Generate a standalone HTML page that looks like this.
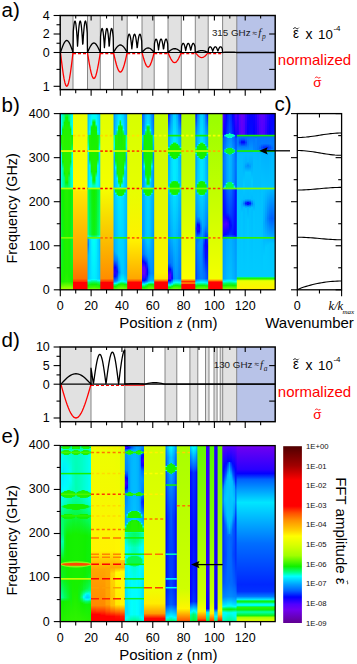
<!DOCTYPE html>
<html><head><meta charset="utf-8"><style>
html,body{margin:0;padding:0;background:#fff;width:357px;height:664px;overflow:hidden}
svg{display:block}
</style></head><body>
<svg width="357" height="664" viewBox="0 0 357 664">
<rect x="60.20" y="15.50" width="215.00" height="74.10" fill="#fff" />
<rect x="60.50" y="15.50" width="12.50" height="74.10" fill="#e1e1e1" />
<rect x="87.50" y="15.50" width="12.80" height="74.10" fill="#e1e1e1" />
<rect x="113.50" y="15.50" width="13.70" height="74.10" fill="#e1e1e1" />
<rect x="142.00" y="15.50" width="12.20" height="74.10" fill="#e1e1e1" />
<rect x="168.00" y="15.50" width="13.30" height="74.10" fill="#e1e1e1" />
<rect x="195.30" y="15.50" width="12.90" height="74.10" fill="#e1e1e1" />
<rect x="222.60" y="15.50" width="14.20" height="74.10" fill="#e1e1e1" />
<rect x="236.80" y="15.50" width="38.40" height="74.10" fill="#b8c3e8" />
<line x1="73.00" y1="15.50" x2="73.00" y2="89.60" stroke="#7a7a7a" stroke-width="0.9"/>
<line x1="87.50" y1="15.50" x2="87.50" y2="89.60" stroke="#7a7a7a" stroke-width="0.9"/>
<line x1="100.30" y1="15.50" x2="100.30" y2="89.60" stroke="#7a7a7a" stroke-width="0.9"/>
<line x1="113.50" y1="15.50" x2="113.50" y2="89.60" stroke="#7a7a7a" stroke-width="0.9"/>
<line x1="127.20" y1="15.50" x2="127.20" y2="89.60" stroke="#7a7a7a" stroke-width="0.9"/>
<line x1="142.00" y1="15.50" x2="142.00" y2="89.60" stroke="#7a7a7a" stroke-width="0.9"/>
<line x1="154.20" y1="15.50" x2="154.20" y2="89.60" stroke="#7a7a7a" stroke-width="0.9"/>
<line x1="168.00" y1="15.50" x2="168.00" y2="89.60" stroke="#7a7a7a" stroke-width="0.9"/>
<line x1="181.30" y1="15.50" x2="181.30" y2="89.60" stroke="#7a7a7a" stroke-width="0.9"/>
<line x1="195.30" y1="15.50" x2="195.30" y2="89.60" stroke="#7a7a7a" stroke-width="0.9"/>
<line x1="208.20" y1="15.50" x2="208.20" y2="89.60" stroke="#7a7a7a" stroke-width="0.9"/>
<line x1="222.60" y1="15.50" x2="222.60" y2="89.60" stroke="#7a7a7a" stroke-width="0.9"/>
<line x1="236.80" y1="15.50" x2="236.80" y2="89.60" stroke="#7a7a7a" stroke-width="0.9"/>
<polyline points="60.50,52.50 61.54,49.39 62.58,46.49 63.62,44.00 64.67,42.09 65.71,40.88 66.75,40.48 67.79,40.88 68.83,42.09 69.88,44.00 70.92,46.49 71.96,49.39 73.00,52.50 73.00,52.50 73.30,31.55 73.60,28.15 73.91,25.39 74.21,23.29 74.51,21.87 74.81,21.15 75.11,21.13 75.42,21.81 75.72,23.20 76.02,25.26 76.32,27.98 76.62,31.34 76.93,35.35 77.23,40.09 77.53,46.14 77.83,41.90 78.14,36.85 78.44,32.62 78.74,29.04 79.04,26.10 79.34,23.81 79.65,22.20 79.95,21.28 80.25,21.06 80.55,21.55 80.85,22.74 81.16,24.61 81.46,27.15 81.76,30.34 82.06,34.16 82.36,38.68 82.67,44.19 82.97,43.54 83.27,38.17 83.57,33.73 83.88,29.97 84.18,26.86 84.48,24.39 84.78,22.58 85.08,21.47 85.39,21.05 85.69,21.34 85.99,22.34 86.29,24.02 86.59,26.37 86.90,29.38 87.20,33.02 87.50,52.50 87.50,52.50 88.57,50.03 89.63,47.74 90.70,45.76 91.77,44.25 92.83,43.30 93.90,42.97 94.97,43.30 96.03,44.25 97.10,45.76 98.17,47.74 99.23,50.03 100.30,52.50 100.30,52.50 100.58,36.48 100.85,33.88 101.12,31.77 101.40,30.17 101.67,29.08 101.95,28.53 102.22,28.51 102.50,29.03 102.77,30.09 103.05,31.67 103.33,33.75 103.60,36.32 103.88,39.39 104.15,43.01 104.42,47.64 104.70,44.39 104.97,40.53 105.25,37.29 105.52,34.56 105.80,32.31 106.08,30.56 106.35,29.33 106.62,28.63 106.90,28.46 107.17,28.83 107.45,29.74 107.72,31.17 108.00,33.12 108.28,35.55 108.55,38.48 108.83,41.93 109.10,46.15 109.38,45.65 109.65,41.54 109.92,38.15 110.20,35.27 110.47,32.89 110.75,31.00 111.03,29.62 111.30,28.77 111.58,28.45 111.85,28.67 112.12,29.43 112.40,30.72 112.67,32.52 112.95,34.82 113.22,37.61 113.50,52.50 113.50,52.50 114.64,50.54 115.78,48.71 116.92,47.14 118.07,45.93 119.21,45.17 120.35,44.91 121.49,45.17 122.63,45.93 123.78,47.14 124.92,48.71 126.06,50.54 127.20,52.50 127.20,52.50 127.51,40.30 127.82,38.32 128.12,36.71 128.43,35.49 128.74,34.66 129.05,34.24 129.36,34.23 129.67,34.63 129.97,35.43 130.28,36.64 130.59,38.22 130.90,40.18 131.21,42.51 131.52,45.27 131.82,48.80 132.13,46.33 132.44,43.39 132.75,40.92 133.06,38.84 133.37,37.13 133.68,35.79 133.98,34.86 134.29,34.32 134.60,34.19 134.91,34.48 135.22,35.17 135.53,36.26 135.83,37.74 136.14,39.59 136.45,41.82 136.76,44.45 137.07,47.66 137.38,47.28 137.68,44.16 137.99,41.57 138.30,39.38 138.61,37.57 138.92,36.13 139.22,35.08 139.53,34.43 139.84,34.19 140.15,34.36 140.46,34.93 140.77,35.91 141.07,37.29 141.38,39.04 141.69,41.16 142.00,52.50 142.00,52.50 143.02,51.30 144.03,50.19 145.05,49.23 146.07,48.49 147.08,48.03 148.10,47.88 149.12,48.03 150.13,48.49 151.15,49.23 152.17,50.19 153.18,51.30 154.20,52.50 154.20,52.50 154.49,43.56 154.77,42.12 155.06,40.94 155.35,40.04 155.64,39.44 155.92,39.13 156.21,39.12 156.50,39.41 156.79,40.00 157.07,40.88 157.36,42.04 157.65,43.48 157.94,45.19 158.22,47.21 158.51,49.79 158.80,47.98 159.09,45.83 159.38,44.02 159.66,42.49 159.95,41.24 160.24,40.27 160.53,39.58 160.81,39.19 161.10,39.09 161.39,39.30 161.67,39.81 161.96,40.61 162.25,41.69 162.54,43.05 162.82,44.68 163.11,46.60 163.40,48.96 163.69,48.68 163.97,46.39 164.26,44.50 164.55,42.89 164.84,41.56 165.12,40.51 165.41,39.74 165.70,39.27 165.99,39.09 166.28,39.21 166.56,39.64 166.85,40.35 167.14,41.36 167.43,42.64 167.71,44.19 168.00,52.50 168.00,52.50 169.11,51.49 170.22,50.56 171.32,49.75 172.43,49.14 173.54,48.75 174.65,48.62 175.76,48.75 176.87,49.14 177.98,49.75 179.08,50.56 180.19,51.49 181.30,52.50 181.30,52.50 181.59,46.40 181.88,45.41 182.18,44.61 182.47,44.00 182.76,43.58 183.05,43.37 183.34,43.37 183.63,43.56 183.93,43.97 184.22,44.57 184.51,45.36 184.80,46.34 185.09,47.51 185.38,48.89 185.68,50.65 185.97,49.41 186.26,47.94 186.55,46.71 186.84,45.67 187.13,44.81 187.43,44.15 187.72,43.68 188.01,43.41 188.30,43.35 188.59,43.49 188.88,43.83 189.18,44.38 189.47,45.12 189.76,46.05 190.05,47.16 190.34,48.47 190.63,50.08 190.93,49.89 191.22,48.33 191.51,47.04 191.80,45.94 192.09,45.03 192.38,44.31 192.68,43.79 192.97,43.46 193.26,43.34 193.55,43.43 193.84,43.72 194.13,44.21 194.43,44.89 194.72,45.77 195.01,46.83 195.30,52.50 195.30,52.50 196.38,52.02 197.45,51.58 198.53,51.19 199.60,50.90 200.68,50.71 201.75,50.65 202.82,50.71 203.90,50.90 204.97,51.19 206.05,51.58 207.12,52.02 208.20,52.50 208.20,52.50 208.50,48.68 208.80,48.06 209.10,47.56 209.40,47.17 209.70,46.92 210.00,46.78 210.30,46.78 210.60,46.90 210.90,47.16 211.20,47.53 211.50,48.03 211.80,48.64 212.10,49.37 212.40,50.24 212.70,51.34 213.00,50.57 213.30,49.65 213.60,48.87 213.90,48.22 214.20,47.69 214.50,47.27 214.80,46.97 215.10,46.81 215.40,46.77 215.70,46.86 216.00,47.07 216.30,47.41 216.60,47.88 216.90,48.46 217.20,49.16 217.50,49.98 217.80,50.98 218.10,50.87 218.40,49.89 218.70,49.08 219.00,48.39 219.30,47.82 219.60,47.37 219.90,47.04 220.20,46.84 220.50,46.77 220.80,46.82 221.10,47.00 221.40,47.31 221.70,47.74 222.00,48.28 222.30,48.95 222.60,52.50 222.60,52.50 223.78,52.38 224.97,52.27 226.15,52.17 227.33,52.10 228.52,52.05 229.70,52.04 230.88,52.05 232.07,52.10 233.25,52.17 234.43,52.27 235.62,52.38 236.80,52.50 275.20,52.50" fill="none" stroke="#000" stroke-width="1.3" stroke-linejoin="round"/>
<polyline points="60.50,52.50 61.39,60.02 62.29,67.17 63.18,73.57 64.07,78.93 64.96,82.95 65.86,85.45 66.75,86.30 67.64,85.45 68.54,82.95 69.43,78.93 70.32,73.57 71.21,67.17 72.11,60.02 73.00,52.50" fill="none" stroke="#ff0000" stroke-width="1.3" stroke-linejoin="round"/>
<polyline points="87.50,52.50 88.41,58.29 89.33,63.79 90.24,68.73 91.16,72.85 92.07,75.95 92.99,77.87 93.90,78.53 94.81,77.87 95.73,75.95 96.64,72.85 97.56,68.73 98.47,63.79 99.39,58.29 100.30,52.50" fill="none" stroke="#ff0000" stroke-width="1.3" stroke-linejoin="round"/>
<polyline points="113.50,52.50 114.48,56.86 115.46,61.01 116.44,64.72 117.41,67.83 118.39,70.16 119.37,71.61 120.35,72.10 121.33,71.61 122.31,70.16 123.29,67.83 124.26,64.72 125.24,61.01 126.22,56.86 127.20,52.50" fill="none" stroke="#ff0000" stroke-width="1.3" stroke-linejoin="round"/>
<polyline points="142.00,52.50 142.87,55.73 143.74,58.81 144.61,61.56 145.49,63.86 146.36,65.59 147.23,66.67 148.10,67.03 148.97,66.67 149.84,65.59 150.71,63.86 151.59,61.56 152.46,58.81 153.33,55.73 154.20,52.50" fill="none" stroke="#ff0000" stroke-width="1.3" stroke-linejoin="round"/>
<polyline points="168.00,52.50 168.95,54.76 169.90,56.90 170.85,58.82 171.80,60.43 172.75,61.64 173.70,62.39 174.65,62.64 175.60,62.39 176.55,61.64 177.50,60.43 178.45,58.82 179.40,56.90 180.35,54.76 181.30,52.50" fill="none" stroke="#ff0000" stroke-width="1.3" stroke-linejoin="round"/>
<polyline points="195.30,52.50 196.22,53.63 197.14,54.70 198.06,55.66 198.99,56.46 199.91,57.07 200.83,57.44 201.75,57.57 202.67,57.44 203.59,57.07 204.51,56.46 205.44,55.66 206.36,54.70 207.28,53.63 208.20,52.50" fill="none" stroke="#ff0000" stroke-width="1.3" stroke-linejoin="round"/>
<polyline points="73.00,53.70 87.50,53.70" fill="none" stroke="#ff0000" stroke-width="1.2" stroke-linejoin="round" stroke-dasharray="3,2"/>
<polyline points="100.30,53.70 113.50,53.70" fill="none" stroke="#ff0000" stroke-width="1.2" stroke-linejoin="round" stroke-dasharray="3,2"/>
<polyline points="127.20,53.70 142.00,53.70" fill="none" stroke="#ff0000" stroke-width="1.2" stroke-linejoin="round" stroke-dasharray="3,2"/>
<polyline points="154.20,53.70 168.00,53.70" fill="none" stroke="#ff0000" stroke-width="1.2" stroke-linejoin="round" stroke-dasharray="3,2"/>
<polyline points="181.30,53.70 195.30,53.70" fill="none" stroke="#ff0000" stroke-width="1.2" stroke-linejoin="round" stroke-dasharray="3,2"/>
<polyline points="208.20,53.70 222.60,53.70" fill="none" stroke="#ff0000" stroke-width="1.2" stroke-linejoin="round" stroke-dasharray="3,2"/>
<line x1="60.20" y1="52.50" x2="275.20" y2="52.50" stroke="#000" stroke-width="1.2"/>
<rect x="60.2" y="15.5" width="215.00" height="74.10" fill="none" stroke="#000" stroke-width="1.45"/>
<line x1="53.60" y1="15.50" x2="60.20" y2="15.50" stroke="#000" stroke-width="1.1"/>
<text x="49.80" y="19.90" font-size="12.5" text-anchor="end" fill="#000" font-family='"Liberation Sans", sans-serif' >4</text>
<line x1="53.60" y1="34.00" x2="60.20" y2="34.00" stroke="#000" stroke-width="1.1"/>
<text x="49.80" y="38.40" font-size="12.5" text-anchor="end" fill="#000" font-family='"Liberation Sans", sans-serif' >2</text>
<line x1="53.60" y1="52.50" x2="60.20" y2="52.50" stroke="#000" stroke-width="1.1"/>
<text x="49.80" y="56.90" font-size="12.5" text-anchor="end" fill="#000" font-family='"Liberation Sans", sans-serif' >0</text>
<line x1="56.50" y1="24.75" x2="60.20" y2="24.75" stroke="#000" stroke-width="1.1"/>
<line x1="56.50" y1="43.25" x2="60.20" y2="43.25" stroke="#000" stroke-width="1.1"/>
<line x1="53.60" y1="86.30" x2="60.20" y2="86.30" stroke="#000" stroke-width="1.1"/>
<text x="49.80" y="90.70" font-size="12.5" text-anchor="end" fill="#000" font-family='"Liberation Sans", sans-serif' >1</text>
<line x1="56.50" y1="69.40" x2="60.20" y2="69.40" stroke="#000" stroke-width="1.1"/>
<line x1="269.20" y1="34.00" x2="275.20" y2="34.00" stroke="#000" stroke-width="1.1"/>
<line x1="269.20" y1="69.40" x2="275.20" y2="69.40" stroke="#000" stroke-width="1.1"/>
<line x1="75.71" y1="15.50" x2="75.71" y2="18.50" stroke="#000" stroke-width="1.1"/>
<line x1="91.12" y1="15.50" x2="91.12" y2="20.50" stroke="#000" stroke-width="1.1"/>
<line x1="106.53" y1="15.50" x2="106.53" y2="18.50" stroke="#000" stroke-width="1.1"/>
<line x1="121.94" y1="15.50" x2="121.94" y2="20.50" stroke="#000" stroke-width="1.1"/>
<line x1="137.35" y1="15.50" x2="137.35" y2="18.50" stroke="#000" stroke-width="1.1"/>
<line x1="152.76" y1="15.50" x2="152.76" y2="20.50" stroke="#000" stroke-width="1.1"/>
<line x1="168.17" y1="15.50" x2="168.17" y2="18.50" stroke="#000" stroke-width="1.1"/>
<line x1="183.58" y1="15.50" x2="183.58" y2="20.50" stroke="#000" stroke-width="1.1"/>
<line x1="198.99" y1="15.50" x2="198.99" y2="18.50" stroke="#000" stroke-width="1.1"/>
<line x1="214.40" y1="15.50" x2="214.40" y2="20.50" stroke="#000" stroke-width="1.1"/>
<line x1="229.81" y1="15.50" x2="229.81" y2="18.50" stroke="#000" stroke-width="1.1"/>
<line x1="245.22" y1="15.50" x2="245.22" y2="20.50" stroke="#000" stroke-width="1.1"/>
<line x1="260.63" y1="15.50" x2="260.63" y2="18.50" stroke="#000" stroke-width="1.1"/>
<line x1="60.30" y1="89.60" x2="60.30" y2="95.80" stroke="#000" stroke-width="1.1"/>
<line x1="75.71" y1="89.60" x2="75.71" y2="93.20" stroke="#000" stroke-width="1.1"/>
<line x1="91.12" y1="89.60" x2="91.12" y2="95.80" stroke="#000" stroke-width="1.1"/>
<line x1="106.53" y1="89.60" x2="106.53" y2="93.20" stroke="#000" stroke-width="1.1"/>
<line x1="121.94" y1="89.60" x2="121.94" y2="95.80" stroke="#000" stroke-width="1.1"/>
<line x1="137.35" y1="89.60" x2="137.35" y2="93.20" stroke="#000" stroke-width="1.1"/>
<line x1="152.76" y1="89.60" x2="152.76" y2="95.80" stroke="#000" stroke-width="1.1"/>
<line x1="168.17" y1="89.60" x2="168.17" y2="93.20" stroke="#000" stroke-width="1.1"/>
<line x1="183.58" y1="89.60" x2="183.58" y2="95.80" stroke="#000" stroke-width="1.1"/>
<line x1="198.99" y1="89.60" x2="198.99" y2="93.20" stroke="#000" stroke-width="1.1"/>
<line x1="214.40" y1="89.60" x2="214.40" y2="95.80" stroke="#000" stroke-width="1.1"/>
<line x1="229.81" y1="89.60" x2="229.81" y2="93.20" stroke="#000" stroke-width="1.1"/>
<line x1="245.22" y1="89.60" x2="245.22" y2="95.80" stroke="#000" stroke-width="1.1"/>
<line x1="260.63" y1="89.60" x2="260.63" y2="93.20" stroke="#000" stroke-width="1.1"/>
<text x="250.60" y="36.10" font-size="9.8" text-anchor="end" fill="#1a1a1a" font-family='"Liberation Sans", sans-serif' >315 GHz</text>
<text x="252.60" y="35.50" font-size="8.5" text-anchor="start" fill="#1a1a1a" font-family='"Liberation Sans", sans-serif' >&#8776;</text>
<text x="258.20" y="36.10" font-size="11" text-anchor="start" fill="#1a1a1a" font-family='"Liberation Serif", serif' font-style="italic">f</text>
<text x="262.00" y="38.90" font-size="7.5" text-anchor="start" fill="#1a1a1a" font-family='"Liberation Serif", serif' font-style="italic">p</text>
<text x="293.10" y="38.30" font-size="15.5" text-anchor="start" fill="#000" font-family='"Liberation Sans", sans-serif' textLength="5.9" lengthAdjust="spacingAndGlyphs">&#949;</text>
<path d="M293.30,28.90 C294.40,27.30 295.23,27.50 296.05,28.20 S297.70,29.30 298.80,27.70" fill="none" stroke="#000" stroke-width="0.9"/>
<text x="305.40" y="38.50" font-size="14" text-anchor="start" fill="#000" font-family='"Liberation Sans", sans-serif' >x</text>
<text x="332.90" y="38.50" font-size="13.3" text-anchor="end" fill="#000" font-family='"Liberation Sans", sans-serif' >10</text>
<text x="333.40" y="30.90" font-size="8" text-anchor="start" fill="#000" font-family='"Liberation Sans", sans-serif' >-4</text>
<text x="314.50" y="65.20" font-size="15" text-anchor="middle" fill="#ff0000" font-family='"Liberation Sans", sans-serif' >normalized</text>
<text x="317.50" y="86.80" font-size="13.5" text-anchor="middle" fill="#ff0000" font-family='"Liberation Sans", sans-serif' >&#963;</text>
<path d="M315.00,78.20 C316.08,76.60 316.89,76.80 317.70,77.50 S319.32,78.60 320.40,77.00" fill="none" stroke="#ff0000" stroke-width="0.9"/>
<rect x="60.20" y="347.00" width="215.00" height="74.70" fill="#fff" />
<rect x="60.90" y="347.00" width="30.10" height="74.70" fill="#e1e1e1" />
<rect x="124.80" y="347.00" width="19.70" height="74.70" fill="#e1e1e1" />
<rect x="165.00" y="347.00" width="11.80" height="74.70" fill="#e1e1e1" />
<rect x="189.90" y="347.00" width="7.90" height="74.70" fill="#e1e1e1" />
<rect x="205.50" y="347.00" width="3.50" height="74.70" fill="#e1e1e1" />
<rect x="214.00" y="347.00" width="3.10" height="74.70" fill="#e1e1e1" />
<rect x="220.20" y="347.00" width="2.50" height="74.70" fill="#e1e1e1" />
<rect x="222.70" y="347.00" width="14.00" height="74.70" fill="#e1e1e1" />
<rect x="236.70" y="347.00" width="38.50" height="74.70" fill="#b8c3e8" />
<line x1="91.00" y1="347.00" x2="91.00" y2="421.70" stroke="#7a7a7a" stroke-width="0.9"/>
<line x1="124.80" y1="347.00" x2="124.80" y2="421.70" stroke="#7a7a7a" stroke-width="0.9"/>
<line x1="144.50" y1="347.00" x2="144.50" y2="421.70" stroke="#7a7a7a" stroke-width="0.9"/>
<line x1="165.00" y1="347.00" x2="165.00" y2="421.70" stroke="#7a7a7a" stroke-width="0.9"/>
<line x1="176.80" y1="347.00" x2="176.80" y2="421.70" stroke="#7a7a7a" stroke-width="0.9"/>
<line x1="189.90" y1="347.00" x2="189.90" y2="421.70" stroke="#7a7a7a" stroke-width="0.9"/>
<line x1="197.80" y1="347.00" x2="197.80" y2="421.70" stroke="#7a7a7a" stroke-width="0.9"/>
<line x1="205.50" y1="347.00" x2="205.50" y2="421.70" stroke="#7a7a7a" stroke-width="0.9"/>
<line x1="209.00" y1="347.00" x2="209.00" y2="421.70" stroke="#7a7a7a" stroke-width="0.9"/>
<line x1="214.00" y1="347.00" x2="214.00" y2="421.70" stroke="#7a7a7a" stroke-width="0.9"/>
<line x1="217.10" y1="347.00" x2="217.10" y2="421.70" stroke="#7a7a7a" stroke-width="0.9"/>
<line x1="220.20" y1="347.00" x2="220.20" y2="421.70" stroke="#7a7a7a" stroke-width="0.9"/>
<line x1="222.70" y1="347.00" x2="222.70" y2="421.70" stroke="#7a7a7a" stroke-width="0.9"/>
<line x1="236.70" y1="347.00" x2="236.70" y2="421.70" stroke="#7a7a7a" stroke-width="0.9"/>
<polyline points="60.90,384.20 62.15,382.83 63.41,381.48 64.66,380.19 65.92,378.95 67.17,377.81 68.42,376.78 69.68,375.88 70.93,375.12 72.19,374.51 73.44,374.07 74.70,373.80 75.95,373.71 77.20,373.80 78.46,374.07 79.71,374.51 80.97,375.12 82.22,375.88 83.47,376.78 84.73,377.81 85.98,378.95 87.24,380.19 88.49,381.48 89.75,382.83 91.00,384.20 91.00,384.20 91.00,368.27 91.28,369.93 91.56,371.66 91.84,373.45 92.13,375.31 92.41,377.22 92.69,379.17 92.97,381.15 93.25,383.15 93.53,383.23 93.82,381.22 94.10,379.21 94.38,377.22 94.66,375.25 94.94,373.33 95.22,371.45 95.51,369.63 95.79,367.87 96.07,366.19 96.35,364.59 96.63,363.08 96.92,361.67 97.20,360.37 97.48,359.19 97.76,358.12 98.04,357.17 98.32,356.36 98.61,355.69 98.89,355.15 99.17,354.75 99.45,354.50 99.73,354.39 100.01,354.43 100.30,354.62 100.58,354.95 100.86,355.43 101.14,356.06 101.42,356.82 101.70,357.73 101.98,358.76 102.27,359.93 102.55,361.22 102.83,362.63 103.11,364.15 103.39,365.77 103.67,367.49 103.96,369.30 104.24,371.19 104.52,373.14 104.80,375.16 105.08,377.23 105.36,379.34 105.65,381.49 105.93,383.65 106.21,382.58 106.49,380.41 106.77,378.25 107.06,376.11 107.34,374.01 107.62,371.95 107.90,369.94 108.18,368.00 108.46,366.13 108.75,364.35 109.03,362.66 109.31,361.07 109.59,359.59 109.87,358.22 110.15,356.98 110.44,355.87 110.72,354.90 111.00,354.07 111.28,353.38 111.56,352.85 111.84,352.46 112.12,352.24 112.41,352.17 112.69,352.26 112.97,352.51 113.25,352.91 113.53,353.47 113.81,354.19 114.10,355.05 114.38,356.06 114.66,357.22 114.94,358.51 115.22,359.93 115.50,361.48 115.79,363.14 116.07,364.91 116.35,366.78 116.63,368.75 116.91,370.79 117.19,372.91 117.48,375.10 117.76,377.33 118.04,379.60 118.32,381.91 118.60,384.17 118.88,381.84 119.17,379.52 119.45,377.21 119.73,374.93 120.01,372.69 120.29,370.50 120.57,368.37 120.86,366.31 121.14,364.34 121.42,362.46 121.70,360.67 121.98,359.00 122.27,357.45 122.55,356.03 122.83,354.74 123.11,353.60 123.39,352.60 123.67,351.75 123.95,351.07 124.24,350.54 124.52,350.18 124.80,349.99 124.80,384.20 124.80,384.20 126.77,384.01 128.74,383.85 130.71,383.71 132.68,383.63 134.65,383.60 136.62,383.63 138.59,383.71 140.56,383.85 142.53,384.01 144.50,384.20 144.50,384.20 146.21,383.81 147.92,383.46 149.62,383.15 151.33,382.91 153.04,382.76 154.75,382.71 156.46,382.76 158.17,382.91 159.88,383.15 161.58,383.46 163.29,383.81 165.00,384.20 275.20,384.20" fill="none" stroke="#000" stroke-width="1.3" stroke-linejoin="round"/>
<polyline points="60.90,384.20 62.15,388.61 63.41,392.95 64.66,397.13 65.92,401.10 67.17,404.78 68.42,408.10 69.68,411.02 70.93,413.47 72.19,415.43 73.44,416.85 74.70,417.71 75.95,418.00 77.20,417.71 78.46,416.85 79.71,415.43 80.97,413.47 82.22,411.02 83.47,408.10 84.73,404.78 85.98,401.10 87.24,397.13 88.49,392.95 89.75,388.61 91.00,384.20" fill="none" stroke="#ff0000" stroke-width="1.3" stroke-linejoin="round"/>
<polyline points="91.00,385.50 124.80,385.50" fill="none" stroke="#ff0000" stroke-width="1.2" stroke-linejoin="round" stroke-dasharray="3,2"/>
<polyline points="124.80,385.20 144.50,385.20" fill="none" stroke="#ff0000" stroke-width="1.1" stroke-linejoin="round"/>
<line x1="60.20" y1="384.20" x2="275.20" y2="384.20" stroke="#000" stroke-width="1.2"/>
<rect x="60.2" y="347.0" width="215.00" height="74.70" fill="none" stroke="#000" stroke-width="1.45"/>
<line x1="53.60" y1="347.00" x2="60.20" y2="347.00" stroke="#000" stroke-width="1.1"/>
<text x="49.80" y="351.40" font-size="12.5" text-anchor="end" fill="#000" font-family='"Liberation Sans", sans-serif' >10</text>
<line x1="53.60" y1="365.60" x2="60.20" y2="365.60" stroke="#000" stroke-width="1.1"/>
<text x="49.80" y="370.00" font-size="12.5" text-anchor="end" fill="#000" font-family='"Liberation Sans", sans-serif' >5</text>
<line x1="53.60" y1="384.20" x2="60.20" y2="384.20" stroke="#000" stroke-width="1.1"/>
<text x="49.80" y="388.60" font-size="12.5" text-anchor="end" fill="#000" font-family='"Liberation Sans", sans-serif' >0</text>
<line x1="56.50" y1="356.30" x2="60.20" y2="356.30" stroke="#000" stroke-width="1.1"/>
<line x1="56.50" y1="374.90" x2="60.20" y2="374.90" stroke="#000" stroke-width="1.1"/>
<line x1="53.60" y1="418.00" x2="60.20" y2="418.00" stroke="#000" stroke-width="1.1"/>
<text x="49.80" y="422.40" font-size="12.5" text-anchor="end" fill="#000" font-family='"Liberation Sans", sans-serif' >1</text>
<line x1="56.50" y1="401.10" x2="60.20" y2="401.10" stroke="#000" stroke-width="1.1"/>
<line x1="269.20" y1="365.60" x2="275.20" y2="365.60" stroke="#000" stroke-width="1.1"/>
<line x1="269.20" y1="401.10" x2="275.20" y2="401.10" stroke="#000" stroke-width="1.1"/>
<line x1="75.71" y1="347.00" x2="75.71" y2="350.00" stroke="#000" stroke-width="1.1"/>
<line x1="91.12" y1="347.00" x2="91.12" y2="352.00" stroke="#000" stroke-width="1.1"/>
<line x1="106.53" y1="347.00" x2="106.53" y2="350.00" stroke="#000" stroke-width="1.1"/>
<line x1="121.94" y1="347.00" x2="121.94" y2="352.00" stroke="#000" stroke-width="1.1"/>
<line x1="137.35" y1="347.00" x2="137.35" y2="350.00" stroke="#000" stroke-width="1.1"/>
<line x1="152.76" y1="347.00" x2="152.76" y2="352.00" stroke="#000" stroke-width="1.1"/>
<line x1="168.17" y1="347.00" x2="168.17" y2="350.00" stroke="#000" stroke-width="1.1"/>
<line x1="183.58" y1="347.00" x2="183.58" y2="352.00" stroke="#000" stroke-width="1.1"/>
<line x1="198.99" y1="347.00" x2="198.99" y2="350.00" stroke="#000" stroke-width="1.1"/>
<line x1="214.40" y1="347.00" x2="214.40" y2="352.00" stroke="#000" stroke-width="1.1"/>
<line x1="229.81" y1="347.00" x2="229.81" y2="350.00" stroke="#000" stroke-width="1.1"/>
<line x1="245.22" y1="347.00" x2="245.22" y2="352.00" stroke="#000" stroke-width="1.1"/>
<line x1="260.63" y1="347.00" x2="260.63" y2="350.00" stroke="#000" stroke-width="1.1"/>
<line x1="60.30" y1="421.70" x2="60.30" y2="427.90" stroke="#000" stroke-width="1.1"/>
<line x1="75.71" y1="421.70" x2="75.71" y2="425.30" stroke="#000" stroke-width="1.1"/>
<line x1="91.12" y1="421.70" x2="91.12" y2="427.90" stroke="#000" stroke-width="1.1"/>
<line x1="106.53" y1="421.70" x2="106.53" y2="425.30" stroke="#000" stroke-width="1.1"/>
<line x1="121.94" y1="421.70" x2="121.94" y2="427.90" stroke="#000" stroke-width="1.1"/>
<line x1="137.35" y1="421.70" x2="137.35" y2="425.30" stroke="#000" stroke-width="1.1"/>
<line x1="152.76" y1="421.70" x2="152.76" y2="427.90" stroke="#000" stroke-width="1.1"/>
<line x1="168.17" y1="421.70" x2="168.17" y2="425.30" stroke="#000" stroke-width="1.1"/>
<line x1="183.58" y1="421.70" x2="183.58" y2="427.90" stroke="#000" stroke-width="1.1"/>
<line x1="198.99" y1="421.70" x2="198.99" y2="425.30" stroke="#000" stroke-width="1.1"/>
<line x1="214.40" y1="421.70" x2="214.40" y2="427.90" stroke="#000" stroke-width="1.1"/>
<line x1="229.81" y1="421.70" x2="229.81" y2="425.30" stroke="#000" stroke-width="1.1"/>
<line x1="245.22" y1="421.70" x2="245.22" y2="427.90" stroke="#000" stroke-width="1.1"/>
<line x1="260.63" y1="421.70" x2="260.63" y2="425.30" stroke="#000" stroke-width="1.1"/>
<text x="252.40" y="368.00" font-size="9.8" text-anchor="end" fill="#1a1a1a" font-family='"Liberation Sans", sans-serif' >130 GHz</text>
<text x="254.40" y="367.40" font-size="8.5" text-anchor="start" fill="#1a1a1a" font-family='"Liberation Sans", sans-serif' >&#8776;</text>
<text x="260.00" y="368.00" font-size="11" text-anchor="start" fill="#1a1a1a" font-family='"Liberation Serif", serif' font-style="italic">f</text>
<text x="263.80" y="370.80" font-size="7.5" text-anchor="start" fill="#1a1a1a" font-family='"Liberation Serif", serif' font-style="italic">a</text>
<text x="293.10" y="369.40" font-size="15.5" text-anchor="start" fill="#000" font-family='"Liberation Sans", sans-serif' textLength="5.9" lengthAdjust="spacingAndGlyphs">&#949;</text>
<path d="M293.30,360.00 C294.40,358.40 295.23,358.60 296.05,359.30 S297.70,360.40 298.80,358.80" fill="none" stroke="#000" stroke-width="0.9"/>
<text x="305.40" y="369.60" font-size="14" text-anchor="start" fill="#000" font-family='"Liberation Sans", sans-serif' >x</text>
<text x="332.90" y="369.60" font-size="13.3" text-anchor="end" fill="#000" font-family='"Liberation Sans", sans-serif' >10</text>
<text x="333.40" y="362.00" font-size="8" text-anchor="start" fill="#000" font-family='"Liberation Sans", sans-serif' >-4</text>
<text x="314.50" y="397.20" font-size="15" text-anchor="middle" fill="#ff0000" font-family='"Liberation Sans", sans-serif' >normalized</text>
<text x="317.50" y="418.80" font-size="13.5" text-anchor="middle" fill="#ff0000" font-family='"Liberation Sans", sans-serif' >&#963;</text>
<path d="M315.00,410.20 C316.08,408.60 316.89,408.80 317.70,409.50 S319.32,410.60 320.40,409.00" fill="none" stroke="#ff0000" stroke-width="0.9"/>
<defs><linearGradient id="gb0" x2="0" y2="1"><stop offset=".003" stop-color="#00f9ff"/><stop offset=".116" stop-color="#00fffe"/><stop offset=".122" stop-color="#18f100"/><stop offset=".162" stop-color="#0ef212"/><stop offset=".207" stop-color="#00ff8a"/><stop offset=".236" stop-color="#00ffed"/><stop offset=".418" stop-color="#00ffe7"/><stop offset=".423" stop-color="#02fd73"/><stop offset=".429" stop-color="#0df317"/><stop offset=".702" stop-color="#0af634"/><stop offset=".764" stop-color="#0af634"/><stop offset=".952" stop-color="#15f100"/><stop offset=".986" stop-color="#81fc00"/><stop offset=".997" stop-color="#a7ff00"/></linearGradient><linearGradient id="gb1" x2="0" y2="1"><stop offset=".003" stop-color="#00ffb2"/><stop offset=".06" stop-color="#00ffb2"/><stop offset=".071" stop-color="#02fd6f"/><stop offset=".088" stop-color="#10f001"/><stop offset=".139" stop-color="#2ff300"/><stop offset=".259" stop-color="#25f200"/><stop offset=".27" stop-color="#10f000"/><stop offset=".31" stop-color="#00ffa8"/><stop offset=".418" stop-color="#00ffa6"/><stop offset=".429" stop-color="#10f000"/><stop offset=".702" stop-color="#0df316"/><stop offset=".781" stop-color="#0df316"/><stop offset=".952" stop-color="#1ef100"/><stop offset=".986" stop-color="#89fd00"/><stop offset=".997" stop-color="#af0"/></linearGradient><linearGradient id="gb2" x2="0" y2="1"><stop offset=".003" stop-color="#03fd6c"/><stop offset=".031" stop-color="#02fd6d"/><stop offset=".043" stop-color="#0af52d"/><stop offset=".048" stop-color="#10f003"/><stop offset=".077" stop-color="#22f200"/><stop offset=".321" stop-color="#2df300"/><stop offset=".338" stop-color="#0ff107"/><stop offset=".361" stop-color="#03fc6a"/><stop offset=".418" stop-color="#02fe74"/><stop offset=".429" stop-color="#1af100"/><stop offset=".923" stop-color="#1bf100"/><stop offset=".952" stop-color="#24f200"/><stop offset=".986" stop-color="#90fd00"/><stop offset=".997" stop-color="#adff00"/></linearGradient><linearGradient id="gb3" x2="0" y2="1"><stop offset=".003" stop-color="#08f842"/><stop offset=".02" stop-color="#14f000"/><stop offset=".077" stop-color="#22f200"/><stop offset=".372" stop-color="#2ff300"/><stop offset=".389" stop-color="#11f000"/><stop offset=".412" stop-color="#05fa58"/><stop offset=".418" stop-color="#05fa58"/><stop offset=".423" stop-color="#0cf31c"/><stop offset=".429" stop-color="#21f200"/><stop offset=".895" stop-color="#1ef100"/><stop offset=".952" stop-color="#29f300"/><stop offset=".997" stop-color="#afff00"/></linearGradient><linearGradient id="gb4" x2="0" y2="1"><stop offset=".003" stop-color="#08f842"/><stop offset=".02" stop-color="#14f000"/><stop offset=".077" stop-color="#22f200"/><stop offset=".372" stop-color="#2ff300"/><stop offset=".389" stop-color="#11f000"/><stop offset=".412" stop-color="#05fa58"/><stop offset=".418" stop-color="#05fa58"/><stop offset=".423" stop-color="#0cf31c"/><stop offset=".429" stop-color="#21f200"/><stop offset=".895" stop-color="#1ef100"/><stop offset=".952" stop-color="#29f300"/><stop offset=".997" stop-color="#afff00"/></linearGradient><linearGradient id="gb5" x2="0" y2="1"><stop offset=".003" stop-color="#03fd6c"/><stop offset=".031" stop-color="#02fd6d"/><stop offset=".043" stop-color="#0af52d"/><stop offset=".048" stop-color="#10f003"/><stop offset=".077" stop-color="#22f200"/><stop offset=".321" stop-color="#2df300"/><stop offset=".338" stop-color="#0ff107"/><stop offset=".361" stop-color="#03fc6a"/><stop offset=".418" stop-color="#02fe74"/><stop offset=".429" stop-color="#1af100"/><stop offset=".923" stop-color="#1bf100"/><stop offset=".952" stop-color="#24f200"/><stop offset=".986" stop-color="#90fd00"/><stop offset=".997" stop-color="#adff00"/></linearGradient><linearGradient id="gb6" x2="0" y2="1"><stop offset=".003" stop-color="#00ffb2"/><stop offset=".06" stop-color="#00ffb2"/><stop offset=".071" stop-color="#02fd6f"/><stop offset=".088" stop-color="#10f001"/><stop offset=".139" stop-color="#2ff300"/><stop offset=".259" stop-color="#25f200"/><stop offset=".27" stop-color="#10f000"/><stop offset=".31" stop-color="#00ffa8"/><stop offset=".418" stop-color="#00ffa6"/><stop offset=".429" stop-color="#10f000"/><stop offset=".702" stop-color="#0df316"/><stop offset=".781" stop-color="#0df316"/><stop offset=".952" stop-color="#1ef100"/><stop offset=".986" stop-color="#89fd00"/><stop offset=".997" stop-color="#af0"/></linearGradient><linearGradient id="gb7" x2="0" y2="1"><stop offset=".003" stop-color="#00f8ff"/><stop offset=".116" stop-color="#00feff"/><stop offset=".122" stop-color="#12f000"/><stop offset=".168" stop-color="#0bf529"/><stop offset=".207" stop-color="#00ff9c"/><stop offset=".236" stop-color="#00fff4"/><stop offset=".418" stop-color="#00ffe9"/><stop offset=".423" stop-color="#02fe74"/><stop offset=".429" stop-color="#0df317"/><stop offset=".702" stop-color="#09f635"/><stop offset=".764" stop-color="#09f635"/><stop offset=".952" stop-color="#15f000"/><stop offset=".986" stop-color="#81fc00"/><stop offset=".997" stop-color="#a7ff00"/></linearGradient><linearGradient id="gb8" x2="0" y2="1"><stop offset=".003" stop-color="#ebff00"/><stop offset=".423" stop-color="#fffc00"/><stop offset=".44" stop-color="#ffe700"/><stop offset=".821" stop-color="#ff9d00"/><stop offset=".935" stop-color="#ff7300"/><stop offset=".952" stop-color="#ff3200"/><stop offset=".957" stop-color="#f00"/><stop offset=".997" stop-color="#f00"/></linearGradient><linearGradient id="gb9" x2="0" y2="1"><stop offset=".003" stop-color="#00c4ff"/><stop offset=".116" stop-color="#00cfff"/><stop offset=".122" stop-color="#04fb5c"/><stop offset=".162" stop-color="#00ff8e"/><stop offset=".196" stop-color="#00fbff"/><stop offset=".236" stop-color="#00d3ff"/><stop offset=".418" stop-color="#00daff"/><stop offset=".423" stop-color="#00ffdc"/><stop offset=".429" stop-color="#03fc66"/><stop offset=".679" stop-color="#00ff9e"/><stop offset=".685" stop-color="#00ffa7"/><stop offset=".69" stop-color="#00ffe0"/><stop offset=".696" stop-color="#0ef"/><stop offset=".713" stop-color="#0092ff"/><stop offset=".741" stop-color="#007eff"/><stop offset=".804" stop-color="#00bcff"/><stop offset=".935" stop-color="#00c8ff"/><stop offset=".946" stop-color="#00fbff"/><stop offset=".957" stop-color="#02fe73"/><stop offset=".969" stop-color="#0cf421"/><stop offset=".974" stop-color="#10f002"/><stop offset=".986" stop-color="#33f400"/><stop offset=".997" stop-color="#8bfd00"/></linearGradient><linearGradient id="gb10" x2="0" y2="1"><stop offset=".003" stop-color="#00dfff"/><stop offset=".094" stop-color="#00f2ff"/><stop offset=".099" stop-color="#00fffd"/><stop offset=".116" stop-color="#00ffbc"/><stop offset=".122" stop-color="#22f200"/><stop offset=".247" stop-color="#1af100"/><stop offset=".259" stop-color="#0df214"/><stop offset=".281" stop-color="#00ff97"/><stop offset=".293" stop-color="#00ffe8"/><stop offset=".304" stop-color="#00f3ff"/><stop offset=".418" stop-color="#00f5ff"/><stop offset=".429" stop-color="#09f738"/><stop offset=".685" stop-color="#04fb5d"/><stop offset=".696" stop-color="#00ffbd"/><stop offset=".702" stop-color="#00fffa"/><stop offset=".713" stop-color="#00d1ff"/><stop offset=".935" stop-color="#00d7ff"/><stop offset=".946" stop-color="#00ffe9"/><stop offset=".957" stop-color="#04fb61"/><stop offset=".969" stop-color="#0ef211"/><stop offset=".986" stop-color="#3cf500"/><stop offset=".997" stop-color="#8cfd00"/></linearGradient><linearGradient id="gb11" x2="0" y2="1"><stop offset=".003" stop-color="#00f4ff"/><stop offset=".054" stop-color="#00f9ff"/><stop offset=".06" stop-color="#00ffdb"/><stop offset=".071" stop-color="#08f842"/><stop offset=".077" stop-color="#0ef210"/><stop offset=".099" stop-color="#15f100"/><stop offset=".315" stop-color="#21f200"/><stop offset=".327" stop-color="#0ff108"/><stop offset=".361" stop-color="#00ffdf"/><stop offset=".418" stop-color="#00ffe4"/><stop offset=".423" stop-color="#02fd70"/><stop offset=".429" stop-color="#0ef213"/><stop offset=".685" stop-color="#0af62f"/><stop offset=".702" stop-color="#00ffb2"/><stop offset=".707" stop-color="#00ffe9"/><stop offset=".719" stop-color="#00f0ff"/><stop offset=".935" stop-color="#00e3ff"/><stop offset=".94" stop-color="#00f7ff"/><stop offset=".963" stop-color="#0bf425"/><stop offset=".969" stop-color="#0ff105"/><stop offset=".986" stop-color="#42f500"/><stop offset=".997" stop-color="#8dfd00"/></linearGradient><linearGradient id="gb12" x2="0" y2="1"><stop offset=".003" stop-color="#00fff9"/><stop offset=".026" stop-color="#00ffe4"/><stop offset=".043" stop-color="#0bf52a"/><stop offset=".048" stop-color="#11f000"/><stop offset=".293" stop-color="#22f200"/><stop offset=".378" stop-color="#17f100"/><stop offset=".389" stop-color="#09f636"/><stop offset=".406" stop-color="#00ffad"/><stop offset=".418" stop-color="#00ffc1"/><stop offset=".429" stop-color="#12f000"/><stop offset=".685" stop-color="#0ef213"/><stop offset=".707" stop-color="#00ffc1"/><stop offset=".713" stop-color="#00fff7"/><stop offset=".935" stop-color="#00ebff"/><stop offset=".94" stop-color="#00feff"/><stop offset=".957" stop-color="#07f94a"/><stop offset=".969" stop-color="#11f000"/><stop offset=".986" stop-color="#47f600"/><stop offset=".997" stop-color="#8dfd00"/></linearGradient><linearGradient id="gb13" x2="0" y2="1"><stop offset=".003" stop-color="#00fff9"/><stop offset=".026" stop-color="#00ffe4"/><stop offset=".043" stop-color="#0bf52a"/><stop offset=".048" stop-color="#11f000"/><stop offset=".293" stop-color="#22f200"/><stop offset=".378" stop-color="#17f100"/><stop offset=".389" stop-color="#09f636"/><stop offset=".406" stop-color="#00ffad"/><stop offset=".418" stop-color="#00ffc1"/><stop offset=".429" stop-color="#12f000"/><stop offset=".685" stop-color="#0ef213"/><stop offset=".707" stop-color="#00ffc1"/><stop offset=".713" stop-color="#00fff7"/><stop offset=".935" stop-color="#00ebff"/><stop offset=".94" stop-color="#00feff"/><stop offset=".957" stop-color="#07f94a"/><stop offset=".969" stop-color="#11f000"/><stop offset=".986" stop-color="#47f600"/><stop offset=".997" stop-color="#8dfd00"/></linearGradient><linearGradient id="gb14" x2="0" y2="1"><stop offset=".003" stop-color="#00f4ff"/><stop offset=".054" stop-color="#00f9ff"/><stop offset=".06" stop-color="#00ffdb"/><stop offset=".071" stop-color="#08f842"/><stop offset=".077" stop-color="#0ef210"/><stop offset=".099" stop-color="#15f100"/><stop offset=".315" stop-color="#21f200"/><stop offset=".327" stop-color="#0ff108"/><stop offset=".361" stop-color="#00ffdf"/><stop offset=".418" stop-color="#00ffe4"/><stop offset=".423" stop-color="#02fd70"/><stop offset=".429" stop-color="#0ef213"/><stop offset=".685" stop-color="#0af52f"/><stop offset=".702" stop-color="#00ffb1"/><stop offset=".707" stop-color="#00ffe8"/><stop offset=".719" stop-color="#00f0ff"/><stop offset=".935" stop-color="#00e3ff"/><stop offset=".94" stop-color="#00f7ff"/><stop offset=".963" stop-color="#0bf425"/><stop offset=".969" stop-color="#0ff105"/><stop offset=".986" stop-color="#42f500"/><stop offset=".997" stop-color="#8dfd00"/></linearGradient><linearGradient id="gb15" x2="0" y2="1"><stop offset=".003" stop-color="#00dfff"/><stop offset=".094" stop-color="#00f2ff"/><stop offset=".099" stop-color="#00fffd"/><stop offset=".116" stop-color="#00ffbc"/><stop offset=".122" stop-color="#22f200"/><stop offset=".247" stop-color="#1af100"/><stop offset=".259" stop-color="#0df214"/><stop offset=".281" stop-color="#00ff97"/><stop offset=".293" stop-color="#00ffe8"/><stop offset=".304" stop-color="#00f3ff"/><stop offset=".418" stop-color="#00f5ff"/><stop offset=".429" stop-color="#09f738"/><stop offset=".685" stop-color="#05fa59"/><stop offset=".696" stop-color="#00ffb2"/><stop offset=".702" stop-color="#00ffeb"/><stop offset=".713" stop-color="#00dbff"/><stop offset=".935" stop-color="#00d7ff"/><stop offset=".946" stop-color="#00ffe9"/><stop offset=".957" stop-color="#04fb61"/><stop offset=".969" stop-color="#0ef211"/><stop offset=".986" stop-color="#3cf500"/><stop offset=".997" stop-color="#8cfd00"/></linearGradient><linearGradient id="gb16" x2="0" y2="1"><stop offset=".003" stop-color="#00c4ff"/><stop offset=".116" stop-color="#00cfff"/><stop offset=".122" stop-color="#04fb5c"/><stop offset=".162" stop-color="#00ff8e"/><stop offset=".196" stop-color="#00fbff"/><stop offset=".236" stop-color="#00d3ff"/><stop offset=".418" stop-color="#00daff"/><stop offset=".423" stop-color="#00ffdc"/><stop offset=".429" stop-color="#03fc66"/><stop offset=".685" stop-color="#00ff93"/><stop offset=".696" stop-color="#00fffa"/><stop offset=".713" stop-color="#00bcff"/><stop offset=".935" stop-color="#00c8ff"/><stop offset=".946" stop-color="#00fbff"/><stop offset=".957" stop-color="#02fe73"/><stop offset=".969" stop-color="#0cf421"/><stop offset=".974" stop-color="#10f002"/><stop offset=".986" stop-color="#33f400"/><stop offset=".997" stop-color="#8bfd00"/></linearGradient><linearGradient id="gb17" x2="0" y2="1"><stop offset=".003" stop-color="#e2ff00"/><stop offset=".423" stop-color="#f5ff00"/><stop offset=".935" stop-color="#ff8d00"/><stop offset=".952" stop-color="#ff3200"/><stop offset=".957" stop-color="#f00"/><stop offset=".997" stop-color="#f00"/></linearGradient><linearGradient id="gb18" x2="0" y2="1"><stop offset=".003" stop-color="#009aff"/><stop offset=".116" stop-color="#00a4ff"/><stop offset=".122" stop-color="#00ffa8"/><stop offset=".162" stop-color="#00ffd8"/><stop offset=".185" stop-color="#00f5ff"/><stop offset=".247" stop-color="#00acff"/><stop offset=".52" stop-color="#00bdff"/><stop offset=".77" stop-color="#00a9ff"/><stop offset=".827" stop-color="#0079ff"/><stop offset=".872" stop-color="#0700ff"/><stop offset=".901" stop-color="#2400ff"/><stop offset=".923" stop-color="#000bff"/><stop offset=".952" stop-color="#0089ff"/><stop offset=".963" stop-color="#00f8ff"/><stop offset=".969" stop-color="#00ff85"/><stop offset=".98" stop-color="#0ff10a"/><stop offset=".997" stop-color="#68f900"/></linearGradient><linearGradient id="gb19" x2="0" y2="1"><stop offset=".003" stop-color="#00b8ff"/><stop offset=".116" stop-color="#00c3ff"/><stop offset=".122" stop-color="#22f200"/><stop offset=".253" stop-color="#1bf100"/><stop offset=".264" stop-color="#0ef20d"/><stop offset=".287" stop-color="#00ff80"/><stop offset=".304" stop-color="#00fbff"/><stop offset=".327" stop-color="#0cf"/><stop offset=".418" stop-color="#00cfff"/><stop offset=".423" stop-color="#15f100"/><stop offset=".435" stop-color="#14f000"/><stop offset=".44" stop-color="#0df318"/><stop offset=".446" stop-color="#02fd6e"/><stop offset=".452" stop-color="#00f4ff"/><stop offset=".457" stop-color="#00cfff"/><stop offset=".781" stop-color="#00b7ff"/><stop offset=".832" stop-color="#0079ff"/><stop offset=".872" stop-color="#0400ff"/><stop offset=".901" stop-color="#2400ff"/><stop offset=".923" stop-color="#000eff"/><stop offset=".952" stop-color="#0092ff"/><stop offset=".963" stop-color="#00fffd"/><stop offset=".969" stop-color="#01fe75"/><stop offset=".98" stop-color="#13f000"/><stop offset=".997" stop-color="#6efa00"/></linearGradient><linearGradient id="gb20" x2="0" y2="1"><stop offset=".003" stop-color="#00d2ff"/><stop offset=".082" stop-color="#00e4ff"/><stop offset=".088" stop-color="#0ff"/><stop offset=".099" stop-color="#02fd73"/><stop offset=".111" stop-color="#09f637"/><stop offset=".116" stop-color="#0af52e"/><stop offset=".122" stop-color="#22f200"/><stop offset=".332" stop-color="#19f100"/><stop offset=".338" stop-color="#0ff109"/><stop offset=".355" stop-color="#00ff8a"/><stop offset=".366" stop-color="#00fdff"/><stop offset=".384" stop-color="#00e2ff"/><stop offset=".418" stop-color="#00e3ff"/><stop offset=".423" stop-color="#15f100"/><stop offset=".452" stop-color="#15f100"/><stop offset=".457" stop-color="#0ef211"/><stop offset=".463" stop-color="#00ecff"/><stop offset=".48" stop-color="#00dcff"/><stop offset=".793" stop-color="#00c2ff"/><stop offset=".855" stop-color="#0067ff"/><stop offset=".895" stop-color="#0014ff"/><stop offset=".918" stop-color="#003cff"/><stop offset=".946" stop-color="#0091ff"/><stop offset=".957" stop-color="#00e7ff"/><stop offset=".963" stop-color="#00ffba"/><stop offset=".969" stop-color="#07f848"/><stop offset=".974" stop-color="#0ef210"/><stop offset=".997" stop-color="#79fb00"/></linearGradient><linearGradient id="gb21" x2="0" y2="1"><stop offset=".003" stop-color="#00e4ff"/><stop offset=".054" stop-color="#00edff"/><stop offset=".06" stop-color="#00ffe6"/><stop offset=".065" stop-color="#00ff7e"/><stop offset=".071" stop-color="#0af52e"/><stop offset=".077" stop-color="#11f000"/><stop offset=".23" stop-color="#22f200"/><stop offset=".378" stop-color="#21f200"/><stop offset=".384" stop-color="#13f000"/><stop offset=".395" stop-color="#02fd70"/><stop offset=".401" stop-color="#00ffcd"/><stop offset=".406" stop-color="#00f4ff"/><stop offset=".418" stop-color="#00f1ff"/><stop offset=".423" stop-color="#15f100"/><stop offset=".463" stop-color="#15f100"/><stop offset=".469" stop-color="#00e6ff"/><stop offset=".804" stop-color="#0cf"/><stop offset=".901" stop-color="#0074ff"/><stop offset=".946" stop-color="#00c1ff"/><stop offset=".952" stop-color="#00dfff"/><stop offset=".957" stop-color="#00ffda"/><stop offset=".969" stop-color="#0ef20f"/><stop offset=".997" stop-color="#85fc00"/></linearGradient><linearGradient id="gb22" x2="0" y2="1"><stop offset=".003" stop-color="#00edff"/><stop offset=".031" stop-color="#00f0ff"/><stop offset=".037" stop-color="#02fd73"/><stop offset=".048" stop-color="#0ff10a"/><stop offset=".236" stop-color="#22f200"/><stop offset=".406" stop-color="#22f200"/><stop offset=".412" stop-color="#0cf420"/><stop offset=".418" stop-color="#00f8ff"/><stop offset=".423" stop-color="#15f100"/><stop offset=".463" stop-color="#15f100"/><stop offset=".469" stop-color="#00ebff"/><stop offset=".827" stop-color="#00ceff"/><stop offset=".901" stop-color="#00acff"/><stop offset=".946" stop-color="#00e8ff"/><stop offset=".952" stop-color="#00fffa"/><stop offset=".963" stop-color="#09f738"/><stop offset=".969" stop-color="#20f200"/><stop offset=".997" stop-color="#8efd00"/></linearGradient><linearGradient id="gb23" x2="0" y2="1"><stop offset=".003" stop-color="#00e4ff"/><stop offset=".054" stop-color="#00edff"/><stop offset=".06" stop-color="#00ffe6"/><stop offset=".065" stop-color="#00ff7e"/><stop offset=".071" stop-color="#0af52e"/><stop offset=".077" stop-color="#11f000"/><stop offset=".23" stop-color="#22f200"/><stop offset=".378" stop-color="#21f200"/><stop offset=".384" stop-color="#13f000"/><stop offset=".395" stop-color="#02fd70"/><stop offset=".401" stop-color="#00ffcd"/><stop offset=".406" stop-color="#00f4ff"/><stop offset=".418" stop-color="#00f1ff"/><stop offset=".423" stop-color="#15f100"/><stop offset=".463" stop-color="#15f100"/><stop offset=".469" stop-color="#00e6ff"/><stop offset=".906" stop-color="#00c9ff"/><stop offset=".946" stop-color="#00f3ff"/><stop offset=".952" stop-color="#00ffe2"/><stop offset=".963" stop-color="#0bf52c"/><stop offset=".969" stop-color="#25f200"/><stop offset=".997" stop-color="#8efd00"/></linearGradient><linearGradient id="gb24" x2="0" y2="1"><stop offset=".003" stop-color="#00d2ff"/><stop offset=".082" stop-color="#00e4ff"/><stop offset=".088" stop-color="#0ff"/><stop offset=".099" stop-color="#02fd73"/><stop offset=".111" stop-color="#09f637"/><stop offset=".116" stop-color="#0af52e"/><stop offset=".122" stop-color="#22f200"/><stop offset=".332" stop-color="#19f100"/><stop offset=".338" stop-color="#0ff109"/><stop offset=".355" stop-color="#00ff8a"/><stop offset=".366" stop-color="#00fdff"/><stop offset=".384" stop-color="#00e2ff"/><stop offset=".418" stop-color="#00e3ff"/><stop offset=".423" stop-color="#15f100"/><stop offset=".452" stop-color="#15f100"/><stop offset=".457" stop-color="#0ef211"/><stop offset=".463" stop-color="#00ecff"/><stop offset=".48" stop-color="#00dcff"/><stop offset=".906" stop-color="#00c7ff"/><stop offset=".952" stop-color="#00fff3"/><stop offset=".963" stop-color="#09f637"/><stop offset=".969" stop-color="#1ff200"/><stop offset=".997" stop-color="#8afd00"/></linearGradient><linearGradient id="gb25" x2="0" y2="1"><stop offset=".003" stop-color="#00b8ff"/><stop offset=".116" stop-color="#00c3ff"/><stop offset=".122" stop-color="#22f200"/><stop offset=".253" stop-color="#1bf100"/><stop offset=".264" stop-color="#0ef20d"/><stop offset=".287" stop-color="#00ff80"/><stop offset=".304" stop-color="#00fbff"/><stop offset=".327" stop-color="#0cf"/><stop offset=".418" stop-color="#00cfff"/><stop offset=".423" stop-color="#15f100"/><stop offset=".435" stop-color="#14f000"/><stop offset=".44" stop-color="#0df318"/><stop offset=".446" stop-color="#02fd6e"/><stop offset=".452" stop-color="#00f4ff"/><stop offset=".457" stop-color="#00cfff"/><stop offset=".906" stop-color="#00b9ff"/><stop offset=".946" stop-color="#0df"/><stop offset=".952" stop-color="#00f5ff"/><stop offset=".969" stop-color="#13f000"/><stop offset=".997" stop-color="#84fc00"/></linearGradient><linearGradient id="gb26" x2="0" y2="1"><stop offset=".003" stop-color="#009aff"/><stop offset=".116" stop-color="#00a4ff"/><stop offset=".122" stop-color="#00ffa8"/><stop offset=".162" stop-color="#00ffd8"/><stop offset=".185" stop-color="#00f5ff"/><stop offset=".247" stop-color="#00acff"/><stop offset=".52" stop-color="#00bdff"/><stop offset=".866" stop-color="#00a2ff"/><stop offset=".918" stop-color="#00afff"/><stop offset=".946" stop-color="#00c9ff"/><stop offset=".952" stop-color="#00e2ff"/><stop offset=".957" stop-color="#00ffda"/><stop offset=".969" stop-color="#0df316"/><stop offset=".98" stop-color="#34f400"/><stop offset=".997" stop-color="#7bfb00"/></linearGradient><linearGradient id="gb27" x2="0" y2="1"><stop offset=".003" stop-color="#d7ff00"/><stop offset=".423" stop-color="#e6ff00"/><stop offset=".719" stop-color="#fff100"/><stop offset=".935" stop-color="#ffa700"/><stop offset=".946" stop-color="#f60"/><stop offset=".957" stop-color="#f00"/><stop offset=".997" stop-color="#f00"/></linearGradient><linearGradient id="gb28" x2="0" y2="1"><stop offset=".003" stop-color="#0060ff"/><stop offset=".116" stop-color="#0081ff"/><stop offset=".122" stop-color="#00d3ff"/><stop offset=".241" stop-color="#08f"/><stop offset=".418" stop-color="#0091ff"/><stop offset=".423" stop-color="#00acff"/><stop offset=".702" stop-color="#0095ff"/><stop offset=".798" stop-color="#0069ff"/><stop offset=".838" stop-color="#0300ff"/><stop offset=".872" stop-color="#5800fb"/><stop offset=".906" stop-color="#6300f6"/><stop offset=".929" stop-color="#3600ff"/><stop offset=".946" stop-color="#000dff"/><stop offset=".963" stop-color="#0cf"/><stop offset=".969" stop-color="#00ffd8"/><stop offset=".98" stop-color="#08f73e"/><stop offset=".986" stop-color="#11f000"/><stop offset=".997" stop-color="#55f700"/></linearGradient><linearGradient id="gb29" x2="0" y2="1"><stop offset=".003" stop-color="#008fff"/><stop offset=".116" stop-color="#00a7ff"/><stop offset=".122" stop-color="#15f100"/><stop offset=".253" stop-color="#0ff106"/><stop offset=".276" stop-color="#05fb5a"/><stop offset=".298" stop-color="#00fdff"/><stop offset=".327" stop-color="#00b1ff"/><stop offset=".418" stop-color="#00b2ff"/><stop offset=".423" stop-color="#15f100"/><stop offset=".44" stop-color="#15f100"/><stop offset=".446" stop-color="#0bf52a"/><stop offset=".452" stop-color="#00ffd6"/><stop offset=".457" stop-color="#00b9ff"/><stop offset=".707" stop-color="#00a9ff"/><stop offset=".793" stop-color="#0083ff"/><stop offset=".821" stop-color="#004aff"/><stop offset=".844" stop-color="#0d00ff"/><stop offset=".872" stop-color="#5b00fa"/><stop offset=".906" stop-color="#6a00f3"/><stop offset=".929" stop-color="#4100ff"/><stop offset=".946" stop-color="#0002ff"/><stop offset=".963" stop-color="#00cbff"/><stop offset=".969" stop-color="#00ffd6"/><stop offset=".98" stop-color="#09f73a"/><stop offset=".986" stop-color="#14f000"/><stop offset=".997" stop-color="#58f700"/></linearGradient><linearGradient id="gb30" x2="0" y2="1"><stop offset=".003" stop-color="#00b6ff"/><stop offset=".082" stop-color="#00c9ff"/><stop offset=".088" stop-color="#00e8ff"/><stop offset=".094" stop-color="#00ffd4"/><stop offset=".099" stop-color="#00ff7e"/><stop offset=".111" stop-color="#09f636"/><stop offset=".116" stop-color="#0af52c"/><stop offset=".122" stop-color="#15f100"/><stop offset=".344" stop-color="#0ff109"/><stop offset=".361" stop-color="#00ff7e"/><stop offset=".372" stop-color="#00fcff"/><stop offset=".389" stop-color="#0cf"/><stop offset=".418" stop-color="#0cf"/><stop offset=".423" stop-color="#15f100"/><stop offset=".457" stop-color="#15f100"/><stop offset=".463" stop-color="#00ffb5"/><stop offset=".469" stop-color="#00c8ff"/><stop offset=".707" stop-color="#00bdff"/><stop offset=".798" stop-color="#0091ff"/><stop offset=".832" stop-color="#0049ff"/><stop offset=".849" stop-color="#0005ff"/><stop offset=".889" stop-color="#5400fd"/><stop offset=".918" stop-color="#3e00ff"/><stop offset=".94" stop-color="#000cff"/><stop offset=".946" stop-color="#0028ff"/><stop offset=".963" stop-color="#00e2ff"/><stop offset=".969" stop-color="#00ff9e"/><stop offset=".98" stop-color="#0df318"/><stop offset=".986" stop-color="#24f200"/><stop offset=".997" stop-color="#63f900"/></linearGradient><linearGradient id="gb31" x2="0" y2="1"><stop offset=".003" stop-color="#00d1ff"/><stop offset=".054" stop-color="#0df"/><stop offset=".06" stop-color="#00f8ff"/><stop offset=".071" stop-color="#08f840"/><stop offset=".077" stop-color="#0ef210"/><stop offset=".27" stop-color="#15f100"/><stop offset=".395" stop-color="#0ff108"/><stop offset=".401" stop-color="#08f841"/><stop offset=".406" stop-color="#00ffa5"/><stop offset=".412" stop-color="#00e8ff"/><stop offset=".418" stop-color="#00deff"/><stop offset=".423" stop-color="#15f100"/><stop offset=".463" stop-color="#15f100"/><stop offset=".469" stop-color="#00d4ff"/><stop offset=".73" stop-color="#00c6ff"/><stop offset=".81" stop-color="#009aff"/><stop offset=".855" stop-color="#0042ff"/><stop offset=".884" stop-color="#0100ff"/><stop offset=".912" stop-color="#0006ff"/><stop offset=".946" stop-color="#006bff"/><stop offset=".952" stop-color="#008eff"/><stop offset=".957" stop-color="#00cbff"/><stop offset=".963" stop-color="#00ffe3"/><stop offset=".969" stop-color="#06fa51"/><stop offset=".974" stop-color="#0df319"/><stop offset=".98" stop-color="#20f200"/><stop offset=".997" stop-color="#74fa00"/></linearGradient><linearGradient id="gb32" x2="0" y2="1"><stop offset=".003" stop-color="#00d1ff"/><stop offset=".054" stop-color="#0df"/><stop offset=".06" stop-color="#00f8ff"/><stop offset=".071" stop-color="#08f840"/><stop offset=".077" stop-color="#0ef210"/><stop offset=".27" stop-color="#15f100"/><stop offset=".395" stop-color="#0ff108"/><stop offset=".401" stop-color="#08f841"/><stop offset=".406" stop-color="#00ffa5"/><stop offset=".412" stop-color="#00e8ff"/><stop offset=".418" stop-color="#00deff"/><stop offset=".423" stop-color="#15f100"/><stop offset=".463" stop-color="#15f100"/><stop offset=".469" stop-color="#00d4ff"/><stop offset=".73" stop-color="#00c6ff"/><stop offset=".827" stop-color="#09f"/><stop offset=".901" stop-color="#005bff"/><stop offset=".946" stop-color="#0097ff"/><stop offset=".952" stop-color="#00b9ff"/><stop offset=".957" stop-color="#00f2ff"/><stop offset=".963" stop-color="#00ff8c"/><stop offset=".969" stop-color="#0df316"/><stop offset=".98" stop-color="#38f400"/><stop offset=".997" stop-color="#81fc00"/></linearGradient><linearGradient id="gb33" x2="0" y2="1"><stop offset=".003" stop-color="#00b6ff"/><stop offset=".082" stop-color="#00c9ff"/><stop offset=".088" stop-color="#00e8ff"/><stop offset=".094" stop-color="#00ffd4"/><stop offset=".099" stop-color="#00ff7e"/><stop offset=".111" stop-color="#09f636"/><stop offset=".116" stop-color="#0af52c"/><stop offset=".122" stop-color="#15f100"/><stop offset=".344" stop-color="#0ff109"/><stop offset=".361" stop-color="#00ff7e"/><stop offset=".372" stop-color="#00fcff"/><stop offset=".389" stop-color="#0cf"/><stop offset=".418" stop-color="#0cf"/><stop offset=".423" stop-color="#15f100"/><stop offset=".457" stop-color="#15f100"/><stop offset=".463" stop-color="#00ffb5"/><stop offset=".469" stop-color="#00c8ff"/><stop offset=".713" stop-color="#0bf"/><stop offset=".906" stop-color="#0085ff"/><stop offset=".946" stop-color="#00b1ff"/><stop offset=".957" stop-color="#00ffed"/><stop offset=".963" stop-color="#03fc69"/><stop offset=".969" stop-color="#12f000"/><stop offset=".997" stop-color="#86fc00"/></linearGradient><linearGradient id="gb34" x2="0" y2="1"><stop offset=".003" stop-color="#008fff"/><stop offset=".116" stop-color="#00a7ff"/><stop offset=".122" stop-color="#15f100"/><stop offset=".253" stop-color="#0ff106"/><stop offset=".276" stop-color="#05fb5a"/><stop offset=".298" stop-color="#00fdff"/><stop offset=".327" stop-color="#00b1ff"/><stop offset=".418" stop-color="#00b2ff"/><stop offset=".423" stop-color="#15f100"/><stop offset=".44" stop-color="#15f100"/><stop offset=".446" stop-color="#0bf52a"/><stop offset=".452" stop-color="#00ffd6"/><stop offset=".457" stop-color="#00b9ff"/><stop offset=".707" stop-color="#00a9ff"/><stop offset=".906" stop-color="#008cff"/><stop offset=".946" stop-color="#00b6ff"/><stop offset=".957" stop-color="#00ffe9"/><stop offset=".969" stop-color="#10f000"/><stop offset=".997" stop-color="#83fc00"/></linearGradient><linearGradient id="gb35" x2="0" y2="1"><stop offset=".003" stop-color="#0060ff"/><stop offset=".116" stop-color="#0081ff"/><stop offset=".122" stop-color="#00d3ff"/><stop offset=".241" stop-color="#08f"/><stop offset=".418" stop-color="#0091ff"/><stop offset=".423" stop-color="#00acff"/><stop offset=".707" stop-color="#0092ff"/><stop offset=".906" stop-color="#007fff"/><stop offset=".946" stop-color="#00acff"/><stop offset=".957" stop-color="#00feff"/><stop offset=".969" stop-color="#0df317"/><stop offset=".98" stop-color="#33f400"/><stop offset=".997" stop-color="#7bfb00"/></linearGradient><linearGradient id="gb36" x2="0" y2="1"><stop offset=".003" stop-color="#c2ff00"/><stop offset=".901" stop-color="#fff300"/><stop offset=".935" stop-color="#ffe700"/><stop offset=".946" stop-color="#ff8300"/><stop offset=".952" stop-color="#ff3200"/><stop offset=".957" stop-color="#f00"/><stop offset=".997" stop-color="#f00"/></linearGradient><linearGradient id="gb37" x2="0" y2="1"><stop offset=".003" stop-color="#001dff"/><stop offset=".088" stop-color="#0087ff"/><stop offset=".139" stop-color="#00a5ff"/><stop offset=".185" stop-color="#00afff"/><stop offset=".19" stop-color="#00ffe4"/><stop offset=".196" stop-color="#0af634"/><stop offset=".202" stop-color="#12f000"/><stop offset=".219" stop-color="#0ff106"/><stop offset=".224" stop-color="#04fb5e"/><stop offset=".23" stop-color="#00e7ff"/><stop offset=".236" stop-color="#00abff"/><stop offset=".406" stop-color="#00bfff"/><stop offset=".418" stop-color="#00f1ff"/><stop offset=".423" stop-color="#00c7ff"/><stop offset=".463" stop-color="#00b1ff"/><stop offset=".702" stop-color="#0092ff"/><stop offset=".849" stop-color="#0064ff"/><stop offset=".878" stop-color="#0015ff"/><stop offset=".889" stop-color="#1400ff"/><stop offset=".918" stop-color="#5400fd"/><stop offset=".935" stop-color="#5100ff"/><stop offset=".946" stop-color="#00f"/><stop offset=".969" stop-color="#00e4ff"/><stop offset=".974" stop-color="#00ffbc"/><stop offset=".98" stop-color="#06f94c"/><stop offset=".986" stop-color="#11f000"/><stop offset=".997" stop-color="#61f800"/></linearGradient><linearGradient id="gb38" x2="0" y2="1"><stop offset=".003" stop-color="#0075ff"/><stop offset=".139" stop-color="#00c3ff"/><stop offset=".173" stop-color="#00c9ff"/><stop offset=".179" stop-color="#06f94c"/><stop offset=".185" stop-color="#15f100"/><stop offset=".236" stop-color="#15f100"/><stop offset=".241" stop-color="#00ffb9"/><stop offset=".247" stop-color="#00c7ff"/><stop offset=".384" stop-color="#0cf"/><stop offset=".389" stop-color="#00e1ff"/><stop offset=".395" stop-color="#05fa57"/><stop offset=".401" stop-color="#14f000"/><stop offset=".44" stop-color="#10f000"/><stop offset=".446" stop-color="#04fb62"/><stop offset=".452" stop-color="#00deff"/><stop offset=".457" stop-color="#00c4ff"/><stop offset=".702" stop-color="#00a3ff"/><stop offset=".844" stop-color="#0079ff"/><stop offset=".866" stop-color="#004dff"/><stop offset=".884" stop-color="#0003ff"/><stop offset=".912" stop-color="#5400fd"/><stop offset=".935" stop-color="#5500fd"/><stop offset=".946" stop-color="#0800ff"/><stop offset=".969" stop-color="#00dfff"/><stop offset=".974" stop-color="#00ffc2"/><stop offset=".98" stop-color="#06f94d"/><stop offset=".986" stop-color="#12f000"/><stop offset=".997" stop-color="#67f900"/></linearGradient><linearGradient id="gb39" x2="0" y2="1"><stop offset=".003" stop-color="#00a9ff"/><stop offset=".156" stop-color="#00dbff"/><stop offset=".162" stop-color="#00dbff"/><stop offset=".168" stop-color="#00ffc3"/><stop offset=".173" stop-color="#15f100"/><stop offset=".247" stop-color="#11f000"/><stop offset=".253" stop-color="#00e3ff"/><stop offset=".378" stop-color="#00deff"/><stop offset=".384" stop-color="#05fb5c"/><stop offset=".389" stop-color="#15f100"/><stop offset=".452" stop-color="#15f100"/><stop offset=".457" stop-color="#07f848"/><stop offset=".463" stop-color="#00d3ff"/><stop offset=".702" stop-color="#00b2ff"/><stop offset=".861" stop-color="#007dff"/><stop offset=".901" stop-color="#0027ff"/><stop offset=".929" stop-color="#0008ff"/><stop offset=".935" stop-color="#000eff"/><stop offset=".963" stop-color="#00deff"/><stop offset=".969" stop-color="#00ffd8"/><stop offset=".974" stop-color="#03fc66"/><stop offset=".98" stop-color="#0ef20d"/><stop offset=".997" stop-color="#7afb00"/></linearGradient><linearGradient id="gb40" x2="0" y2="1"><stop offset=".003" stop-color="#00cfff"/><stop offset=".156" stop-color="#00eaff"/><stop offset=".162" stop-color="#00ff8d"/><stop offset=".168" stop-color="#15f100"/><stop offset=".253" stop-color="#15f100"/><stop offset=".259" stop-color="#00eaff"/><stop offset=".378" stop-color="#00eaff"/><stop offset=".384" stop-color="#15f100"/><stop offset=".457" stop-color="#15f100"/><stop offset=".463" stop-color="#00feff"/><stop offset=".469" stop-color="#00dcff"/><stop offset=".702" stop-color="#00bcff"/><stop offset=".935" stop-color="#007eff"/><stop offset=".957" stop-color="#00efff"/><stop offset=".963" stop-color="#00ffd0"/><stop offset=".974" stop-color="#0cf41e"/><stop offset=".98" stop-color="#2af300"/><stop offset=".997" stop-color="#8afd00"/></linearGradient><linearGradient id="gb41" x2="0" y2="1"><stop offset=".003" stop-color="#00cfff"/><stop offset=".156" stop-color="#00eaff"/><stop offset=".162" stop-color="#00ff8d"/><stop offset=".168" stop-color="#15f100"/><stop offset=".253" stop-color="#15f100"/><stop offset=".259" stop-color="#00eaff"/><stop offset=".378" stop-color="#00eaff"/><stop offset=".384" stop-color="#15f100"/><stop offset=".457" stop-color="#15f100"/><stop offset=".463" stop-color="#00feff"/><stop offset=".469" stop-color="#00dcff"/><stop offset=".702" stop-color="#00bcff"/><stop offset=".935" stop-color="#0098ff"/><stop offset=".957" stop-color="#00fff7"/><stop offset=".974" stop-color="#0ff108"/><stop offset=".997" stop-color="#8efd00"/></linearGradient><linearGradient id="gb42" x2="0" y2="1"><stop offset=".003" stop-color="#00a9ff"/><stop offset=".156" stop-color="#00dbff"/><stop offset=".162" stop-color="#00dbff"/><stop offset=".168" stop-color="#00ffc3"/><stop offset=".173" stop-color="#15f100"/><stop offset=".247" stop-color="#11f000"/><stop offset=".253" stop-color="#00e3ff"/><stop offset=".378" stop-color="#00deff"/><stop offset=".384" stop-color="#05fb5c"/><stop offset=".389" stop-color="#15f100"/><stop offset=".452" stop-color="#15f100"/><stop offset=".457" stop-color="#07f848"/><stop offset=".463" stop-color="#00d3ff"/><stop offset=".702" stop-color="#00b2ff"/><stop offset=".935" stop-color="#0093ff"/><stop offset=".957" stop-color="#00fffb"/><stop offset=".974" stop-color="#0ef10c"/><stop offset=".997" stop-color="#8afd00"/></linearGradient><linearGradient id="gb43" x2="0" y2="1"><stop offset=".003" stop-color="#0075ff"/><stop offset=".139" stop-color="#00c3ff"/><stop offset=".173" stop-color="#00c9ff"/><stop offset=".179" stop-color="#06f94c"/><stop offset=".185" stop-color="#15f100"/><stop offset=".236" stop-color="#15f100"/><stop offset=".241" stop-color="#00ffb9"/><stop offset=".247" stop-color="#00c7ff"/><stop offset=".384" stop-color="#0cf"/><stop offset=".389" stop-color="#00e1ff"/><stop offset=".395" stop-color="#05fa57"/><stop offset=".401" stop-color="#14f000"/><stop offset=".44" stop-color="#10f000"/><stop offset=".446" stop-color="#04fb62"/><stop offset=".452" stop-color="#00deff"/><stop offset=".457" stop-color="#00c4ff"/><stop offset=".702" stop-color="#00a3ff"/><stop offset=".935" stop-color="#0086ff"/><stop offset=".957" stop-color="#00f9ff"/><stop offset=".974" stop-color="#0df318"/><stop offset=".98" stop-color="#2af300"/><stop offset=".997" stop-color="#83fc00"/></linearGradient><linearGradient id="gb44" x2="0" y2="1"><stop offset=".003" stop-color="#001dff"/><stop offset=".088" stop-color="#0087ff"/><stop offset=".139" stop-color="#00a5ff"/><stop offset=".185" stop-color="#00afff"/><stop offset=".19" stop-color="#00ffe4"/><stop offset=".196" stop-color="#0af634"/><stop offset=".202" stop-color="#12f000"/><stop offset=".219" stop-color="#0ff106"/><stop offset=".224" stop-color="#04fb5e"/><stop offset=".23" stop-color="#00e7ff"/><stop offset=".236" stop-color="#00abff"/><stop offset=".406" stop-color="#00bfff"/><stop offset=".418" stop-color="#00f1ff"/><stop offset=".423" stop-color="#00c7ff"/><stop offset=".463" stop-color="#00b1ff"/><stop offset=".702" stop-color="#0092ff"/><stop offset=".935" stop-color="#0076ff"/><stop offset=".957" stop-color="#00f0ff"/><stop offset=".963" stop-color="#0fc"/><stop offset=".974" stop-color="#0bf528"/><stop offset=".98" stop-color="#21f200"/><stop offset=".997" stop-color="#7afb00"/></linearGradient><linearGradient id="gb45" x2="0" y2="1"><stop offset=".003" stop-color="#adff00"/><stop offset=".423" stop-color="#caff00"/><stop offset=".929" stop-color="#fcff00"/><stop offset=".935" stop-color="#fdff00"/><stop offset=".946" stop-color="#ff8300"/><stop offset=".952" stop-color="#ff2800"/><stop offset=".957" stop-color="#ff6c00"/><stop offset=".963" stop-color="#ff7500"/><stop offset=".969" stop-color="#f00"/><stop offset=".997" stop-color="#f00"/></linearGradient><linearGradient id="gb46" x2="0" y2="1"><stop offset=".003" stop-color="#001dff"/><stop offset=".077" stop-color="#0078ff"/><stop offset=".139" stop-color="#009cff"/><stop offset=".185" stop-color="#009eff"/><stop offset=".19" stop-color="#00cdff"/><stop offset=".196" stop-color="#00ffb1"/><stop offset=".202" stop-color="#08f844"/><stop offset=".207" stop-color="#0cf421"/><stop offset=".213" stop-color="#0bf527"/><stop offset=".219" stop-color="#04fb5d"/><stop offset=".224" stop-color="#00fff1"/><stop offset=".23" stop-color="#00b4ff"/><stop offset=".241" stop-color="#00a1ff"/><stop offset=".412" stop-color="#00afff"/><stop offset=".429" stop-color="#00adff"/><stop offset=".543" stop-color="#0097ff"/><stop offset=".605" stop-color="#0075ff"/><stop offset=".651" stop-color="#002aff"/><stop offset=".702" stop-color="#006fff"/><stop offset=".912" stop-color="#0047ff"/><stop offset=".935" stop-color="#0047ff"/><stop offset=".957" stop-color="#00e9ff"/><stop offset=".963" stop-color="#0fc"/><stop offset=".974" stop-color="#0bf528"/><stop offset=".98" stop-color="#21f200"/><stop offset=".997" stop-color="#7afb00"/></linearGradient><linearGradient id="gb47" x2="0" y2="1"><stop offset=".003" stop-color="#0075ff"/><stop offset=".139" stop-color="#0bf"/><stop offset=".173" stop-color="#00bcff"/><stop offset=".179" stop-color="#00ffa0"/><stop offset=".185" stop-color="#15f100"/><stop offset=".23" stop-color="#15f100"/><stop offset=".236" stop-color="#0ef20f"/><stop offset=".241" stop-color="#00f4ff"/><stop offset=".247" stop-color="#00bfff"/><stop offset=".389" stop-color="#00c8ff"/><stop offset=".395" stop-color="#00ffbc"/><stop offset=".401" stop-color="#0cf424"/><stop offset=".406" stop-color="#15f100"/><stop offset=".44" stop-color="#10f000"/><stop offset=".446" stop-color="#03fd6c"/><stop offset=".452" stop-color="#00d0ff"/><stop offset=".457" stop-color="#00b4ff"/><stop offset=".582" stop-color="#09f"/><stop offset=".611" stop-color="#0058ff"/><stop offset=".628" stop-color="#0003ff"/><stop offset=".651" stop-color="#2500ff"/><stop offset=".668" stop-color="#0600ff"/><stop offset=".696" stop-color="#0069ff"/><stop offset=".747" stop-color="#0081ff"/><stop offset=".918" stop-color="#0064ff"/><stop offset=".935" stop-color="#0064ff"/><stop offset=".957" stop-color="#00f3ff"/><stop offset=".974" stop-color="#0df318"/><stop offset=".98" stop-color="#2af300"/><stop offset=".997" stop-color="#83fc00"/></linearGradient><linearGradient id="gb48" x2="0" y2="1"><stop offset=".003" stop-color="#00a9ff"/><stop offset=".162" stop-color="#00d5ff"/><stop offset=".168" stop-color="#00fff7"/><stop offset=".173" stop-color="#15f100"/><stop offset=".241" stop-color="#15f100"/><stop offset=".247" stop-color="#0df316"/><stop offset=".253" stop-color="#00d8ff"/><stop offset=".378" stop-color="#00d8ff"/><stop offset=".384" stop-color="#00ff91"/><stop offset=".389" stop-color="#15f100"/><stop offset=".452" stop-color="#15f100"/><stop offset=".457" stop-color="#06f94f"/><stop offset=".463" stop-color="#00c5ff"/><stop offset=".582" stop-color="#0af"/><stop offset=".611" stop-color="#006aff"/><stop offset=".634" stop-color="#0002ff"/><stop offset=".656" stop-color="#0f00ff"/><stop offset=".668" stop-color="#000fff"/><stop offset=".69" stop-color="#006eff"/><stop offset=".73" stop-color="#0092ff"/><stop offset=".923" stop-color="#0073ff"/><stop offset=".935" stop-color="#0074ff"/><stop offset=".957" stop-color="#00fbff"/><stop offset=".974" stop-color="#0ef10c"/><stop offset=".997" stop-color="#8afd00"/></linearGradient><linearGradient id="gb49" x2="0" y2="1"><stop offset=".003" stop-color="#00cfff"/><stop offset=".156" stop-color="#00e5ff"/><stop offset=".162" stop-color="#00ffa1"/><stop offset=".168" stop-color="#15f100"/><stop offset=".253" stop-color="#15f100"/><stop offset=".259" stop-color="#00e5ff"/><stop offset=".378" stop-color="#00e6ff"/><stop offset=".384" stop-color="#15f100"/><stop offset=".457" stop-color="#15f100"/><stop offset=".463" stop-color="#00f4ff"/><stop offset=".469" stop-color="#00d0ff"/><stop offset=".594" stop-color="#00b3ff"/><stop offset=".651" stop-color="#0068ff"/><stop offset=".707" stop-color="#09f"/><stop offset=".935" stop-color="#007eff"/><stop offset=".957" stop-color="#00fffc"/><stop offset=".974" stop-color="#0ff104"/><stop offset=".997" stop-color="#8efd00"/></linearGradient><linearGradient id="gb50" x2="0" y2="1"><stop offset=".003" stop-color="#00cfff"/><stop offset=".156" stop-color="#00e5ff"/><stop offset=".162" stop-color="#00ffa1"/><stop offset=".168" stop-color="#15f100"/><stop offset=".253" stop-color="#15f100"/><stop offset=".259" stop-color="#00e5ff"/><stop offset=".378" stop-color="#00e6ff"/><stop offset=".384" stop-color="#15f100"/><stop offset=".457" stop-color="#15f100"/><stop offset=".463" stop-color="#00f4ff"/><stop offset=".469" stop-color="#00d0ff"/><stop offset=".616" stop-color="#00b2ff"/><stop offset=".798" stop-color="#0074ff"/><stop offset=".935" stop-color="#007dff"/><stop offset=".957" stop-color="#00fffc"/><stop offset=".974" stop-color="#0ff104"/><stop offset=".997" stop-color="#8efd00"/></linearGradient><linearGradient id="gb51" x2="0" y2="1"><stop offset=".003" stop-color="#00a9ff"/><stop offset=".162" stop-color="#00d5ff"/><stop offset=".168" stop-color="#00fff7"/><stop offset=".173" stop-color="#15f100"/><stop offset=".241" stop-color="#15f100"/><stop offset=".247" stop-color="#0df316"/><stop offset=".253" stop-color="#00d8ff"/><stop offset=".378" stop-color="#00d8ff"/><stop offset=".384" stop-color="#00ff91"/><stop offset=".389" stop-color="#15f100"/><stop offset=".452" stop-color="#15f100"/><stop offset=".457" stop-color="#06f94f"/><stop offset=".463" stop-color="#00c5ff"/><stop offset=".634" stop-color="#00a1ff"/><stop offset=".702" stop-color="#005fff"/><stop offset=".747" stop-color="#02f"/><stop offset=".81" stop-color="#003aff"/><stop offset=".906" stop-color="#0070ff"/><stop offset=".935" stop-color="#0072ff"/><stop offset=".957" stop-color="#00fbff"/><stop offset=".974" stop-color="#0ef10c"/><stop offset=".997" stop-color="#8afd00"/></linearGradient><linearGradient id="gb52" x2="0" y2="1"><stop offset=".003" stop-color="#0075ff"/><stop offset=".139" stop-color="#0bf"/><stop offset=".173" stop-color="#00bcff"/><stop offset=".179" stop-color="#00ffa0"/><stop offset=".185" stop-color="#15f100"/><stop offset=".23" stop-color="#15f100"/><stop offset=".236" stop-color="#0ef20f"/><stop offset=".241" stop-color="#00f4ff"/><stop offset=".247" stop-color="#00bfff"/><stop offset=".389" stop-color="#00c8ff"/><stop offset=".395" stop-color="#00ffbc"/><stop offset=".401" stop-color="#0cf424"/><stop offset=".406" stop-color="#15f100"/><stop offset=".44" stop-color="#10f000"/><stop offset=".446" stop-color="#03fd6c"/><stop offset=".452" stop-color="#00d0ff"/><stop offset=".457" stop-color="#00b4ff"/><stop offset=".628" stop-color="#0092ff"/><stop offset=".69" stop-color="#0046ff"/><stop offset=".719" stop-color="#0100ff"/><stop offset=".77" stop-color="#1800ff"/><stop offset=".815" stop-color="#000fff"/><stop offset=".906" stop-color="#005eff"/><stop offset=".935" stop-color="#0062ff"/><stop offset=".957" stop-color="#00f3ff"/><stop offset=".969" stop-color="#04fc63"/><stop offset=".974" stop-color="#0df319"/><stop offset=".98" stop-color="#2af300"/><stop offset=".997" stop-color="#83fc00"/></linearGradient><linearGradient id="gb53" x2="0" y2="1"><stop offset=".003" stop-color="#001dff"/><stop offset=".077" stop-color="#0078ff"/><stop offset=".139" stop-color="#009cff"/><stop offset=".185" stop-color="#009eff"/><stop offset=".19" stop-color="#00cdff"/><stop offset=".196" stop-color="#00ffb1"/><stop offset=".202" stop-color="#08f844"/><stop offset=".207" stop-color="#0cf421"/><stop offset=".213" stop-color="#0bf527"/><stop offset=".219" stop-color="#04fb5d"/><stop offset=".224" stop-color="#00fff1"/><stop offset=".23" stop-color="#00b4ff"/><stop offset=".241" stop-color="#00a1ff"/><stop offset=".412" stop-color="#00afff"/><stop offset=".429" stop-color="#00adff"/><stop offset=".543" stop-color="#0096ff"/><stop offset=".668" stop-color="#006bff"/><stop offset=".707" stop-color="#002bff"/><stop offset=".753" stop-color="#0300ff"/><stop offset=".827" stop-color="#001bff"/><stop offset=".935" stop-color="#0046ff"/><stop offset=".957" stop-color="#00e9ff"/><stop offset=".963" stop-color="#0fc"/><stop offset=".974" stop-color="#0bf528"/><stop offset=".98" stop-color="#21f200"/><stop offset=".997" stop-color="#7afb00"/></linearGradient><linearGradient id="gb54" x2="0" y2="1"><stop offset=".003" stop-color="#99fe00"/><stop offset=".423" stop-color="#bfff00"/><stop offset=".935" stop-color="#f4ff00"/><stop offset=".94" stop-color="#ffd700"/><stop offset=".946" stop-color="#ff9300"/><stop offset=".952" stop-color="#ff3200"/><stop offset=".957" stop-color="#f00"/><stop offset=".997" stop-color="#f00"/></linearGradient><linearGradient id="gb55" x2="0" y2="1"><stop offset=".003" stop-color="#5200fe"/><stop offset=".116" stop-color="#1e00ff"/><stop offset=".122" stop-color="#0900ff"/><stop offset=".139" stop-color="#004cff"/><stop offset=".281" stop-color="#006eff"/><stop offset=".418" stop-color="#005fff"/><stop offset=".429" stop-color="#000fff"/><stop offset=".571" stop-color="#0f00ff"/><stop offset=".628" stop-color="#3c00ff"/><stop offset=".685" stop-color="#1500ff"/><stop offset=".69" stop-color="#0005ff"/><stop offset=".707" stop-color="#007aff"/><stop offset=".713" stop-color="#0096ff"/><stop offset=".935" stop-color="#00a3ff"/><stop offset=".952" stop-color="#00fdff"/><stop offset=".963" stop-color="#03fc6a"/><stop offset=".974" stop-color="#0ef212"/><stop offset=".991" stop-color="#6cfa00"/><stop offset=".997" stop-color="#91fd00"/></linearGradient><linearGradient id="gb56" x2="0" y2="1"><stop offset=".003" stop-color="#2600ff"/><stop offset=".111" stop-color="#0002ff"/><stop offset=".116" stop-color="#0019ff"/><stop offset=".122" stop-color="#00ffe5"/><stop offset=".128" stop-color="#0096ff"/><stop offset=".134" stop-color="#0063ff"/><stop offset=".196" stop-color="#007cff"/><stop offset=".202" stop-color="#00b4ff"/><stop offset=".207" stop-color="#05fb5c"/><stop offset=".213" stop-color="#06fa53"/><stop offset=".219" stop-color="#00caff"/><stop offset=".224" stop-color="#0085ff"/><stop offset=".401" stop-color="#0081ff"/><stop offset=".412" stop-color="#00e2ff"/><stop offset=".418" stop-color="#00fffb"/><stop offset=".423" stop-color="#005fff"/><stop offset=".429" stop-color="#03f"/><stop offset=".56" stop-color="#0010ff"/><stop offset=".588" stop-color="#1a00ff"/><stop offset=".628" stop-color="#4900ff"/><stop offset=".685" stop-color="#0600ff"/><stop offset=".713" stop-color="#009fff"/><stop offset=".935" stop-color="#00aeff"/><stop offset=".952" stop-color="#00ffef"/><stop offset=".963" stop-color="#04fb5d"/><stop offset=".974" stop-color="#10f004"/><stop offset=".997" stop-color="#99fe00"/></linearGradient><linearGradient id="gb57" x2="0" y2="1"><stop offset=".003" stop-color="#0100ff"/><stop offset=".111" stop-color="#0028ff"/><stop offset=".116" stop-color="#00ffba"/><stop offset=".128" stop-color="#00ffba"/><stop offset=".134" stop-color="#07f"/><stop offset=".19" stop-color="#008fff"/><stop offset=".196" stop-color="#0cf"/><stop offset=".202" stop-color="#0bf425"/><stop offset=".219" stop-color="#0bf425"/><stop offset=".224" stop-color="#00efff"/><stop offset=".23" stop-color="#009dff"/><stop offset=".389" stop-color="#09f"/><stop offset=".395" stop-color="#00fffd"/><stop offset=".401" stop-color="#06fa53"/><stop offset=".418" stop-color="#06fa52"/><stop offset=".423" stop-color="#0076ff"/><stop offset=".429" stop-color="#0051ff"/><stop offset=".56" stop-color="#0027ff"/><stop offset=".588" stop-color="#1200ff"/><stop offset=".622" stop-color="#4d00ff"/><stop offset=".656" stop-color="#20f"/><stop offset=".685" stop-color="#000bff"/><stop offset=".707" stop-color="#008dff"/><stop offset=".719" stop-color="#00abff"/><stop offset=".935" stop-color="#00b6ff"/><stop offset=".946" stop-color="#00ecff"/><stop offset=".952" stop-color="#00ffde"/><stop offset=".963" stop-color="#06fa51"/><stop offset=".974" stop-color="#14f000"/><stop offset=".997" stop-color="#a0ff00"/></linearGradient><linearGradient id="gb58" x2="0" y2="1"><stop offset=".003" stop-color="#0025ff"/><stop offset=".111" stop-color="#04f"/><stop offset=".116" stop-color="#00ffba"/><stop offset=".128" stop-color="#00ffba"/><stop offset=".134" stop-color="#00f9ff"/><stop offset=".139" stop-color="#008eff"/><stop offset=".19" stop-color="#009eff"/><stop offset=".196" stop-color="#0bf425"/><stop offset=".224" stop-color="#0bf425"/><stop offset=".23" stop-color="#00afff"/><stop offset=".384" stop-color="#00adff"/><stop offset=".389" stop-color="#02fd70"/><stop offset=".395" stop-color="#06fa52"/><stop offset=".418" stop-color="#06fa52"/><stop offset=".423" stop-color="#0086ff"/><stop offset=".429" stop-color="#0065ff"/><stop offset=".56" stop-color="#003cff"/><stop offset=".594" stop-color="#0c00ff"/><stop offset=".628" stop-color="#3700ff"/><stop offset=".673" stop-color="#000eff"/><stop offset=".685" stop-color="#001dff"/><stop offset=".713" stop-color="#00aeff"/><stop offset=".935" stop-color="#00bdff"/><stop offset=".946" stop-color="#00f2ff"/><stop offset=".952" stop-color="#00ffd2"/><stop offset=".963" stop-color="#07f949"/><stop offset=".974" stop-color="#19f100"/><stop offset=".997" stop-color="#a2ff00"/></linearGradient><linearGradient id="gb59" x2="0" y2="1"><stop offset=".003" stop-color="#0037ff"/><stop offset=".105" stop-color="#0051ff"/><stop offset=".111" stop-color="#00ffc5"/><stop offset=".134" stop-color="#00ffba"/><stop offset=".139" stop-color="#0095ff"/><stop offset=".19" stop-color="#00a6ff"/><stop offset=".196" stop-color="#0bf425"/><stop offset=".224" stop-color="#0bf425"/><stop offset=".23" stop-color="#06fa53"/><stop offset=".236" stop-color="#00baff"/><stop offset=".384" stop-color="#00b7ff"/><stop offset=".389" stop-color="#06fa52"/><stop offset=".418" stop-color="#06fa52"/><stop offset=".423" stop-color="#008eff"/><stop offset=".429" stop-color="#006cff"/><stop offset=".565" stop-color="#04f"/><stop offset=".611" stop-color="#0800ff"/><stop offset=".656" stop-color="#000bff"/><stop offset=".685" stop-color="#002bff"/><stop offset=".713" stop-color="#00b1ff"/><stop offset=".935" stop-color="#00c0ff"/><stop offset=".946" stop-color="#00f4ff"/><stop offset=".952" stop-color="#00ffcb"/><stop offset=".963" stop-color="#07f845"/><stop offset=".974" stop-color="#1cf100"/><stop offset=".997" stop-color="#a3ff00"/></linearGradient><linearGradient id="gb60" x2="0" y2="1"><stop offset=".003" stop-color="#0025ff"/><stop offset=".111" stop-color="#04f"/><stop offset=".116" stop-color="#00ffba"/><stop offset=".128" stop-color="#00ffba"/><stop offset=".134" stop-color="#00f9ff"/><stop offset=".139" stop-color="#008eff"/><stop offset=".19" stop-color="#009eff"/><stop offset=".196" stop-color="#0bf425"/><stop offset=".224" stop-color="#0bf425"/><stop offset=".23" stop-color="#00afff"/><stop offset=".384" stop-color="#00adff"/><stop offset=".389" stop-color="#02fd70"/><stop offset=".395" stop-color="#06fa52"/><stop offset=".418" stop-color="#06fa52"/><stop offset=".423" stop-color="#0086ff"/><stop offset=".429" stop-color="#0065ff"/><stop offset=".577" stop-color="#0039ff"/><stop offset=".634" stop-color="#000fff"/><stop offset=".685" stop-color="#0029ff"/><stop offset=".713" stop-color="#00afff"/><stop offset=".935" stop-color="#00bdff"/><stop offset=".946" stop-color="#00f2ff"/><stop offset=".952" stop-color="#00ffd2"/><stop offset=".963" stop-color="#07f949"/><stop offset=".974" stop-color="#19f100"/><stop offset=".997" stop-color="#a2ff00"/></linearGradient><linearGradient id="gb61" x2="0" y2="1"><stop offset=".003" stop-color="#0100ff"/><stop offset=".111" stop-color="#0028ff"/><stop offset=".116" stop-color="#00ffba"/><stop offset=".128" stop-color="#00ffba"/><stop offset=".134" stop-color="#07f"/><stop offset=".19" stop-color="#008fff"/><stop offset=".196" stop-color="#0cf"/><stop offset=".202" stop-color="#0bf425"/><stop offset=".219" stop-color="#0bf425"/><stop offset=".224" stop-color="#00efff"/><stop offset=".23" stop-color="#009dff"/><stop offset=".389" stop-color="#09f"/><stop offset=".395" stop-color="#00fffd"/><stop offset=".401" stop-color="#06fa53"/><stop offset=".418" stop-color="#06fa52"/><stop offset=".423" stop-color="#0076ff"/><stop offset=".429" stop-color="#0051ff"/><stop offset=".668" stop-color="#001cff"/><stop offset=".685" stop-color="#001cff"/><stop offset=".713" stop-color="#00a9ff"/><stop offset=".935" stop-color="#00b6ff"/><stop offset=".946" stop-color="#00ecff"/><stop offset=".952" stop-color="#00ffde"/><stop offset=".963" stop-color="#06fa51"/><stop offset=".974" stop-color="#14f000"/><stop offset=".997" stop-color="#a0ff00"/></linearGradient><linearGradient id="gb62" x2="0" y2="1"><stop offset=".003" stop-color="#2600ff"/><stop offset=".111" stop-color="#0002ff"/><stop offset=".116" stop-color="#0019ff"/><stop offset=".122" stop-color="#00ffe5"/><stop offset=".128" stop-color="#0096ff"/><stop offset=".134" stop-color="#0063ff"/><stop offset=".196" stop-color="#007cff"/><stop offset=".202" stop-color="#00b4ff"/><stop offset=".207" stop-color="#05fb5c"/><stop offset=".213" stop-color="#06fa53"/><stop offset=".219" stop-color="#00caff"/><stop offset=".224" stop-color="#0085ff"/><stop offset=".401" stop-color="#0081ff"/><stop offset=".412" stop-color="#00e2ff"/><stop offset=".418" stop-color="#00fffb"/><stop offset=".423" stop-color="#005fff"/><stop offset=".429" stop-color="#03f"/><stop offset=".685" stop-color="#0007ff"/><stop offset=".713" stop-color="#00a0ff"/><stop offset=".935" stop-color="#00aeff"/><stop offset=".952" stop-color="#00ffef"/><stop offset=".963" stop-color="#04fb5d"/><stop offset=".974" stop-color="#10f004"/><stop offset=".997" stop-color="#99fe00"/></linearGradient><linearGradient id="gb63" x2="0" y2="1"><stop offset=".003" stop-color="#5200fe"/><stop offset=".116" stop-color="#1e00ff"/><stop offset=".122" stop-color="#0900ff"/><stop offset=".139" stop-color="#004cff"/><stop offset=".281" stop-color="#006eff"/><stop offset=".418" stop-color="#005fff"/><stop offset=".429" stop-color="#000fff"/><stop offset=".685" stop-color="#0f00ff"/><stop offset=".69" stop-color="#000bff"/><stop offset=".707" stop-color="#007bff"/><stop offset=".713" stop-color="#0097ff"/><stop offset=".935" stop-color="#00a3ff"/><stop offset=".952" stop-color="#00fdff"/><stop offset=".963" stop-color="#03fc6a"/><stop offset=".974" stop-color="#0ef212"/><stop offset=".991" stop-color="#6cfa00"/><stop offset=".997" stop-color="#91fd00"/></linearGradient><linearGradient id="gb64" x2="0" y2="1"><stop offset=".003" stop-color="#3000ff"/><stop offset=".116" stop-color="#2000ff"/><stop offset=".122" stop-color="#0031ff"/><stop offset=".134" stop-color="#0075ff"/><stop offset=".173" stop-color="#0078ff"/><stop offset=".207" stop-color="#0098ff"/><stop offset=".224" stop-color="#00bcff"/><stop offset=".923" stop-color="#00cbff"/><stop offset=".929" stop-color="#04fb60"/><stop offset=".935" stop-color="#21f200"/><stop offset=".94" stop-color="#60f800"/><stop offset=".946" stop-color="#ceff00"/><stop offset=".952" stop-color="#edff00"/><stop offset=".991" stop-color="#fff300"/><stop offset=".997" stop-color="#ffdb00"/></linearGradient><linearGradient id="gb65" x2="0" y2="1"><stop offset=".003" stop-color="#5800fb"/><stop offset=".116" stop-color="#4f00ff"/><stop offset=".122" stop-color="#0030ff"/><stop offset=".134" stop-color="#0071ff"/><stop offset=".151" stop-color="#0054ff"/><stop offset=".162" stop-color="#0041ff"/><stop offset=".19" stop-color="#0085ff"/><stop offset=".207" stop-color="#0098ff"/><stop offset=".224" stop-color="#00bcff"/><stop offset=".491" stop-color="#00c1ff"/><stop offset=".923" stop-color="#00cbff"/><stop offset=".929" stop-color="#04fb60"/><stop offset=".935" stop-color="#21f200"/><stop offset=".94" stop-color="#60f800"/><stop offset=".946" stop-color="#ceff00"/><stop offset=".952" stop-color="#edff00"/><stop offset=".991" stop-color="#fff300"/><stop offset=".997" stop-color="#ffdb00"/></linearGradient><linearGradient id="gb66" x2="0" y2="1"><stop offset=".003" stop-color="#6700f4"/><stop offset=".116" stop-color="#5e00f8"/><stop offset=".122" stop-color="#0030ff"/><stop offset=".134" stop-color="#006eff"/><stop offset=".145" stop-color="#0052ff"/><stop offset=".156" stop-color="#01f"/><stop offset=".162" stop-color="#000bff"/><stop offset=".185" stop-color="#0079ff"/><stop offset=".207" stop-color="#0097ff"/><stop offset=".224" stop-color="#00bcff"/><stop offset=".48" stop-color="#00c1ff"/><stop offset=".514" stop-color="#00aeff"/><stop offset=".56" stop-color="#00c5ff"/><stop offset=".923" stop-color="#00cbff"/><stop offset=".929" stop-color="#04fb60"/><stop offset=".935" stop-color="#21f200"/><stop offset=".94" stop-color="#60f800"/><stop offset=".946" stop-color="#ceff00"/><stop offset=".952" stop-color="#edff00"/><stop offset=".991" stop-color="#fff300"/><stop offset=".997" stop-color="#ffdb00"/></linearGradient><linearGradient id="gb67" x2="0" y2="1"><stop offset=".003" stop-color="#5c00f9"/><stop offset=".116" stop-color="#5300fe"/><stop offset=".122" stop-color="#0030ff"/><stop offset=".134" stop-color="#006eff"/><stop offset=".145" stop-color="#0050ff"/><stop offset=".156" stop-color="#000dff"/><stop offset=".162" stop-color="#0007ff"/><stop offset=".185" stop-color="#0079ff"/><stop offset=".207" stop-color="#0097ff"/><stop offset=".224" stop-color="#00bcff"/><stop offset=".304" stop-color="#00b4ff"/><stop offset=".401" stop-color="#00caff"/><stop offset=".486" stop-color="#00bcff"/><stop offset=".509" stop-color="#0079ff"/><stop offset=".531" stop-color="#00beff"/><stop offset=".923" stop-color="#00cbff"/><stop offset=".929" stop-color="#04fb60"/><stop offset=".935" stop-color="#21f200"/><stop offset=".94" stop-color="#60f800"/><stop offset=".946" stop-color="#ceff00"/><stop offset=".952" stop-color="#edff00"/><stop offset=".991" stop-color="#fff300"/><stop offset=".997" stop-color="#ffdb00"/></linearGradient><linearGradient id="gb68" x2="0" y2="1"><stop offset=".003" stop-color="#3700ff"/><stop offset=".116" stop-color="#2700ff"/><stop offset=".122" stop-color="#0030ff"/><stop offset=".134" stop-color="#0071ff"/><stop offset=".145" stop-color="#0064ff"/><stop offset=".162" stop-color="#0038ff"/><stop offset=".19" stop-color="#0085ff"/><stop offset=".207" stop-color="#0097ff"/><stop offset=".224" stop-color="#00bcff"/><stop offset=".276" stop-color="#00b0ff"/><stop offset=".298" stop-color="#009aff"/><stop offset=".332" stop-color="#00c5ff"/><stop offset=".48" stop-color="#00bfff"/><stop offset=".491" stop-color="#009cff"/><stop offset=".503" stop-color="#0038ff"/><stop offset=".509" stop-color="#001bff"/><stop offset=".514" stop-color="#003dff"/><stop offset=".526" stop-color="#00a0ff"/><stop offset=".537" stop-color="#00c2ff"/><stop offset=".923" stop-color="#00cbff"/><stop offset=".929" stop-color="#04fb60"/><stop offset=".935" stop-color="#21f200"/><stop offset=".94" stop-color="#60f800"/><stop offset=".946" stop-color="#ceff00"/><stop offset=".952" stop-color="#edff00"/><stop offset=".991" stop-color="#fff300"/><stop offset=".997" stop-color="#ffdb00"/></linearGradient><linearGradient id="gb69" x2="0" y2="1"><stop offset=".003" stop-color="#1500ff"/><stop offset=".116" stop-color="#0500ff"/><stop offset=".134" stop-color="#0074ff"/><stop offset=".173" stop-color="#0076ff"/><stop offset=".207" stop-color="#0097ff"/><stop offset=".224" stop-color="#00bcff"/><stop offset=".27" stop-color="#00b6ff"/><stop offset=".293" stop-color="#008cff"/><stop offset=".332" stop-color="#00c5ff"/><stop offset=".48" stop-color="#00beff"/><stop offset=".491" stop-color="#0093ff"/><stop offset=".497" stop-color="#005dff"/><stop offset=".503" stop-color="#0006ff"/><stop offset=".509" stop-color="#1700ff"/><stop offset=".514" stop-color="#000cff"/><stop offset=".52" stop-color="#0063ff"/><stop offset=".531" stop-color="#00b5ff"/><stop offset=".605" stop-color="#00c7ff"/><stop offset=".923" stop-color="#00cbff"/><stop offset=".929" stop-color="#04fb60"/><stop offset=".935" stop-color="#21f200"/><stop offset=".94" stop-color="#60f800"/><stop offset=".946" stop-color="#ceff00"/><stop offset=".952" stop-color="#edff00"/><stop offset=".991" stop-color="#fff300"/><stop offset=".997" stop-color="#ffdb00"/></linearGradient><linearGradient id="gb70" x2="0" y2="1"><stop offset=".003" stop-color="#0800ff"/><stop offset=".116" stop-color="#000bff"/><stop offset=".134" stop-color="#0076ff"/><stop offset=".207" stop-color="#0097ff"/><stop offset=".224" stop-color="#00bcff"/><stop offset=".276" stop-color="#00afff"/><stop offset=".298" stop-color="#09f"/><stop offset=".332" stop-color="#00c5ff"/><stop offset=".48" stop-color="#00bfff"/><stop offset=".491" stop-color="#009bff"/><stop offset=".503" stop-color="#0031ff"/><stop offset=".509" stop-color="#0013ff"/><stop offset=".514" stop-color="#0036ff"/><stop offset=".526" stop-color="#009fff"/><stop offset=".537" stop-color="#00c1ff"/><stop offset=".923" stop-color="#00cbff"/><stop offset=".929" stop-color="#04fb60"/><stop offset=".935" stop-color="#21f200"/><stop offset=".94" stop-color="#60f800"/><stop offset=".946" stop-color="#ceff00"/><stop offset=".952" stop-color="#edff00"/><stop offset=".991" stop-color="#fff300"/><stop offset=".997" stop-color="#ffdb00"/></linearGradient><linearGradient id="gb71" x2="0" y2="1"><stop offset=".003" stop-color="#0800ff"/><stop offset=".116" stop-color="#000bff"/><stop offset=".134" stop-color="#07f"/><stop offset=".207" stop-color="#0097ff"/><stop offset=".224" stop-color="#00bcff"/><stop offset=".287" stop-color="#00acff"/><stop offset=".384" stop-color="#00caff"/><stop offset=".486" stop-color="#0bf"/><stop offset=".509" stop-color="#0074ff"/><stop offset=".531" stop-color="#00beff"/><stop offset=".923" stop-color="#00cbff"/><stop offset=".929" stop-color="#04fb60"/><stop offset=".935" stop-color="#21f200"/><stop offset=".94" stop-color="#60f800"/><stop offset=".946" stop-color="#ceff00"/><stop offset=".952" stop-color="#edff00"/><stop offset=".991" stop-color="#fff300"/><stop offset=".997" stop-color="#ffdb00"/></linearGradient><linearGradient id="gb72" x2="0" y2="1"><stop offset=".003" stop-color="#10f"/><stop offset=".116" stop-color="#00f"/><stop offset=".134" stop-color="#07f"/><stop offset=".202" stop-color="#0086ff"/><stop offset=".219" stop-color="#0bf"/><stop offset=".48" stop-color="#00c1ff"/><stop offset=".514" stop-color="#00acff"/><stop offset=".554" stop-color="#00c5ff"/><stop offset=".923" stop-color="#00cbff"/><stop offset=".929" stop-color="#04fb60"/><stop offset=".935" stop-color="#21f200"/><stop offset=".94" stop-color="#60f800"/><stop offset=".946" stop-color="#ceff00"/><stop offset=".952" stop-color="#edff00"/><stop offset=".991" stop-color="#fff300"/><stop offset=".997" stop-color="#ffdb00"/></linearGradient><linearGradient id="gb73" x2="0" y2="1"><stop offset=".003" stop-color="#2300ff"/><stop offset=".116" stop-color="#1300ff"/><stop offset=".128" stop-color="#005aff"/><stop offset=".139" stop-color="#0081ff"/><stop offset=".202" stop-color="#0081ff"/><stop offset=".219" stop-color="#00baff"/><stop offset=".486" stop-color="#00c1ff"/><stop offset=".923" stop-color="#00cbff"/><stop offset=".929" stop-color="#04fb60"/><stop offset=".935" stop-color="#21f200"/><stop offset=".94" stop-color="#60f800"/><stop offset=".946" stop-color="#ceff00"/><stop offset=".952" stop-color="#edff00"/><stop offset=".991" stop-color="#fff300"/><stop offset=".997" stop-color="#ffdb00"/></linearGradient><linearGradient id="gb74" x2="0" y2="1"><stop offset=".003" stop-color="#3f00ff"/><stop offset=".116" stop-color="#2f00ff"/><stop offset=".122" stop-color="#0031ff"/><stop offset=".134" stop-color="#07f"/><stop offset=".179" stop-color="#007aff"/><stop offset=".202" stop-color="#0078ff"/><stop offset=".219" stop-color="#00b8ff"/><stop offset=".418" stop-color="#00c0ff"/><stop offset=".923" stop-color="#00cbff"/><stop offset=".929" stop-color="#04fb60"/><stop offset=".935" stop-color="#21f200"/><stop offset=".94" stop-color="#60f800"/><stop offset=".946" stop-color="#ceff00"/><stop offset=".952" stop-color="#edff00"/><stop offset=".991" stop-color="#fff300"/><stop offset=".997" stop-color="#ffdb00"/></linearGradient><linearGradient id="gb75" x2="0" y2="1"><stop offset=".003" stop-color="#5500fc"/><stop offset=".116" stop-color="#4a00ff"/><stop offset=".122" stop-color="#0031ff"/><stop offset=".134" stop-color="#07f"/><stop offset=".173" stop-color="#007aff"/><stop offset=".196" stop-color="#0063ff"/><stop offset=".213" stop-color="#009eff"/><stop offset=".224" stop-color="#00baff"/><stop offset=".423" stop-color="#00bfff"/><stop offset=".923" stop-color="#00cbff"/><stop offset=".929" stop-color="#04fb60"/><stop offset=".935" stop-color="#21f200"/><stop offset=".94" stop-color="#60f800"/><stop offset=".946" stop-color="#ceff00"/><stop offset=".952" stop-color="#edff00"/><stop offset=".991" stop-color="#fff300"/><stop offset=".997" stop-color="#ffdb00"/></linearGradient><linearGradient id="gb76" x2="0" y2="1"><stop offset=".003" stop-color="#5b00fa"/><stop offset=".116" stop-color="#5200fe"/><stop offset=".122" stop-color="#0031ff"/><stop offset=".134" stop-color="#07f"/><stop offset=".168" stop-color="#007dff"/><stop offset=".19" stop-color="#0046ff"/><stop offset=".202" stop-color="#005aff"/><stop offset=".219" stop-color="#00b3ff"/><stop offset=".412" stop-color="#00c3ff"/><stop offset=".662" stop-color="#00c2ff"/><stop offset=".923" stop-color="#00cbff"/><stop offset=".929" stop-color="#04fb60"/><stop offset=".935" stop-color="#21f200"/><stop offset=".94" stop-color="#60f800"/><stop offset=".946" stop-color="#ceff00"/><stop offset=".952" stop-color="#edff00"/><stop offset=".991" stop-color="#fff300"/><stop offset=".997" stop-color="#ffdb00"/></linearGradient><linearGradient id="gb77" x2="0" y2="1"><stop offset=".003" stop-color="#5500fd"/><stop offset=".116" stop-color="#4800ff"/><stop offset=".122" stop-color="#0031ff"/><stop offset=".134" stop-color="#07f"/><stop offset=".168" stop-color="#007bff"/><stop offset=".19" stop-color="#002fff"/><stop offset=".202" stop-color="#0047ff"/><stop offset=".219" stop-color="#00b1ff"/><stop offset=".412" stop-color="#00c3ff"/><stop offset=".622" stop-color="#00acff"/><stop offset=".81" stop-color="#00cbff"/><stop offset=".923" stop-color="#00cbff"/><stop offset=".929" stop-color="#04fb60"/><stop offset=".935" stop-color="#21f200"/><stop offset=".94" stop-color="#60f800"/><stop offset=".946" stop-color="#ceff00"/><stop offset=".952" stop-color="#edff00"/><stop offset=".991" stop-color="#fff300"/><stop offset=".997" stop-color="#ffdb00"/></linearGradient><linearGradient id="gb78" x2="0" y2="1"><stop offset=".003" stop-color="#3d00ff"/><stop offset=".116" stop-color="#2d00ff"/><stop offset=".122" stop-color="#0031ff"/><stop offset=".134" stop-color="#07f"/><stop offset=".168" stop-color="#007aff"/><stop offset=".19" stop-color="#0027ff"/><stop offset=".202" stop-color="#0041ff"/><stop offset=".219" stop-color="#00b0ff"/><stop offset=".412" stop-color="#00c2ff"/><stop offset=".605" stop-color="#0093ff"/><stop offset=".759" stop-color="#00caff"/><stop offset=".923" stop-color="#00cbff"/><stop offset=".929" stop-color="#04fb60"/><stop offset=".935" stop-color="#21f200"/><stop offset=".94" stop-color="#60f800"/><stop offset=".946" stop-color="#ceff00"/><stop offset=".952" stop-color="#edff00"/><stop offset=".991" stop-color="#fff300"/><stop offset=".997" stop-color="#ffdb00"/></linearGradient><linearGradient id="gb79" x2="0" y2="1"><stop offset=".003" stop-color="#20f"/><stop offset=".116" stop-color="#10f"/><stop offset=".134" stop-color="#07f"/><stop offset=".168" stop-color="#007bff"/><stop offset=".19" stop-color="#0031ff"/><stop offset=".202" stop-color="#0049ff"/><stop offset=".219" stop-color="#00b1ff"/><stop offset=".412" stop-color="#00c1ff"/><stop offset=".594" stop-color="#0079ff"/><stop offset=".747" stop-color="#00c8ff"/><stop offset=".923" stop-color="#00cbff"/><stop offset=".929" stop-color="#04fb60"/><stop offset=".935" stop-color="#21f200"/><stop offset=".94" stop-color="#60f800"/><stop offset=".946" stop-color="#ceff00"/><stop offset=".952" stop-color="#edff00"/><stop offset=".991" stop-color="#fff300"/><stop offset=".997" stop-color="#ffdb00"/></linearGradient><linearGradient id="gb80" x2="0" y2="1"><stop offset=".003" stop-color="#1000ff"/><stop offset=".116" stop-color="#0001ff"/><stop offset=".134" stop-color="#07f"/><stop offset=".168" stop-color="#007dff"/><stop offset=".19" stop-color="#0049ff"/><stop offset=".202" stop-color="#005cff"/><stop offset=".219" stop-color="#00b4ff"/><stop offset=".412" stop-color="#00c1ff"/><stop offset=".52" stop-color="#008aff"/><stop offset=".594" stop-color="#0065ff"/><stop offset=".736" stop-color="#00c5ff"/><stop offset=".923" stop-color="#00cbff"/><stop offset=".929" stop-color="#04fb60"/><stop offset=".935" stop-color="#21f200"/><stop offset=".94" stop-color="#60f800"/><stop offset=".946" stop-color="#ceff00"/><stop offset=".952" stop-color="#edff00"/><stop offset=".991" stop-color="#fff300"/><stop offset=".997" stop-color="#ffdb00"/></linearGradient><linearGradient id="gb81" x2="0" y2="1"><stop offset=".003" stop-color="#0700ff"/><stop offset=".116" stop-color="#000cff"/><stop offset=".134" stop-color="#07f"/><stop offset=".173" stop-color="#007bff"/><stop offset=".196" stop-color="#0065ff"/><stop offset=".213" stop-color="#009fff"/><stop offset=".224" stop-color="#00baff"/><stop offset=".412" stop-color="#00c1ff"/><stop offset=".52" stop-color="#0086ff"/><stop offset=".594" stop-color="#005eff"/><stop offset=".736" stop-color="#00c5ff"/><stop offset=".923" stop-color="#00cbff"/><stop offset=".929" stop-color="#04fb60"/><stop offset=".935" stop-color="#21f200"/><stop offset=".94" stop-color="#60f800"/><stop offset=".946" stop-color="#ceff00"/><stop offset=".952" stop-color="#edff00"/><stop offset=".991" stop-color="#fff300"/><stop offset=".997" stop-color="#ffdb00"/></linearGradient><linearGradient id="gb82" x2="0" y2="1"><stop offset=".003" stop-color="#0500ff"/><stop offset=".116" stop-color="#0010ff"/><stop offset=".134" stop-color="#07f"/><stop offset=".179" stop-color="#007bff"/><stop offset=".202" stop-color="#0079ff"/><stop offset=".219" stop-color="#00b8ff"/><stop offset=".412" stop-color="#00c1ff"/><stop offset=".526" stop-color="#0086ff"/><stop offset=".594" stop-color="#0067ff"/><stop offset=".741" stop-color="#00c6ff"/><stop offset=".923" stop-color="#00cbff"/><stop offset=".929" stop-color="#04fb60"/><stop offset=".935" stop-color="#21f200"/><stop offset=".94" stop-color="#60f800"/><stop offset=".946" stop-color="#ceff00"/><stop offset=".952" stop-color="#edff00"/><stop offset=".991" stop-color="#fff300"/><stop offset=".997" stop-color="#ffdb00"/></linearGradient></defs><rect x="60.6" y="114" width="2.46" height="176" fill="url(#gb0)"/><rect x="62.06" y="114" width="2.56" height="176" fill="url(#gb1)"/><rect x="63.62" y="114" width="2.56" height="176" fill="url(#gb2)"/><rect x="65.19" y="114" width="2.56" height="176" fill="url(#gb3)"/><rect x="66.75" y="114" width="2.56" height="176" fill="url(#gb4)"/><rect x="68.31" y="114" width="2.56" height="176" fill="url(#gb5)"/><rect x="69.88" y="114" width="2.56" height="176" fill="url(#gb6)"/><rect x="71.44" y="114" width="2.56" height="176" fill="url(#gb7)"/><rect x="73" y="114" width="15.5" height="176" fill="url(#gb8)"/><rect x="87.5" y="114" width="2.6" height="176" fill="url(#gb9)"/><rect x="89.1" y="114" width="2.6" height="176" fill="url(#gb10)"/><rect x="90.7" y="114" width="2.6" height="176" fill="url(#gb11)"/><rect x="92.3" y="114" width="2.6" height="176" fill="url(#gb12)"/><rect x="93.9" y="114" width="2.6" height="176" fill="url(#gb13)"/><rect x="95.5" y="114" width="2.6" height="176" fill="url(#gb14)"/><rect x="97.1" y="114" width="2.6" height="176" fill="url(#gb15)"/><rect x="98.7" y="114" width="2.6" height="176" fill="url(#gb16)"/><rect x="100.3" y="114" width="14.2" height="176" fill="url(#gb17)"/><rect x="113.5" y="114" width="2.52" height="176" fill="url(#gb18)"/><rect x="115.02" y="114" width="2.52" height="176" fill="url(#gb19)"/><rect x="116.54" y="114" width="2.52" height="176" fill="url(#gb20)"/><rect x="118.07" y="114" width="2.52" height="176" fill="url(#gb21)"/><rect x="119.59" y="114" width="2.52" height="176" fill="url(#gb22)"/><rect x="121.11" y="114" width="2.52" height="176" fill="url(#gb23)"/><rect x="122.63" y="114" width="2.52" height="176" fill="url(#gb24)"/><rect x="124.16" y="114" width="2.52" height="176" fill="url(#gb25)"/><rect x="125.68" y="114" width="2.52" height="176" fill="url(#gb26)"/><rect x="127.2" y="114" width="15.8" height="176" fill="url(#gb27)"/><rect x="142" y="114" width="2.53" height="176" fill="url(#gb28)"/><rect x="143.53" y="114" width="2.53" height="176" fill="url(#gb29)"/><rect x="145.05" y="114" width="2.52" height="176" fill="url(#gb30)"/><rect x="146.57" y="114" width="2.53" height="176" fill="url(#gb31)"/><rect x="148.1" y="114" width="2.53" height="176" fill="url(#gb32)"/><rect x="149.62" y="114" width="2.52" height="176" fill="url(#gb33)"/><rect x="151.15" y="114" width="2.53" height="176" fill="url(#gb34)"/><rect x="152.67" y="114" width="2.53" height="176" fill="url(#gb35)"/><rect x="154.2" y="114" width="14.8" height="176" fill="url(#gb36)"/><rect x="168" y="114" width="2.66" height="176" fill="url(#gb37)"/><rect x="169.66" y="114" width="2.66" height="176" fill="url(#gb38)"/><rect x="171.32" y="114" width="2.66" height="176" fill="url(#gb39)"/><rect x="172.99" y="114" width="2.66" height="176" fill="url(#gb40)"/><rect x="174.65" y="114" width="2.66" height="176" fill="url(#gb41)"/><rect x="176.31" y="114" width="2.66" height="176" fill="url(#gb42)"/><rect x="177.98" y="114" width="2.66" height="176" fill="url(#gb43)"/><rect x="179.64" y="114" width="2.66" height="176" fill="url(#gb44)"/><rect x="181.3" y="114" width="15" height="176" fill="url(#gb45)"/><rect x="195.3" y="114" width="2.61" height="176" fill="url(#gb46)"/><rect x="196.91" y="114" width="2.61" height="176" fill="url(#gb47)"/><rect x="198.53" y="114" width="2.61" height="176" fill="url(#gb48)"/><rect x="200.14" y="114" width="2.61" height="176" fill="url(#gb49)"/><rect x="201.75" y="114" width="2.61" height="176" fill="url(#gb50)"/><rect x="203.36" y="114" width="2.61" height="176" fill="url(#gb51)"/><rect x="204.97" y="114" width="2.61" height="176" fill="url(#gb52)"/><rect x="206.59" y="114" width="2.61" height="176" fill="url(#gb53)"/><rect x="208.2" y="114" width="15.4" height="176" fill="url(#gb54)"/><rect x="222.6" y="114" width="2.58" height="176" fill="url(#gb55)"/><rect x="224.18" y="114" width="2.58" height="176" fill="url(#gb56)"/><rect x="225.76" y="114" width="2.58" height="176" fill="url(#gb57)"/><rect x="227.33" y="114" width="2.58" height="176" fill="url(#gb58)"/><rect x="228.91" y="114" width="2.58" height="176" fill="url(#gb59)"/><rect x="230.49" y="114" width="2.58" height="176" fill="url(#gb60)"/><rect x="232.07" y="114" width="2.58" height="176" fill="url(#gb61)"/><rect x="233.64" y="114" width="2.58" height="176" fill="url(#gb62)"/><rect x="235.22" y="114" width="2.58" height="176" fill="url(#gb63)"/><rect x="236.8" y="114" width="3.02" height="176" fill="url(#gb64)"/><rect x="238.82" y="114" width="3.02" height="176" fill="url(#gb65)"/><rect x="240.84" y="114" width="3.02" height="176" fill="url(#gb66)"/><rect x="242.86" y="114" width="3.02" height="176" fill="url(#gb67)"/><rect x="244.88" y="114" width="3.02" height="176" fill="url(#gb68)"/><rect x="246.91" y="114" width="3.02" height="176" fill="url(#gb69)"/><rect x="248.93" y="114" width="3.02" height="176" fill="url(#gb70)"/><rect x="250.95" y="114" width="3.02" height="176" fill="url(#gb71)"/><rect x="252.97" y="114" width="3.02" height="176" fill="url(#gb72)"/><rect x="254.99" y="114" width="3.02" height="176" fill="url(#gb73)"/><rect x="257.01" y="114" width="3.02" height="176" fill="url(#gb74)"/><rect x="259.03" y="114" width="3.02" height="176" fill="url(#gb75)"/><rect x="261.05" y="114" width="3.02" height="176" fill="url(#gb76)"/><rect x="263.07" y="114" width="3.02" height="176" fill="url(#gb77)"/><rect x="265.09" y="114" width="3.02" height="176" fill="url(#gb78)"/><rect x="267.12" y="114" width="3.02" height="176" fill="url(#gb79)"/><rect x="269.14" y="114" width="3.02" height="176" fill="url(#gb80)"/><rect x="271.16" y="114" width="3.02" height="176" fill="url(#gb81)"/><rect x="273.18" y="114" width="1.82" height="176" fill="url(#gb82)"/>
<rect x="168.0" y="134.78" width="13.3" height="1.7" fill="#15f100"/><rect x="195.3" y="134.78" width="12.9" height="1.7" fill="#15f100"/><line x1="73.0" y1="135.62" x2="87.5" y2="135.62" stroke="#ffdb00" stroke-width="1.7" stroke-dasharray="2.6 2.1"/><line x1="100.3" y1="135.62" x2="113.5" y2="135.62" stroke="#ffdb00" stroke-width="1.7" stroke-dasharray="2.6 2.1"/><line x1="127.2" y1="135.62" x2="142.0" y2="135.62" stroke="#ffe300" stroke-width="1.7" stroke-dasharray="2.6 2.1"/><line x1="154.2" y1="135.62" x2="168.0" y2="135.62" stroke="#f5ff00" stroke-width="1.7" stroke-dasharray="2.6 2.1"/><line x1="181.3" y1="135.62" x2="195.3" y2="135.62" stroke="#fdff00" stroke-width="1.7" stroke-dasharray="2.6 2.1"/><line x1="208.2" y1="135.62" x2="222.6" y2="135.62" stroke="#f5ff00" stroke-width="1.7" stroke-dasharray="2.6 2.1"/><rect x="236.8" y="134.78" width="38.4" height="1.7" fill="#15f100"/><rect x="60.5" y="150.19" width="12.5" height="1.7" fill="#ecff00"/><rect x="87.5" y="150.19" width="12.8" height="1.7" fill="#ecff00"/><rect x="113.5" y="150.19" width="13.7" height="1.7" fill="#dbff00"/><rect x="142.0" y="150.19" width="12.2" height="1.7" fill="#d2ff00"/><rect x="168.0" y="150.19" width="13.3" height="1.7" fill="#bdff00"/><rect x="195.3" y="150.19" width="12.9" height="1.7" fill="#bdff00"/><line x1="73.0" y1="151.04" x2="87.5" y2="151.04" stroke="#ff3900" stroke-width="1.7" stroke-dasharray="2.6 2.1"/><line x1="100.3" y1="151.04" x2="113.5" y2="151.04" stroke="#ff3900" stroke-width="1.7" stroke-dasharray="2.6 2.1"/><line x1="127.2" y1="151.04" x2="142.0" y2="151.04" stroke="#ff5000" stroke-width="1.7" stroke-dasharray="2.6 2.1"/><line x1="154.2" y1="151.04" x2="168.0" y2="151.04" stroke="#ff6100" stroke-width="1.7" stroke-dasharray="2.6 2.1"/><line x1="181.3" y1="151.04" x2="195.3" y2="151.04" stroke="#ffa000" stroke-width="1.7" stroke-dasharray="2.6 2.1"/><line x1="208.2" y1="151.04" x2="222.6" y2="151.04" stroke="#ffad00" stroke-width="1.7" stroke-dasharray="2.6 2.1"/><rect x="236.8" y="150.19" width="38.4" height="1.7" fill="#15f100"/><rect x="60.5" y="187.64" width="12.5" height="1.7" fill="#b2ff00"/><rect x="87.5" y="187.64" width="12.8" height="1.7" fill="#b2ff00"/><rect x="113.5" y="187.64" width="13.7" height="1.7" fill="#a7ff00"/><rect x="142.0" y="187.64" width="12.2" height="1.7" fill="#98fe00"/><rect x="168.0" y="187.64" width="13.3" height="1.7" fill="#7efb00"/><rect x="195.3" y="187.64" width="12.9" height="1.7" fill="#7efb00"/><rect x="222.6" y="187.64" width="14.2" height="1.7" fill="#64f900"/><line x1="73.0" y1="188.49" x2="87.5" y2="188.49" stroke="#f00" stroke-width="1.7" stroke-dasharray="2.6 2.1"/><line x1="100.3" y1="188.49" x2="113.5" y2="188.49" stroke="#f00" stroke-width="1.7" stroke-dasharray="2.6 2.1"/><line x1="127.2" y1="188.49" x2="142.0" y2="188.49" stroke="#ff0b00" stroke-width="1.7" stroke-dasharray="2.6 2.1"/><line x1="154.2" y1="188.49" x2="168.0" y2="188.49" stroke="#ff0b00" stroke-width="1.7" stroke-dasharray="2.6 2.1"/><line x1="181.3" y1="188.49" x2="195.3" y2="188.49" stroke="#f20" stroke-width="1.7" stroke-dasharray="2.6 2.1"/><line x1="208.2" y1="188.49" x2="222.6" y2="188.49" stroke="#ff3900" stroke-width="1.7" stroke-dasharray="2.6 2.1"/><rect x="236.8" y="187.64" width="38.4" height="1.7" fill="#7efb00"/><rect x="60.5" y="236.97" width="12.5" height="1.7" fill="#7efb00"/><rect x="87.5" y="236.97" width="12.8" height="1.7" fill="#64f900"/><rect x="113.5" y="236.97" width="13.7" height="1.7" fill="#2ff300"/><rect x="142.0" y="236.97" width="12.2" height="1.7" fill="#2ff300"/><rect x="168.0" y="236.97" width="13.3" height="1.7" fill="#15f100"/><rect x="195.3" y="236.97" width="12.9" height="1.7" fill="#15f100"/><rect x="222.6" y="236.97" width="14.2" height="1.7" fill="#15f100"/><line x1="100.3" y1="237.82" x2="113.5" y2="237.82" stroke="#ff7300" stroke-width="1.7" stroke-dasharray="2.6 2.1"/><line x1="127.2" y1="237.82" x2="142.0" y2="237.82" stroke="#ff6100" stroke-width="1.7" stroke-dasharray="2.6 2.1"/><line x1="154.2" y1="237.82" x2="168.0" y2="237.82" stroke="#ff6100" stroke-width="1.7" stroke-dasharray="2.6 2.1"/><line x1="181.3" y1="237.82" x2="195.3" y2="237.82" stroke="#ff6100" stroke-width="1.7" stroke-dasharray="2.6 2.1"/><line x1="208.2" y1="237.82" x2="222.6" y2="237.82" stroke="#ff7300" stroke-width="1.7" stroke-dasharray="2.6 2.1"/><rect x="236.8" y="236.97" width="38.4" height="1.7" fill="#2ff300"/>
<rect x="60.2" y="113.6" width="215.00" height="176.20" fill="none" stroke="#000" stroke-width="1.3"/>
<line x1="53.80" y1="289.80" x2="60.20" y2="289.80" stroke="#000" stroke-width="1.1"/>
<text x="49.60" y="293.70" font-size="12.5" text-anchor="end" fill="#000" font-family='"Liberation Sans", sans-serif' >0</text>
<line x1="56.80" y1="267.78" x2="60.20" y2="267.78" stroke="#000" stroke-width="1.1"/>
<line x1="53.80" y1="245.75" x2="60.20" y2="245.75" stroke="#000" stroke-width="1.1"/>
<text x="49.60" y="249.65" font-size="12.5" text-anchor="end" fill="#000" font-family='"Liberation Sans", sans-serif' >100</text>
<line x1="56.80" y1="223.73" x2="60.20" y2="223.73" stroke="#000" stroke-width="1.1"/>
<line x1="53.80" y1="201.70" x2="60.20" y2="201.70" stroke="#000" stroke-width="1.1"/>
<text x="49.60" y="205.60" font-size="12.5" text-anchor="end" fill="#000" font-family='"Liberation Sans", sans-serif' >200</text>
<line x1="56.80" y1="179.68" x2="60.20" y2="179.68" stroke="#000" stroke-width="1.1"/>
<line x1="53.80" y1="157.65" x2="60.20" y2="157.65" stroke="#000" stroke-width="1.1"/>
<text x="49.60" y="161.55" font-size="12.5" text-anchor="end" fill="#000" font-family='"Liberation Sans", sans-serif' >300</text>
<line x1="56.80" y1="135.62" x2="60.20" y2="135.62" stroke="#000" stroke-width="1.1"/>
<line x1="53.80" y1="113.60" x2="60.20" y2="113.60" stroke="#000" stroke-width="1.1"/>
<text x="49.60" y="117.50" font-size="12.5" text-anchor="end" fill="#000" font-family='"Liberation Sans", sans-serif' >400</text>
<line x1="60.30" y1="289.80" x2="60.30" y2="296.30" stroke="#000" stroke-width="1.1"/>
<text x="60.30" y="310.10" font-size="12.5" text-anchor="middle" fill="#000" font-family='"Liberation Sans", sans-serif' >0</text>
<line x1="75.71" y1="289.80" x2="75.71" y2="293.60" stroke="#000" stroke-width="1.1"/>
<line x1="91.12" y1="289.80" x2="91.12" y2="296.30" stroke="#000" stroke-width="1.1"/>
<text x="91.12" y="310.10" font-size="12.5" text-anchor="middle" fill="#000" font-family='"Liberation Sans", sans-serif' >20</text>
<line x1="106.53" y1="289.80" x2="106.53" y2="293.60" stroke="#000" stroke-width="1.1"/>
<line x1="121.94" y1="289.80" x2="121.94" y2="296.30" stroke="#000" stroke-width="1.1"/>
<text x="121.94" y="310.10" font-size="12.5" text-anchor="middle" fill="#000" font-family='"Liberation Sans", sans-serif' >40</text>
<line x1="137.35" y1="289.80" x2="137.35" y2="293.60" stroke="#000" stroke-width="1.1"/>
<line x1="152.76" y1="289.80" x2="152.76" y2="296.30" stroke="#000" stroke-width="1.1"/>
<text x="152.76" y="310.10" font-size="12.5" text-anchor="middle" fill="#000" font-family='"Liberation Sans", sans-serif' >60</text>
<line x1="168.17" y1="289.80" x2="168.17" y2="293.60" stroke="#000" stroke-width="1.1"/>
<line x1="183.58" y1="289.80" x2="183.58" y2="296.30" stroke="#000" stroke-width="1.1"/>
<text x="183.58" y="310.10" font-size="12.5" text-anchor="middle" fill="#000" font-family='"Liberation Sans", sans-serif' >80</text>
<line x1="198.99" y1="289.80" x2="198.99" y2="293.60" stroke="#000" stroke-width="1.1"/>
<line x1="214.40" y1="289.80" x2="214.40" y2="296.30" stroke="#000" stroke-width="1.1"/>
<text x="214.40" y="310.10" font-size="12.5" text-anchor="middle" fill="#000" font-family='"Liberation Sans", sans-serif' >100</text>
<line x1="229.81" y1="289.80" x2="229.81" y2="293.60" stroke="#000" stroke-width="1.1"/>
<line x1="245.22" y1="289.80" x2="245.22" y2="296.30" stroke="#000" stroke-width="1.1"/>
<text x="245.22" y="310.10" font-size="12.5" text-anchor="middle" fill="#000" font-family='"Liberation Sans", sans-serif' >120</text>
<line x1="260.63" y1="289.80" x2="260.63" y2="293.60" stroke="#000" stroke-width="1.1"/>
<text transform="translate(16.7,208.40) rotate(-90)" font-size="14.4" text-anchor="middle" font-family='"Liberation Sans", sans-serif'>Frequency (GHz)</text>
<text x="119.2" y="328.10" font-size="15" font-family='"Liberation Sans", sans-serif'>Position <tspan font-family='"Liberation Serif", serif' font-style="italic">z</tspan> (nm)</text>
<defs><linearGradient id="ge0" x2="0" y2="1"><stop offset=".003" stop-color="#00ffbd"/><stop offset=".009" stop-color="#0ff109"/><stop offset=".014" stop-color="#00ffe0"/><stop offset=".026" stop-color="#00ffe9"/><stop offset=".031" stop-color="#0f8"/><stop offset=".037" stop-color="#0ff10b"/><stop offset=".043" stop-color="#00ffae"/><stop offset=".049" stop-color="#00fff2"/><stop offset=".22" stop-color="#00f2ff"/><stop offset=".26" stop-color="#00fdff"/><stop offset=".266" stop-color="#00ffbc"/><stop offset=".271" stop-color="#11f000"/><stop offset=".277" stop-color="#1df100"/><stop offset=".283" stop-color="#0bf52a"/><stop offset=".289" stop-color="#00fff6"/><stop offset=".334" stop-color="#00ffd9"/><stop offset=".34" stop-color="#00ffd0"/><stop offset=".346" stop-color="#00ff92"/><stop offset=".351" stop-color="#00ffb8"/><stop offset=".397" stop-color="#01fe78"/><stop offset=".403" stop-color="#09f637"/><stop offset=".409" stop-color="#03fd6b"/><stop offset=".506" stop-color="#01fe79"/><stop offset=".546" stop-color="#00ffb2"/><stop offset=".58" stop-color="#00ff8c"/><stop offset=".649" stop-color="#0ef20e"/><stop offset=".746" stop-color="#0cf31d"/><stop offset=".866" stop-color="#00ffa0"/><stop offset=".889" stop-color="#10f000"/><stop offset=".997" stop-color="#23f200"/></linearGradient><linearGradient id="ge1" x2="0" y2="1"><stop offset=".003" stop-color="#22f200"/><stop offset=".014" stop-color="#22f200"/><stop offset=".02" stop-color="#00ffdb"/><stop offset=".026" stop-color="#04fb5f"/><stop offset=".031" stop-color="#22f200"/><stop offset=".043" stop-color="#21f200"/><stop offset=".049" stop-color="#00ffae"/><stop offset=".054" stop-color="#00ffeb"/><stop offset=".151" stop-color="#00ebff"/><stop offset=".254" stop-color="#00feff"/><stop offset=".26" stop-color="#00ffd7"/><stop offset=".266" stop-color="#1cf100"/><stop offset=".289" stop-color="#17f100"/><stop offset=".294" stop-color="#00ffe6"/><stop offset=".334" stop-color="#00ffca"/><stop offset=".346" stop-color="#0df316"/><stop offset=".351" stop-color="#07f949"/><stop offset=".357" stop-color="#00ffa4"/><stop offset=".391" stop-color="#01fe7a"/><stop offset=".397" stop-color="#14f000"/><stop offset=".409" stop-color="#14f000"/><stop offset=".414" stop-color="#03fc6a"/><stop offset=".5" stop-color="#03fc66"/><stop offset=".546" stop-color="#00ffa2"/><stop offset=".586" stop-color="#01fe74"/><stop offset=".654" stop-color="#0ff105"/><stop offset=".763" stop-color="#0cf421"/><stop offset=".866" stop-color="#00ff7c"/><stop offset=".889" stop-color="#12f000"/><stop offset=".997" stop-color="#25f200"/></linearGradient><linearGradient id="ge2" x2="0" y2="1"><stop offset=".003" stop-color="#22f200"/><stop offset=".014" stop-color="#22f200"/><stop offset=".02" stop-color="#00ffd3"/><stop offset=".026" stop-color="#22f200"/><stop offset=".049" stop-color="#20f200"/><stop offset=".054" stop-color="#00ffe3"/><stop offset=".14" stop-color="#00f0ff"/><stop offset=".243" stop-color="#00fdff"/><stop offset=".254" stop-color="#00fff9"/><stop offset=".26" stop-color="#1af100"/><stop offset=".289" stop-color="#20f200"/><stop offset=".294" stop-color="#07f949"/><stop offset=".3" stop-color="#00ffd7"/><stop offset=".334" stop-color="#0fb"/><stop offset=".34" stop-color="#0ff109"/><stop offset=".351" stop-color="#15f000"/><stop offset=".357" stop-color="#00ff8d"/><stop offset=".386" stop-color="#02fe74"/><stop offset=".391" stop-color="#10f003"/><stop offset=".414" stop-color="#14f000"/><stop offset=".42" stop-color="#05fb5a"/><stop offset=".511" stop-color="#0bf527"/><stop offset=".586" stop-color="#0cf31e"/><stop offset=".654" stop-color="#16f100"/><stop offset=".763" stop-color="#0df317"/><stop offset=".866" stop-color="#04fb61"/><stop offset=".889" stop-color="#15f100"/><stop offset=".997" stop-color="#27f200"/></linearGradient><linearGradient id="ge3" x2="0" y2="1"><stop offset=".003" stop-color="#22f200"/><stop offset=".014" stop-color="#22f200"/><stop offset=".02" stop-color="#00ffcb"/><stop offset=".026" stop-color="#22f200"/><stop offset=".049" stop-color="#21f200"/><stop offset=".054" stop-color="#00ffdb"/><stop offset=".14" stop-color="#00f3ff"/><stop offset=".249" stop-color="#00fff6"/><stop offset=".254" stop-color="#00ffca"/><stop offset=".26" stop-color="#1af100"/><stop offset=".294" stop-color="#20f200"/><stop offset=".3" stop-color="#00ffca"/><stop offset=".329" stop-color="#00ffb7"/><stop offset=".334" stop-color="#00ff8d"/><stop offset=".34" stop-color="#15f100"/><stop offset=".351" stop-color="#15f100"/><stop offset=".357" stop-color="#0af630"/><stop offset=".363" stop-color="#00ff81"/><stop offset=".386" stop-color="#03fc6a"/><stop offset=".391" stop-color="#15f100"/><stop offset=".414" stop-color="#15f100"/><stop offset=".42" stop-color="#06f950"/><stop offset=".517" stop-color="#10f003"/><stop offset=".746" stop-color="#0ff105"/><stop offset=".866" stop-color="#07f949"/><stop offset=".889" stop-color="#17f100"/><stop offset=".997" stop-color="#28f300"/></linearGradient><linearGradient id="ge4" x2="0" y2="1"><stop offset=".003" stop-color="#22f200"/><stop offset=".014" stop-color="#22f200"/><stop offset=".02" stop-color="#00ffc4"/><stop offset=".026" stop-color="#1ff200"/><stop offset=".043" stop-color="#21f200"/><stop offset=".049" stop-color="#0ef10d"/><stop offset=".054" stop-color="#00ffd3"/><stop offset=".151" stop-color="#00f7ff"/><stop offset=".237" stop-color="#00fff3"/><stop offset=".249" stop-color="#00ffea"/><stop offset=".254" stop-color="#19f100"/><stop offset=".294" stop-color="#21f200"/><stop offset=".3" stop-color="#00ffbe"/><stop offset=".329" stop-color="#0fa"/><stop offset=".334" stop-color="#0cf41e"/><stop offset=".34" stop-color="#15f100"/><stop offset=".357" stop-color="#15f100"/><stop offset=".363" stop-color="#01fe78"/><stop offset=".386" stop-color="#04fb62"/><stop offset=".391" stop-color="#15f100"/><stop offset=".414" stop-color="#15f100"/><stop offset=".42" stop-color="#07f847"/><stop offset=".511" stop-color="#11f000"/><stop offset=".74" stop-color="#12f000"/><stop offset=".866" stop-color="#0af633"/><stop offset=".889" stop-color="#19f100"/><stop offset=".997" stop-color="#2af300"/></linearGradient><linearGradient id="ge5" x2="0" y2="1"><stop offset=".003" stop-color="#0cf41f"/><stop offset=".009" stop-color="#22f200"/><stop offset=".014" stop-color="#0f8"/><stop offset=".02" stop-color="#00ffbe"/><stop offset=".026" stop-color="#00ffc2"/><stop offset=".031" stop-color="#17f100"/><stop offset=".037" stop-color="#22f200"/><stop offset=".043" stop-color="#0ff107"/><stop offset=".049" stop-color="#00ffcb"/><stop offset=".186" stop-color="#00feff"/><stop offset=".249" stop-color="#0fd"/><stop offset=".254" stop-color="#0bf425"/><stop offset=".26" stop-color="#1df100"/><stop offset=".294" stop-color="#21f200"/><stop offset=".3" stop-color="#00ffb4"/><stop offset=".329" stop-color="#00ff9f"/><stop offset=".334" stop-color="#15f100"/><stop offset=".357" stop-color="#15f100"/><stop offset=".363" stop-color="#02fd71"/><stop offset=".386" stop-color="#05fb5a"/><stop offset=".391" stop-color="#15f100"/><stop offset=".414" stop-color="#15f100"/><stop offset=".42" stop-color="#08f740"/><stop offset=".511" stop-color="#13f000"/><stop offset=".751" stop-color="#14f000"/><stop offset=".866" stop-color="#0cf41f"/><stop offset=".889" stop-color="#1bf100"/><stop offset=".997" stop-color="#2bf300"/></linearGradient><linearGradient id="ge6" x2="0" y2="1"><stop offset=".003" stop-color="#00ffab"/><stop offset=".009" stop-color="#00ff7d"/><stop offset=".014" stop-color="#00ffb4"/><stop offset=".031" stop-color="#00ffc1"/><stop offset=".037" stop-color="#00ff89"/><stop offset=".043" stop-color="#00ffc4"/><stop offset=".197" stop-color="#00ffe6"/><stop offset=".254" stop-color="#0fc"/><stop offset=".26" stop-color="#1ef200"/><stop offset=".294" stop-color="#21f200"/><stop offset=".3" stop-color="#0fa"/><stop offset=".329" stop-color="#00ff95"/><stop offset=".334" stop-color="#15f100"/><stop offset=".357" stop-color="#15f100"/><stop offset=".363" stop-color="#04fb61"/><stop offset=".386" stop-color="#05fa54"/><stop offset=".391" stop-color="#15f100"/><stop offset=".414" stop-color="#15f100"/><stop offset=".42" stop-color="#09f739"/><stop offset=".511" stop-color="#14f000"/><stop offset=".763" stop-color="#15f000"/><stop offset=".866" stop-color="#0ef20e"/><stop offset=".946" stop-color="#26f200"/><stop offset=".997" stop-color="#2df300"/></linearGradient><linearGradient id="ge7" x2="0" y2="1"><stop offset=".003" stop-color="#22f200"/><stop offset=".014" stop-color="#0ff106"/><stop offset=".02" stop-color="#00ffb4"/><stop offset=".026" stop-color="#00ffb7"/><stop offset=".031" stop-color="#22f200"/><stop offset=".043" stop-color="#22f200"/><stop offset=".049" stop-color="#00ffc0"/><stop offset=".214" stop-color="#00ffd0"/><stop offset=".254" stop-color="#00ffc2"/><stop offset=".26" stop-color="#0df31c"/><stop offset=".266" stop-color="#20f200"/><stop offset=".289" stop-color="#22f200"/><stop offset=".294" stop-color="#00ffa0"/><stop offset=".329" stop-color="#00ff8e"/><stop offset=".334" stop-color="#15f100"/><stop offset=".357" stop-color="#15f100"/><stop offset=".363" stop-color="#0df31c"/><stop offset=".369" stop-color="#04fb5e"/><stop offset=".386" stop-color="#06f94f"/><stop offset=".397" stop-color="#15f100"/><stop offset=".409" stop-color="#15f100"/><stop offset=".42" stop-color="#09f634"/><stop offset=".506" stop-color="#15f000"/><stop offset=".78" stop-color="#16f100"/><stop offset=".889" stop-color="#1df100"/><stop offset=".997" stop-color="#2ef300"/></linearGradient><linearGradient id="ge8" x2="0" y2="1"><stop offset=".003" stop-color="#22f200"/><stop offset=".014" stop-color="#22f200"/><stop offset=".02" stop-color="#00ffb0"/><stop offset=".026" stop-color="#22f200"/><stop offset=".049" stop-color="#22f200"/><stop offset=".054" stop-color="#00ffbc"/><stop offset=".249" stop-color="#00ffbf"/><stop offset=".26" stop-color="#00ffb7"/><stop offset=".266" stop-color="#10f004"/><stop offset=".283" stop-color="#22f200"/><stop offset=".289" stop-color="#05fa59"/><stop offset=".294" stop-color="#00ffa1"/><stop offset=".329" stop-color="#0f8"/><stop offset=".334" stop-color="#15f100"/><stop offset=".363" stop-color="#15f100"/><stop offset=".369" stop-color="#05fb5a"/><stop offset=".391" stop-color="#07f847"/><stop offset=".397" stop-color="#0ef212"/><stop offset=".403" stop-color="#15f100"/><stop offset=".409" stop-color="#0ff10a"/><stop offset=".414" stop-color="#09f635"/><stop offset=".506" stop-color="#15f100"/><stop offset=".809" stop-color="#16f100"/><stop offset=".997" stop-color="#2ef300"/></linearGradient><linearGradient id="ge9" x2="0" y2="1"><stop offset=".003" stop-color="#22f200"/><stop offset=".014" stop-color="#22f200"/><stop offset=".02" stop-color="#00ffaf"/><stop offset=".026" stop-color="#22f200"/><stop offset=".049" stop-color="#22f200"/><stop offset=".054" stop-color="#00ffba"/><stop offset=".266" stop-color="#00ffb0"/><stop offset=".271" stop-color="#03fc65"/><stop offset=".277" stop-color="#08f843"/><stop offset=".283" stop-color="#00ff89"/><stop offset=".289" stop-color="#00ffa1"/><stop offset=".329" stop-color="#00ff85"/><stop offset=".334" stop-color="#15f100"/><stop offset=".363" stop-color="#15f100"/><stop offset=".369" stop-color="#05fa58"/><stop offset=".5" stop-color="#15f100"/><stop offset=".82" stop-color="#17f100"/><stop offset=".997" stop-color="#2ff300"/></linearGradient><linearGradient id="ge10" x2="0" y2="1"><stop offset=".003" stop-color="#22f200"/><stop offset=".014" stop-color="#22f200"/><stop offset=".02" stop-color="#00ffb0"/><stop offset=".026" stop-color="#22f200"/><stop offset=".049" stop-color="#22f200"/><stop offset=".054" stop-color="#0fb"/><stop offset=".26" stop-color="#00ffb5"/><stop offset=".266" stop-color="#10f002"/><stop offset=".277" stop-color="#22f200"/><stop offset=".283" stop-color="#22f200"/><stop offset=".289" stop-color="#05fa59"/><stop offset=".294" stop-color="#00ffa0"/><stop offset=".329" stop-color="#0f8"/><stop offset=".334" stop-color="#15f100"/><stop offset=".363" stop-color="#15f100"/><stop offset=".369" stop-color="#05fb5a"/><stop offset=".391" stop-color="#07f847"/><stop offset=".397" stop-color="#0ef212"/><stop offset=".403" stop-color="#15f100"/><stop offset=".409" stop-color="#0ff10a"/><stop offset=".414" stop-color="#09f635"/><stop offset=".506" stop-color="#15f100"/><stop offset=".803" stop-color="#17f100"/><stop offset=".894" stop-color="#1ef100"/><stop offset=".997" stop-color="#2ef300"/></linearGradient><linearGradient id="ge11" x2="0" y2="1"><stop offset=".003" stop-color="#22f200"/><stop offset=".014" stop-color="#0ff106"/><stop offset=".02" stop-color="#00ffb4"/><stop offset=".026" stop-color="#00ffb7"/><stop offset=".031" stop-color="#22f200"/><stop offset=".043" stop-color="#22f200"/><stop offset=".049" stop-color="#00ffbf"/><stop offset=".254" stop-color="#00ffbc"/><stop offset=".26" stop-color="#0df318"/><stop offset=".271" stop-color="#22f200"/><stop offset=".289" stop-color="#22f200"/><stop offset=".294" stop-color="#00ff9f"/><stop offset=".329" stop-color="#00ff8d"/><stop offset=".334" stop-color="#15f100"/><stop offset=".357" stop-color="#15f100"/><stop offset=".363" stop-color="#0df31c"/><stop offset=".369" stop-color="#04fb5e"/><stop offset=".386" stop-color="#06f94f"/><stop offset=".397" stop-color="#15f100"/><stop offset=".409" stop-color="#15f100"/><stop offset=".42" stop-color="#09f634"/><stop offset=".506" stop-color="#15f000"/><stop offset=".78" stop-color="#16f100"/><stop offset=".843" stop-color="#0ef212"/><stop offset=".871" stop-color="#0df215"/><stop offset=".9" stop-color="#1df100"/><stop offset=".997" stop-color="#2ef300"/></linearGradient><linearGradient id="ge12" x2="0" y2="1"><stop offset=".003" stop-color="#00ffab"/><stop offset=".009" stop-color="#00ff7c"/><stop offset=".014" stop-color="#00ffb4"/><stop offset=".031" stop-color="#00ffc1"/><stop offset=".037" stop-color="#0f8"/><stop offset=".043" stop-color="#00ffc3"/><stop offset=".254" stop-color="#00ffc2"/><stop offset=".26" stop-color="#22f200"/><stop offset=".294" stop-color="#22f200"/><stop offset=".3" stop-color="#00ffa9"/><stop offset=".329" stop-color="#00ff95"/><stop offset=".334" stop-color="#15f100"/><stop offset=".357" stop-color="#15f100"/><stop offset=".363" stop-color="#04fb61"/><stop offset=".386" stop-color="#05fa54"/><stop offset=".391" stop-color="#15f100"/><stop offset=".414" stop-color="#15f100"/><stop offset=".42" stop-color="#09f739"/><stop offset=".511" stop-color="#14f000"/><stop offset=".763" stop-color="#15f000"/><stop offset=".826" stop-color="#0ef213"/><stop offset=".866" stop-color="#06f94d"/><stop offset=".894" stop-color="#12f000"/><stop offset=".997" stop-color="#2df300"/></linearGradient><linearGradient id="ge13" x2="0" y2="1"><stop offset=".003" stop-color="#0cf41f"/><stop offset=".009" stop-color="#22f200"/><stop offset=".014" stop-color="#0f8"/><stop offset=".02" stop-color="#00ffbd"/><stop offset=".026" stop-color="#00ffc2"/><stop offset=".031" stop-color="#18f100"/><stop offset=".037" stop-color="#22f200"/><stop offset=".043" stop-color="#0ff105"/><stop offset=".049" stop-color="#00ffc8"/><stop offset=".249" stop-color="#00ffcb"/><stop offset=".254" stop-color="#0df319"/><stop offset=".26" stop-color="#22f200"/><stop offset=".294" stop-color="#22f200"/><stop offset=".3" stop-color="#00ffb1"/><stop offset=".329" stop-color="#00ff9f"/><stop offset=".334" stop-color="#15f100"/><stop offset=".357" stop-color="#15f100"/><stop offset=".363" stop-color="#02fd71"/><stop offset=".386" stop-color="#05fb5a"/><stop offset=".391" stop-color="#15f100"/><stop offset=".414" stop-color="#15f100"/><stop offset=".42" stop-color="#08f740"/><stop offset=".511" stop-color="#13f000"/><stop offset=".751" stop-color="#14f000"/><stop offset=".82" stop-color="#0cf31e"/><stop offset=".86" stop-color="#00ff96"/><stop offset=".866" stop-color="#00ff98"/><stop offset=".9" stop-color="#10f000"/><stop offset=".997" stop-color="#2bf300"/></linearGradient><linearGradient id="ge14" x2="0" y2="1"><stop offset=".003" stop-color="#22f200"/><stop offset=".014" stop-color="#22f200"/><stop offset=".02" stop-color="#00ffc3"/><stop offset=".026" stop-color="#20f200"/><stop offset=".043" stop-color="#22f200"/><stop offset=".049" stop-color="#0ff10a"/><stop offset=".054" stop-color="#00ffcf"/><stop offset=".249" stop-color="#00ffd2"/><stop offset=".254" stop-color="#22f200"/><stop offset=".294" stop-color="#22f200"/><stop offset=".3" stop-color="#0fb"/><stop offset=".329" stop-color="#0fa"/><stop offset=".334" stop-color="#0cf41e"/><stop offset=".34" stop-color="#15f100"/><stop offset=".357" stop-color="#15f100"/><stop offset=".363" stop-color="#01fe78"/><stop offset=".386" stop-color="#04fb62"/><stop offset=".391" stop-color="#15f100"/><stop offset=".414" stop-color="#15f100"/><stop offset=".42" stop-color="#07f847"/><stop offset=".511" stop-color="#12f000"/><stop offset=".74" stop-color="#12f000"/><stop offset=".82" stop-color="#0af631"/><stop offset=".837" stop-color="#02fd6f"/><stop offset=".86" stop-color="#00fff7"/><stop offset=".866" stop-color="#00fffc"/><stop offset=".877" stop-color="#00ffae"/><stop offset=".894" stop-color="#0bf527"/><stop offset=".906" stop-color="#12f000"/><stop offset=".997" stop-color="#2af300"/></linearGradient><linearGradient id="ge15" x2="0" y2="1"><stop offset=".003" stop-color="#22f200"/><stop offset=".014" stop-color="#22f200"/><stop offset=".02" stop-color="#00ffca"/><stop offset=".026" stop-color="#22f200"/><stop offset=".049" stop-color="#22f200"/><stop offset=".054" stop-color="#00ffd6"/><stop offset=".249" stop-color="#00ffdb"/><stop offset=".254" stop-color="#00ffb3"/><stop offset=".26" stop-color="#22f200"/><stop offset=".294" stop-color="#22f200"/><stop offset=".3" stop-color="#00ffc7"/><stop offset=".329" stop-color="#00ffb6"/><stop offset=".334" stop-color="#00ff8d"/><stop offset=".34" stop-color="#15f100"/><stop offset=".351" stop-color="#15f100"/><stop offset=".357" stop-color="#0af630"/><stop offset=".363" stop-color="#00ff81"/><stop offset=".386" stop-color="#03fc6a"/><stop offset=".391" stop-color="#15f100"/><stop offset=".414" stop-color="#15f100"/><stop offset=".42" stop-color="#06f94f"/><stop offset=".511" stop-color="#10f000"/><stop offset=".734" stop-color="#10f002"/><stop offset=".814" stop-color="#09f738"/><stop offset=".831" stop-color="#02fd71"/><stop offset=".849" stop-color="#00fffc"/><stop offset=".866" stop-color="#00e0ff"/><stop offset=".877" stop-color="#00ffec"/><stop offset=".889" stop-color="#04fc62"/><stop offset=".906" stop-color="#0ff105"/><stop offset=".997" stop-color="#28f300"/></linearGradient><linearGradient id="ge16" x2="0" y2="1"><stop offset=".003" stop-color="#22f200"/><stop offset=".014" stop-color="#22f200"/><stop offset=".02" stop-color="#00ffd2"/><stop offset=".026" stop-color="#22f200"/><stop offset=".049" stop-color="#22f200"/><stop offset=".054" stop-color="#00ffde"/><stop offset=".254" stop-color="#00ffe2"/><stop offset=".26" stop-color="#22f200"/><stop offset=".289" stop-color="#22f200"/><stop offset=".294" stop-color="#07f845"/><stop offset=".3" stop-color="#00ffd3"/><stop offset=".334" stop-color="#0fb"/><stop offset=".34" stop-color="#0ff108"/><stop offset=".351" stop-color="#15f000"/><stop offset=".357" stop-color="#00ff8d"/><stop offset=".386" stop-color="#02fe73"/><stop offset=".391" stop-color="#10f003"/><stop offset=".414" stop-color="#14f000"/><stop offset=".42" stop-color="#05fa59"/><stop offset=".511" stop-color="#10f003"/><stop offset=".746" stop-color="#0ef10d"/><stop offset=".814" stop-color="#07f949"/><stop offset=".831" stop-color="#00ff87"/><stop offset=".843" stop-color="#00ffe7"/><stop offset=".854" stop-color="#00e0ff"/><stop offset=".866" stop-color="#00d0ff"/><stop offset=".877" stop-color="#00fdff"/><stop offset=".889" stop-color="#03fc69"/><stop offset=".906" stop-color="#0ff109"/><stop offset=".997" stop-color="#27f200"/></linearGradient><linearGradient id="ge17" x2="0" y2="1"><stop offset=".003" stop-color="#22f200"/><stop offset=".014" stop-color="#22f200"/><stop offset=".02" stop-color="#00ffdb"/><stop offset=".026" stop-color="#04fb5e"/><stop offset=".031" stop-color="#22f200"/><stop offset=".043" stop-color="#22f200"/><stop offset=".049" stop-color="#0fa"/><stop offset=".054" stop-color="#00ffe6"/><stop offset=".254" stop-color="#00ffed"/><stop offset=".26" stop-color="#00ffc5"/><stop offset=".266" stop-color="#22f200"/><stop offset=".289" stop-color="#19f100"/><stop offset=".294" stop-color="#00ffe2"/><stop offset=".334" stop-color="#00ffc9"/><stop offset=".346" stop-color="#0df316"/><stop offset=".351" stop-color="#07f848"/><stop offset=".357" stop-color="#00ffa4"/><stop offset=".391" stop-color="#01fe79"/><stop offset=".397" stop-color="#15f100"/><stop offset=".409" stop-color="#15f100"/><stop offset=".414" stop-color="#03fc66"/><stop offset=".483" stop-color="#0cf422"/><stop offset=".517" stop-color="#0ff106"/><stop offset=".723" stop-color="#0ef10c"/><stop offset=".803" stop-color="#07f949"/><stop offset=".826" stop-color="#01fe7a"/><stop offset=".843" stop-color="#00ffed"/><stop offset=".854" stop-color="#00e2ff"/><stop offset=".866" stop-color="#00d4ff"/><stop offset=".877" stop-color="#00fff4"/><stop offset=".889" stop-color="#04fb5c"/><stop offset=".906" stop-color="#0ff108"/><stop offset=".997" stop-color="#25f200"/></linearGradient><linearGradient id="ge18" x2="0" y2="1"><stop offset=".003" stop-color="#00ffbd"/><stop offset=".009" stop-color="#0ff109"/><stop offset=".014" stop-color="#00ffdf"/><stop offset=".026" stop-color="#00ffe8"/><stop offset=".031" stop-color="#00ff87"/><stop offset=".037" stop-color="#0ff109"/><stop offset=".043" stop-color="#00ffac"/><stop offset=".049" stop-color="#00ffef"/><stop offset=".26" stop-color="#00fff7"/><stop offset=".266" stop-color="#00ffb1"/><stop offset=".271" stop-color="#15f100"/><stop offset=".277" stop-color="#20f200"/><stop offset=".283" stop-color="#0bf426"/><stop offset=".289" stop-color="#00fff2"/><stop offset=".334" stop-color="#00ffd9"/><stop offset=".34" stop-color="#00ffcf"/><stop offset=".346" stop-color="#00ff92"/><stop offset=".351" stop-color="#00ffb8"/><stop offset=".397" stop-color="#01fe77"/><stop offset=".403" stop-color="#09f635"/><stop offset=".409" stop-color="#03fc68"/><stop offset=".443" stop-color="#05fb5c"/><stop offset=".511" stop-color="#0ff10a"/><stop offset=".706" stop-color="#0ef10c"/><stop offset=".774" stop-color="#09f739"/><stop offset=".826" stop-color="#00ff89"/><stop offset=".849" stop-color="#00fbff"/><stop offset=".866" stop-color="#00e2ff"/><stop offset=".871" stop-color="#00f8ff"/><stop offset=".877" stop-color="#00ffcd"/><stop offset=".889" stop-color="#08f844"/><stop offset=".906" stop-color="#10f003"/><stop offset=".997" stop-color="#23f200"/></linearGradient><linearGradient id="ge19" x2="0" y2="1"><stop offset=".003" stop-color="#ecff00"/><stop offset=".597" stop-color="#fff300"/><stop offset=".706" stop-color="#ffa500"/><stop offset=".911" stop-color="#f80"/><stop offset=".946" stop-color="#ff2d00"/><stop offset=".963" stop-color="#f00"/><stop offset=".997" stop-color="#f00"/></linearGradient><linearGradient id="ge20" x2="0" y2="1"><stop offset=".003" stop-color="#ecff00"/><stop offset=".597" stop-color="#fff300"/><stop offset=".706" stop-color="#ffa500"/><stop offset=".911" stop-color="#ff8900"/><stop offset=".946" stop-color="#ff3600"/><stop offset=".963" stop-color="#f00"/><stop offset=".997" stop-color="#f00"/></linearGradient><linearGradient id="ge21" x2="0" y2="1"><stop offset=".003" stop-color="#ecff00"/><stop offset=".597" stop-color="#fff300"/><stop offset=".706" stop-color="#ffa500"/><stop offset=".911" stop-color="#ff8900"/><stop offset=".951" stop-color="#ff2b00"/><stop offset=".969" stop-color="#f00"/><stop offset=".997" stop-color="#f00"/></linearGradient><linearGradient id="ge22" x2="0" y2="1"><stop offset=".003" stop-color="#ecff00"/><stop offset=".597" stop-color="#fff300"/><stop offset=".7" stop-color="#ffa900"/><stop offset=".906" stop-color="#ffa200"/><stop offset=".946" stop-color="#ff4f00"/><stop offset=".974" stop-color="#f00"/><stop offset=".997" stop-color="#f00"/></linearGradient><linearGradient id="ge23" x2="0" y2="1"><stop offset=".003" stop-color="#ecff00"/><stop offset=".597" stop-color="#fff300"/><stop offset=".694" stop-color="#ffa900"/><stop offset=".729" stop-color="#ffd800"/><stop offset=".911" stop-color="#ffbd00"/><stop offset=".946" stop-color="#ff6100"/><stop offset=".974" stop-color="#ff0400"/><stop offset=".997" stop-color="#f00"/></linearGradient><linearGradient id="ge24" x2="0" y2="1"><stop offset=".003" stop-color="#eaff00"/><stop offset=".603" stop-color="#fff500"/><stop offset=".694" stop-color="#ffab00"/><stop offset=".723" stop-color="#fffe00"/><stop offset=".906" stop-color="#ffe900"/><stop offset=".946" stop-color="#ff7200"/><stop offset=".974" stop-color="#ff1000"/><stop offset=".997" stop-color="#f00"/></linearGradient><linearGradient id="ge25" x2="0" y2="1"><stop offset=".003" stop-color="#d3ff00"/><stop offset=".614" stop-color="#f3ff00"/><stop offset=".649" stop-color="#fffc00"/><stop offset=".654" stop-color="#fc0"/><stop offset=".694" stop-color="#ffab00"/><stop offset=".717" stop-color="#fffc00"/><stop offset=".906" stop-color="#fff600"/><stop offset=".946" stop-color="#ff7c00"/><stop offset=".974" stop-color="#ff1b00"/><stop offset=".997" stop-color="#f00"/></linearGradient><linearGradient id="ge26" x2="0" y2="1"><stop offset=".003" stop-color="#0f00ff"/><stop offset=".009" stop-color="#4700ff"/><stop offset=".014" stop-color="#2000ff"/><stop offset=".02" stop-color="#0049ff"/><stop offset=".026" stop-color="#0080ff"/><stop offset=".031" stop-color="#0091ff"/><stop offset=".037" stop-color="#00ffbe"/><stop offset=".043" stop-color="#0090ff"/><stop offset=".134" stop-color="#007fff"/><stop offset=".157" stop-color="#0056ff"/><stop offset=".18" stop-color="#0700ff"/><stop offset=".209" stop-color="#4100ff"/><stop offset=".231" stop-color="#2300ff"/><stop offset=".243" stop-color="#0100ff"/><stop offset=".266" stop-color="#005dff"/><stop offset=".271" stop-color="#0085ff"/><stop offset=".277" stop-color="#00f1ff"/><stop offset=".283" stop-color="#007dff"/><stop offset=".449" stop-color="#00acff"/><stop offset=".454" stop-color="#00c0ff"/><stop offset=".46" stop-color="#00f3ff"/><stop offset=".471" stop-color="#08f843"/><stop offset=".477" stop-color="#0df215"/><stop offset=".489" stop-color="#18f100"/><stop offset=".494" stop-color="#00ffd9"/><stop offset=".5" stop-color="#00ffae"/><stop offset=".546" stop-color="#00ffda"/><stop offset=".569" stop-color="#00f9ff"/><stop offset=".649" stop-color="#00fdff"/><stop offset=".654" stop-color="#00ffd2"/><stop offset=".66" stop-color="#00ffd2"/><stop offset=".666" stop-color="#00fcff"/><stop offset=".803" stop-color="#00dbff"/><stop offset=".963" stop-color="#00e6ff"/><stop offset=".986" stop-color="#00fffe"/><stop offset=".997" stop-color="#0fd"/></linearGradient><linearGradient id="ge27" x2="0" y2="1"><stop offset=".003" stop-color="#000aff"/><stop offset=".009" stop-color="#2d00ff"/><stop offset=".014" stop-color="#0900ff"/><stop offset=".02" stop-color="#0060ff"/><stop offset=".026" stop-color="#008cff"/><stop offset=".031" stop-color="#12f000"/><stop offset=".043" stop-color="#15f100"/><stop offset=".049" stop-color="#009bff"/><stop offset=".14" stop-color="#0085ff"/><stop offset=".169" stop-color="#0040ff"/><stop offset=".186" stop-color="#0400ff"/><stop offset=".214" stop-color="#2a00ff"/><stop offset=".237" stop-color="#0001ff"/><stop offset=".266" stop-color="#0070ff"/><stop offset=".271" stop-color="#07f94a"/><stop offset=".283" stop-color="#0bf424"/><stop offset=".289" stop-color="#008fff"/><stop offset=".386" stop-color="#00a7ff"/><stop offset=".391" stop-color="#00e3ff"/><stop offset=".397" stop-color="#00ffb0"/><stop offset=".403" stop-color="#04fc62"/><stop offset=".409" stop-color="#07f94b"/><stop offset=".414" stop-color="#00aeff"/><stop offset=".437" stop-color="#00b5ff"/><stop offset=".443" stop-color="#00ecff"/><stop offset=".449" stop-color="#05fa59"/><stop offset=".454" stop-color="#19f100"/><stop offset=".489" stop-color="#22f200"/><stop offset=".494" stop-color="#00ffc2"/><stop offset=".5" stop-color="#00ff9a"/><stop offset=".546" stop-color="#00ffbe"/><stop offset=".58" stop-color="#00feff"/><stop offset=".637" stop-color="#00feff"/><stop offset=".643" stop-color="#00ff9c"/><stop offset=".649" stop-color="#05fa56"/><stop offset=".666" stop-color="#05fa55"/><stop offset=".671" stop-color="#00ff98"/><stop offset=".677" stop-color="#00f8ff"/><stop offset=".951" stop-color="#00e3ff"/><stop offset=".98" stop-color="#00fffa"/><stop offset=".997" stop-color="#00ffc9"/></linearGradient><linearGradient id="ge28" x2="0" y2="1"><stop offset=".003" stop-color="#0031ff"/><stop offset=".009" stop-color="#0900ff"/><stop offset=".014" stop-color="#001eff"/><stop offset=".02" stop-color="#0072ff"/><stop offset=".026" stop-color="#0df214"/><stop offset=".037" stop-color="#15f100"/><stop offset=".043" stop-color="#15f100"/><stop offset=".049" stop-color="#08f841"/><stop offset=".054" stop-color="#00a5ff"/><stop offset=".174" stop-color="#008fff"/><stop offset=".237" stop-color="#0089ff"/><stop offset=".26" stop-color="#0097ff"/><stop offset=".266" stop-color="#0ef210"/><stop offset=".283" stop-color="#10f001"/><stop offset=".289" stop-color="#00a3ff"/><stop offset=".374" stop-color="#00abff"/><stop offset=".38" stop-color="#00e5ff"/><stop offset=".386" stop-color="#0af52e"/><stop offset=".391" stop-color="#15f100"/><stop offset=".409" stop-color="#15f100"/><stop offset=".414" stop-color="#00b9ff"/><stop offset=".431" stop-color="#00cbff"/><stop offset=".437" stop-color="#07f94c"/><stop offset=".443" stop-color="#22f200"/><stop offset=".489" stop-color="#22f200"/><stop offset=".494" stop-color="#00ffae"/><stop offset=".5" stop-color="#0f8"/><stop offset=".546" stop-color="#00ffa6"/><stop offset=".58" stop-color="#00ffea"/><stop offset=".631" stop-color="#00ffea"/><stop offset=".637" stop-color="#01fe78"/><stop offset=".643" stop-color="#06fa52"/><stop offset=".671" stop-color="#06fa52"/><stop offset=".677" stop-color="#02fe73"/><stop offset=".683" stop-color="#00fffd"/><stop offset=".957" stop-color="#0ef"/><stop offset=".98" stop-color="#00ffe8"/><stop offset=".997" stop-color="#00ffb7"/></linearGradient><linearGradient id="ge29" x2="0" y2="1"><stop offset=".003" stop-color="#005cff"/><stop offset=".009" stop-color="#002bff"/><stop offset=".02" stop-color="#0085ff"/><stop offset=".026" stop-color="#0ef20e"/><stop offset=".043" stop-color="#15f100"/><stop offset=".049" stop-color="#08f73d"/><stop offset=".054" stop-color="#00aeff"/><stop offset=".26" stop-color="#00aeff"/><stop offset=".266" stop-color="#14f000"/><stop offset=".283" stop-color="#15f100"/><stop offset=".289" stop-color="#00b0ff"/><stop offset=".369" stop-color="#00b3ff"/><stop offset=".374" stop-color="#00f7ff"/><stop offset=".38" stop-color="#15f100"/><stop offset=".409" stop-color="#15f100"/><stop offset=".414" stop-color="#00c2ff"/><stop offset=".426" stop-color="#0cf"/><stop offset=".431" stop-color="#15f100"/><stop offset=".489" stop-color="#22f200"/><stop offset=".494" stop-color="#00ff9e"/><stop offset=".5" stop-color="#01fe7a"/><stop offset=".54" stop-color="#00ff85"/><stop offset=".58" stop-color="#00ffd6"/><stop offset=".626" stop-color="#00ffd6"/><stop offset=".637" stop-color="#06fa52"/><stop offset=".677" stop-color="#06fa52"/><stop offset=".683" stop-color="#00ff8a"/><stop offset=".689" stop-color="#00ffec"/><stop offset=".774" stop-color="#00f6ff"/><stop offset=".963" stop-color="#00fbff"/><stop offset=".997" stop-color="#00ffa7"/></linearGradient><linearGradient id="ge30" x2="0" y2="1"><stop offset=".003" stop-color="#0079ff"/><stop offset=".009" stop-color="#0061ff"/><stop offset=".026" stop-color="#00adff"/><stop offset=".031" stop-color="#14f000"/><stop offset=".043" stop-color="#15f100"/><stop offset=".049" stop-color="#00b5ff"/><stop offset=".266" stop-color="#00baff"/><stop offset=".271" stop-color="#15f100"/><stop offset=".283" stop-color="#15f100"/><stop offset=".289" stop-color="#00b7ff"/><stop offset=".369" stop-color="#00baff"/><stop offset=".374" stop-color="#15f100"/><stop offset=".409" stop-color="#15f100"/><stop offset=".414" stop-color="#00c9ff"/><stop offset=".42" stop-color="#0cf"/><stop offset=".426" stop-color="#0ff106"/><stop offset=".437" stop-color="#22f200"/><stop offset=".489" stop-color="#22f200"/><stop offset=".494" stop-color="#00ff90"/><stop offset=".5" stop-color="#02fd71"/><stop offset=".546" stop-color="#00ff82"/><stop offset=".58" stop-color="#00ffc6"/><stop offset=".626" stop-color="#00ffc6"/><stop offset=".631" stop-color="#06fa52"/><stop offset=".683" stop-color="#06fa52"/><stop offset=".689" stop-color="#00ffdc"/><stop offset=".78" stop-color="#00fcff"/><stop offset=".963" stop-color="#00fffe"/><stop offset=".997" stop-color="#00ff9b"/></linearGradient><linearGradient id="ge31" x2="0" y2="1"><stop offset=".003" stop-color="#0090ff"/><stop offset=".009" stop-color="#007fff"/><stop offset=".031" stop-color="#00bdff"/><stop offset=".037" stop-color="#00ff91"/><stop offset=".043" stop-color="#00baff"/><stop offset=".266" stop-color="#0bf"/><stop offset=".271" stop-color="#00d3ff"/><stop offset=".277" stop-color="#00ff9e"/><stop offset=".283" stop-color="#0bf"/><stop offset=".369" stop-color="#00bfff"/><stop offset=".374" stop-color="#15f100"/><stop offset=".409" stop-color="#15f100"/><stop offset=".414" stop-color="#00ceff"/><stop offset=".42" stop-color="#00d0ff"/><stop offset=".426" stop-color="#22f200"/><stop offset=".489" stop-color="#22f200"/><stop offset=".494" stop-color="#0f8"/><stop offset=".5" stop-color="#03fc6a"/><stop offset=".546" stop-color="#01fe79"/><stop offset=".58" stop-color="#00ffbc"/><stop offset=".626" stop-color="#00ffbc"/><stop offset=".631" stop-color="#06fa52"/><stop offset=".683" stop-color="#06fa52"/><stop offset=".689" stop-color="#00ffa1"/><stop offset=".694" stop-color="#00ffd5"/><stop offset=".809" stop-color="#00fcff"/><stop offset=".963" stop-color="#00fff6"/><stop offset=".997" stop-color="#00ff94"/></linearGradient><linearGradient id="ge32" x2="0" y2="1"><stop offset=".003" stop-color="#009eff"/><stop offset=".014" stop-color="#009bff"/><stop offset=".031" stop-color="#00bdff"/><stop offset=".037" stop-color="#00ff91"/><stop offset=".043" stop-color="#00baff"/><stop offset=".266" stop-color="#0bf"/><stop offset=".271" stop-color="#00d3ff"/><stop offset=".277" stop-color="#00ff9e"/><stop offset=".283" stop-color="#0bf"/><stop offset=".369" stop-color="#00bfff"/><stop offset=".374" stop-color="#15f100"/><stop offset=".409" stop-color="#15f100"/><stop offset=".414" stop-color="#00ceff"/><stop offset=".42" stop-color="#00d0ff"/><stop offset=".426" stop-color="#22f200"/><stop offset=".489" stop-color="#22f200"/><stop offset=".494" stop-color="#0f8"/><stop offset=".5" stop-color="#03fc6a"/><stop offset=".546" stop-color="#01fe79"/><stop offset=".58" stop-color="#00ffbc"/><stop offset=".626" stop-color="#00ffbc"/><stop offset=".631" stop-color="#06fa52"/><stop offset=".683" stop-color="#06fa52"/><stop offset=".689" stop-color="#00ffa1"/><stop offset=".694" stop-color="#00ffd5"/><stop offset=".809" stop-color="#00fcff"/><stop offset=".963" stop-color="#00fff6"/><stop offset=".997" stop-color="#00ff94"/></linearGradient><linearGradient id="ge33" x2="0" y2="1"><stop offset=".003" stop-color="#00a5ff"/><stop offset=".026" stop-color="#00b3ff"/><stop offset=".031" stop-color="#15f100"/><stop offset=".043" stop-color="#15f100"/><stop offset=".049" stop-color="#00b5ff"/><stop offset=".266" stop-color="#00baff"/><stop offset=".271" stop-color="#15f100"/><stop offset=".283" stop-color="#15f100"/><stop offset=".289" stop-color="#00b7ff"/><stop offset=".369" stop-color="#00baff"/><stop offset=".374" stop-color="#15f100"/><stop offset=".409" stop-color="#15f100"/><stop offset=".414" stop-color="#00c9ff"/><stop offset=".42" stop-color="#0cf"/><stop offset=".426" stop-color="#0ff106"/><stop offset=".437" stop-color="#22f200"/><stop offset=".489" stop-color="#22f200"/><stop offset=".494" stop-color="#00ff90"/><stop offset=".5" stop-color="#02fd71"/><stop offset=".546" stop-color="#00ff82"/><stop offset=".58" stop-color="#00ffc6"/><stop offset=".626" stop-color="#00ffc6"/><stop offset=".631" stop-color="#06fa52"/><stop offset=".683" stop-color="#06fa52"/><stop offset=".689" stop-color="#00ffdc"/><stop offset=".78" stop-color="#00fcff"/><stop offset=".963" stop-color="#00fffe"/><stop offset=".997" stop-color="#00ff9b"/></linearGradient><linearGradient id="ge34" x2="0" y2="1"><stop offset=".003" stop-color="#00a5ff"/><stop offset=".02" stop-color="#0af"/><stop offset=".026" stop-color="#14f000"/><stop offset=".043" stop-color="#15f100"/><stop offset=".049" stop-color="#08f73e"/><stop offset=".054" stop-color="#00aeff"/><stop offset=".26" stop-color="#00afff"/><stop offset=".266" stop-color="#15f100"/><stop offset=".283" stop-color="#15f100"/><stop offset=".289" stop-color="#00b0ff"/><stop offset=".369" stop-color="#00b3ff"/><stop offset=".374" stop-color="#00f7ff"/><stop offset=".38" stop-color="#15f100"/><stop offset=".409" stop-color="#15f100"/><stop offset=".414" stop-color="#00c2ff"/><stop offset=".426" stop-color="#0cf"/><stop offset=".431" stop-color="#15f100"/><stop offset=".489" stop-color="#22f200"/><stop offset=".494" stop-color="#00ff9e"/><stop offset=".5" stop-color="#01fe7a"/><stop offset=".54" stop-color="#00ff85"/><stop offset=".58" stop-color="#00ffd6"/><stop offset=".626" stop-color="#00ffd6"/><stop offset=".637" stop-color="#06fa52"/><stop offset=".677" stop-color="#06fa52"/><stop offset=".683" stop-color="#00ff8a"/><stop offset=".689" stop-color="#00ffec"/><stop offset=".774" stop-color="#00f6ff"/><stop offset=".963" stop-color="#00fbff"/><stop offset=".997" stop-color="#00ffa7"/></linearGradient><linearGradient id="ge35" x2="0" y2="1"><stop offset=".003" stop-color="#009fff"/><stop offset=".02" stop-color="#009fff"/><stop offset=".026" stop-color="#10f003"/><stop offset=".043" stop-color="#0ef20e"/><stop offset=".049" stop-color="#04fb5c"/><stop offset=".054" stop-color="#0097ff"/><stop offset=".26" stop-color="#00a3ff"/><stop offset=".266" stop-color="#11f000"/><stop offset=".283" stop-color="#0ff105"/><stop offset=".289" stop-color="#009fff"/><stop offset=".374" stop-color="#00a6ff"/><stop offset=".38" stop-color="#00e1ff"/><stop offset=".386" stop-color="#09f634"/><stop offset=".391" stop-color="#13f000"/><stop offset=".409" stop-color="#14f000"/><stop offset=".414" stop-color="#00b8ff"/><stop offset=".431" stop-color="#00cbff"/><stop offset=".437" stop-color="#07f94c"/><stop offset=".443" stop-color="#22f200"/><stop offset=".489" stop-color="#22f200"/><stop offset=".494" stop-color="#00ffae"/><stop offset=".5" stop-color="#0f8"/><stop offset=".546" stop-color="#00ffa6"/><stop offset=".58" stop-color="#00ffea"/><stop offset=".631" stop-color="#00ffea"/><stop offset=".637" stop-color="#01fe78"/><stop offset=".643" stop-color="#06fa52"/><stop offset=".671" stop-color="#06fa52"/><stop offset=".677" stop-color="#02fe73"/><stop offset=".683" stop-color="#00fffd"/><stop offset=".957" stop-color="#0ef"/><stop offset=".98" stop-color="#00ffe8"/><stop offset=".997" stop-color="#00ffb7"/></linearGradient><linearGradient id="ge36" x2="0" y2="1"><stop offset=".003" stop-color="#008fff"/><stop offset=".026" stop-color="#0075ff"/><stop offset=".031" stop-color="#03fc65"/><stop offset=".043" stop-color="#0fa"/><stop offset=".049" stop-color="#0032ff"/><stop offset=".066" stop-color="#0800ff"/><stop offset=".089" stop-color="#1d00ff"/><stop offset=".111" stop-color="#000fff"/><stop offset=".14" stop-color="#006fff"/><stop offset=".186" stop-color="#0098ff"/><stop offset=".266" stop-color="#0089ff"/><stop offset=".271" stop-color="#09f73b"/><stop offset=".283" stop-color="#04fb60"/><stop offset=".289" stop-color="#06f"/><stop offset=".323" stop-color="#0035ff"/><stop offset=".386" stop-color="#0093ff"/><stop offset=".391" stop-color="#00d3ff"/><stop offset=".397" stop-color="#00ffce"/><stop offset=".403" stop-color="#02fd73"/><stop offset=".409" stop-color="#05fa56"/><stop offset=".414" stop-color="#0af"/><stop offset=".437" stop-color="#00b5ff"/><stop offset=".443" stop-color="#00ecff"/><stop offset=".449" stop-color="#05fa59"/><stop offset=".454" stop-color="#19f100"/><stop offset=".489" stop-color="#22f200"/><stop offset=".494" stop-color="#00ffc2"/><stop offset=".5" stop-color="#00ff9a"/><stop offset=".546" stop-color="#00ffbe"/><stop offset=".58" stop-color="#00feff"/><stop offset=".637" stop-color="#00feff"/><stop offset=".643" stop-color="#00ff9c"/><stop offset=".649" stop-color="#05fa56"/><stop offset=".666" stop-color="#05fa55"/><stop offset=".671" stop-color="#00ff98"/><stop offset=".677" stop-color="#00f8ff"/><stop offset=".951" stop-color="#00e3ff"/><stop offset=".98" stop-color="#00fffa"/><stop offset=".997" stop-color="#00ffc9"/></linearGradient><linearGradient id="ge37" x2="0" y2="1"><stop offset=".003" stop-color="#0084ff"/><stop offset=".031" stop-color="#005fff"/><stop offset=".037" stop-color="#00ceff"/><stop offset=".043" stop-color="#002fff"/><stop offset=".054" stop-color="#0100ff"/><stop offset=".083" stop-color="#3700ff"/><stop offset=".111" stop-color="#0b00ff"/><stop offset=".146" stop-color="#006cff"/><stop offset=".197" stop-color="#008fff"/><stop offset=".266" stop-color="#0078ff"/><stop offset=".271" stop-color="#008bff"/><stop offset=".277" stop-color="#00e4ff"/><stop offset=".283" stop-color="#0060ff"/><stop offset=".317" stop-color="#001dff"/><stop offset=".346" stop-color="#0036ff"/><stop offset=".391" stop-color="#008bff"/><stop offset=".449" stop-color="#00acff"/><stop offset=".454" stop-color="#00c0ff"/><stop offset=".46" stop-color="#00f3ff"/><stop offset=".471" stop-color="#08f843"/><stop offset=".477" stop-color="#0df215"/><stop offset=".489" stop-color="#18f100"/><stop offset=".494" stop-color="#00ffd9"/><stop offset=".5" stop-color="#00ffae"/><stop offset=".546" stop-color="#00ffda"/><stop offset=".569" stop-color="#00f9ff"/><stop offset=".649" stop-color="#00fdff"/><stop offset=".654" stop-color="#00ffd2"/><stop offset=".66" stop-color="#00ffd2"/><stop offset=".666" stop-color="#00fcff"/><stop offset=".803" stop-color="#00dbff"/><stop offset=".963" stop-color="#00e6ff"/><stop offset=".986" stop-color="#00fffe"/><stop offset=".997" stop-color="#0fd"/></linearGradient><linearGradient id="ge38" x2="0" y2="1"><stop offset=".003" stop-color="#d2ff00"/><stop offset=".814" stop-color="#ef0"/><stop offset=".9" stop-color="#ffec00"/><stop offset=".957" stop-color="#ff9e00"/><stop offset=".986" stop-color="#ff0300"/><stop offset=".997" stop-color="#f00"/></linearGradient><linearGradient id="ge39" x2="0" y2="1"><stop offset=".003" stop-color="#d2ff00"/><stop offset=".814" stop-color="#ef0"/><stop offset=".9" stop-color="#ffec00"/><stop offset=".957" stop-color="#ff9e00"/><stop offset=".986" stop-color="#ff0300"/><stop offset=".997" stop-color="#f00"/></linearGradient><linearGradient id="ge40" x2="0" y2="1"><stop offset=".003" stop-color="#d2ff00"/><stop offset=".814" stop-color="#ef0"/><stop offset=".9" stop-color="#ffec00"/><stop offset=".957" stop-color="#ff9e00"/><stop offset=".986" stop-color="#ff0300"/><stop offset=".997" stop-color="#f00"/></linearGradient><linearGradient id="ge41" x2="0" y2="1"><stop offset=".003" stop-color="#d2ff00"/><stop offset=".814" stop-color="#ef0"/><stop offset=".9" stop-color="#ffec00"/><stop offset=".957" stop-color="#ff9e00"/><stop offset=".986" stop-color="#ff0300"/><stop offset=".997" stop-color="#f00"/></linearGradient><linearGradient id="ge42" x2="0" y2="1"><stop offset=".003" stop-color="#0095ff"/><stop offset=".083" stop-color="#0068ff"/><stop offset=".111" stop-color="#0061ff"/><stop offset=".117" stop-color="#00f9ff"/><stop offset=".123" stop-color="#13f000"/><stop offset=".134" stop-color="#14f000"/><stop offset=".14" stop-color="#00fff8"/><stop offset=".146" stop-color="#0053ff"/><stop offset=".403" stop-color="#000dff"/><stop offset=".814" stop-color="#0014ff"/><stop offset=".906" stop-color="#002fff"/><stop offset=".98" stop-color="#00f7ff"/><stop offset=".991" stop-color="#00ffc6"/><stop offset=".997" stop-color="#00ff9f"/></linearGradient><linearGradient id="ge43" x2="0" y2="1"><stop offset=".003" stop-color="#00c6ff"/><stop offset=".066" stop-color="#0096ff"/><stop offset=".1" stop-color="#008fff"/><stop offset=".106" stop-color="#009cff"/><stop offset=".111" stop-color="#15f100"/><stop offset=".146" stop-color="#15f100"/><stop offset=".151" stop-color="#09f"/><stop offset=".157" stop-color="#007cff"/><stop offset=".426" stop-color="#002cff"/><stop offset=".809" stop-color="#0029ff"/><stop offset=".906" stop-color="#0045ff"/><stop offset=".98" stop-color="#0ff"/><stop offset=".997" stop-color="#00ff89"/></linearGradient><linearGradient id="ge44" x2="0" y2="1"><stop offset=".003" stop-color="#00eaff"/><stop offset=".066" stop-color="#00b7ff"/><stop offset=".1" stop-color="#00beff"/><stop offset=".106" stop-color="#15f100"/><stop offset=".151" stop-color="#15f100"/><stop offset=".157" stop-color="#00b6ff"/><stop offset=".163" stop-color="#0096ff"/><stop offset=".397" stop-color="#0046ff"/><stop offset=".803" stop-color="#0038ff"/><stop offset=".906" stop-color="#05f"/><stop offset=".974" stop-color="#00f6ff"/><stop offset=".986" stop-color="#00ffc8"/><stop offset=".997" stop-color="#01fe7b"/></linearGradient><linearGradient id="ge45" x2="0" y2="1"><stop offset=".003" stop-color="#00fcff"/><stop offset=".066" stop-color="#00c8ff"/><stop offset=".094" stop-color="#00c4ff"/><stop offset=".1" stop-color="#15f100"/><stop offset=".157" stop-color="#15f100"/><stop offset=".163" stop-color="#00a4ff"/><stop offset=".311" stop-color="#0069ff"/><stop offset=".62" stop-color="#003eff"/><stop offset=".82" stop-color="#04f"/><stop offset=".906" stop-color="#005dff"/><stop offset=".974" stop-color="#00f9ff"/><stop offset=".997" stop-color="#01fe75"/></linearGradient><linearGradient id="ge46" x2="0" y2="1"><stop offset=".003" stop-color="#00eaff"/><stop offset=".066" stop-color="#00b7ff"/><stop offset=".1" stop-color="#00beff"/><stop offset=".106" stop-color="#15f100"/><stop offset=".151" stop-color="#15f100"/><stop offset=".157" stop-color="#00b6ff"/><stop offset=".163" stop-color="#0096ff"/><stop offset=".397" stop-color="#0046ff"/><stop offset=".803" stop-color="#0038ff"/><stop offset=".906" stop-color="#05f"/><stop offset=".974" stop-color="#00f6ff"/><stop offset=".986" stop-color="#00ffc8"/><stop offset=".997" stop-color="#01fe7b"/></linearGradient><linearGradient id="ge47" x2="0" y2="1"><stop offset=".003" stop-color="#00c6ff"/><stop offset=".066" stop-color="#0096ff"/><stop offset=".1" stop-color="#008fff"/><stop offset=".106" stop-color="#009cff"/><stop offset=".111" stop-color="#15f100"/><stop offset=".146" stop-color="#15f100"/><stop offset=".151" stop-color="#09f"/><stop offset=".157" stop-color="#007cff"/><stop offset=".426" stop-color="#002cff"/><stop offset=".809" stop-color="#0029ff"/><stop offset=".906" stop-color="#0045ff"/><stop offset=".98" stop-color="#0ff"/><stop offset=".997" stop-color="#00ff89"/></linearGradient><linearGradient id="ge48" x2="0" y2="1"><stop offset=".003" stop-color="#0095ff"/><stop offset=".083" stop-color="#0068ff"/><stop offset=".111" stop-color="#0061ff"/><stop offset=".117" stop-color="#00f9ff"/><stop offset=".123" stop-color="#13f000"/><stop offset=".134" stop-color="#14f000"/><stop offset=".14" stop-color="#00fff8"/><stop offset=".146" stop-color="#0053ff"/><stop offset=".403" stop-color="#000dff"/><stop offset=".814" stop-color="#0014ff"/><stop offset=".906" stop-color="#002fff"/><stop offset=".98" stop-color="#00f7ff"/><stop offset=".991" stop-color="#00ffc6"/><stop offset=".997" stop-color="#00ff9f"/></linearGradient><linearGradient id="ge49" x2="0" y2="1"><stop offset=".003" stop-color="#a8ff00"/><stop offset=".814" stop-color="#cfff00"/><stop offset=".929" stop-color="#fff600"/><stop offset=".997" stop-color="#ff5b00"/></linearGradient><linearGradient id="ge50" x2="0" y2="1"><stop offset=".003" stop-color="#a8ff00"/><stop offset=".814" stop-color="#cfff00"/><stop offset=".929" stop-color="#fff600"/><stop offset=".997" stop-color="#ff5b00"/></linearGradient><linearGradient id="ge51" x2="0" y2="1"><stop offset=".003" stop-color="#a8ff00"/><stop offset=".814" stop-color="#cfff00"/><stop offset=".929" stop-color="#fff600"/><stop offset=".997" stop-color="#ff5b00"/></linearGradient><linearGradient id="ge52" x2="0" y2="1"><stop offset=".003" stop-color="#00d0ff"/><stop offset=".054" stop-color="#0089ff"/><stop offset=".111" stop-color="#0053ff"/><stop offset=".151" stop-color="#000cff"/><stop offset=".814" stop-color="#0300ff"/><stop offset=".889" stop-color="#000cff"/><stop offset=".929" stop-color="#00b9ff"/><stop offset=".951" stop-color="#00fdff"/><stop offset=".969" stop-color="#00ff90"/><stop offset=".997" stop-color="#06fa51"/></linearGradient><linearGradient id="ge53" x2="0" y2="1"><stop offset=".003" stop-color="#00faff"/><stop offset=".066" stop-color="#00a2ff"/><stop offset=".129" stop-color="#0053ff"/><stop offset=".151" stop-color="#0028ff"/><stop offset=".523" stop-color="#000aff"/><stop offset=".82" stop-color="#0019ff"/><stop offset=".889" stop-color="#0028ff"/><stop offset=".94" stop-color="#00f0ff"/><stop offset=".946" stop-color="#00fff9"/><stop offset=".963" stop-color="#01fe78"/><stop offset=".997" stop-color="#09f738"/></linearGradient><linearGradient id="ge54" x2="0" y2="1"><stop offset=".003" stop-color="#00ffd7"/><stop offset=".014" stop-color="#00faff"/><stop offset=".134" stop-color="#0056ff"/><stop offset=".157" stop-color="#0035ff"/><stop offset=".529" stop-color="#0018ff"/><stop offset=".82" stop-color="#0027ff"/><stop offset=".889" stop-color="#0036ff"/><stop offset=".94" stop-color="#00faff"/><stop offset=".963" stop-color="#04fc63"/><stop offset=".997" stop-color="#0af52c"/></linearGradient><linearGradient id="ge55" x2="0" y2="1"><stop offset=".003" stop-color="#00faff"/><stop offset=".066" stop-color="#00a2ff"/><stop offset=".129" stop-color="#0053ff"/><stop offset=".151" stop-color="#0028ff"/><stop offset=".523" stop-color="#000aff"/><stop offset=".82" stop-color="#0019ff"/><stop offset=".889" stop-color="#0028ff"/><stop offset=".94" stop-color="#00f0ff"/><stop offset=".946" stop-color="#00fff9"/><stop offset=".963" stop-color="#01fe78"/><stop offset=".997" stop-color="#09f738"/></linearGradient><linearGradient id="ge56" x2="0" y2="1"><stop offset=".003" stop-color="#00d0ff"/><stop offset=".054" stop-color="#0089ff"/><stop offset=".111" stop-color="#0053ff"/><stop offset=".151" stop-color="#000cff"/><stop offset=".814" stop-color="#0300ff"/><stop offset=".889" stop-color="#000cff"/><stop offset=".929" stop-color="#00b9ff"/><stop offset=".951" stop-color="#00fdff"/><stop offset=".969" stop-color="#00ff90"/><stop offset=".997" stop-color="#06fa51"/></linearGradient><linearGradient id="ge57" x2="0" y2="1"><stop offset=".003" stop-color="#64f900"/><stop offset=".871" stop-color="#d0ff00"/><stop offset=".934" stop-color="#f4ff00"/><stop offset=".946" stop-color="#ffeb00"/><stop offset=".986" stop-color="#f60"/><stop offset=".997" stop-color="#ff1f00"/></linearGradient><linearGradient id="ge58" x2="0" y2="1"><stop offset=".003" stop-color="#64f900"/><stop offset=".871" stop-color="#d0ff00"/><stop offset=".934" stop-color="#f4ff00"/><stop offset=".946" stop-color="#ffeb00"/><stop offset=".986" stop-color="#f60"/><stop offset=".997" stop-color="#ff1f00"/></linearGradient><linearGradient id="ge59" x2="0" y2="1"><stop offset=".003" stop-color="#3700ff"/><stop offset=".803" stop-color="#2a00ff"/><stop offset=".929" stop-color="#0500ff"/><stop offset=".951" stop-color="#00ecff"/><stop offset=".963" stop-color="#00ffda"/><stop offset=".997" stop-color="#07f94a"/></linearGradient><linearGradient id="ge60" x2="0" y2="1"><stop offset=".003" stop-color="#3700ff"/><stop offset=".803" stop-color="#2a00ff"/><stop offset=".929" stop-color="#0500ff"/><stop offset=".951" stop-color="#00ecff"/><stop offset=".963" stop-color="#00ffda"/><stop offset=".997" stop-color="#07f94a"/></linearGradient><linearGradient id="ge61" x2="0" y2="1"><stop offset=".003" stop-color="#57f700"/><stop offset=".477" stop-color="#86fc00"/><stop offset=".889" stop-color="#c9ff00"/><stop offset=".94" stop-color="#ef0"/><stop offset=".957" stop-color="#ffec00"/><stop offset=".997" stop-color="#ff4600"/></linearGradient><linearGradient id="ge62" x2="0" y2="1"><stop offset=".003" stop-color="#2500ff"/><stop offset=".797" stop-color="#1900ff"/><stop offset=".923" stop-color="#000cff"/><stop offset=".929" stop-color="#0014ff"/><stop offset=".951" stop-color="#00c3ff"/><stop offset=".974" stop-color="#00feff"/><stop offset=".997" stop-color="#00ff7e"/></linearGradient><linearGradient id="ge63" x2="0" y2="1"><stop offset=".003" stop-color="#2500ff"/><stop offset=".797" stop-color="#1900ff"/><stop offset=".923" stop-color="#000cff"/><stop offset=".929" stop-color="#0014ff"/><stop offset=".951" stop-color="#00c3ff"/><stop offset=".974" stop-color="#00feff"/><stop offset=".997" stop-color="#00ff7e"/></linearGradient><linearGradient id="ge64" x2="0" y2="1"><stop offset=".003" stop-color="#64f900"/><stop offset=".871" stop-color="#cbff00"/><stop offset=".94" stop-color="#f7ff00"/><stop offset=".963" stop-color="#ffcd00"/><stop offset=".991" stop-color="#ff4600"/><stop offset=".997" stop-color="#ff1f00"/></linearGradient><linearGradient id="ge65" x2="0" y2="1"><stop offset=".003" stop-color="#5d00f9"/><stop offset=".14" stop-color="#0300ff"/><stop offset=".203" stop-color="#0024ff"/><stop offset=".254" stop-color="#0076ff"/><stop offset=".323" stop-color="#0080ff"/><stop offset=".414" stop-color="#0030ff"/><stop offset=".649" stop-color="#0031ff"/><stop offset=".786" stop-color="#0051ff"/><stop offset=".866" stop-color="#0085ff"/><stop offset=".911" stop-color="#00e6ff"/><stop offset=".917" stop-color="#00fcff"/><stop offset=".929" stop-color="#05fa56"/><stop offset=".934" stop-color="#0bf52c"/><stop offset=".951" stop-color="#00faff"/><stop offset=".974" stop-color="#00fff3"/><stop offset=".997" stop-color="#00ffbe"/></linearGradient><linearGradient id="ge66" x2="0" y2="1"><stop offset=".003" stop-color="#5900fb"/><stop offset=".117" stop-color="#0006ff"/><stop offset=".169" stop-color="#0035ff"/><stop offset=".231" stop-color="#00a5ff"/><stop offset=".306" stop-color="#00c2ff"/><stop offset=".38" stop-color="#0096ff"/><stop offset=".449" stop-color="#0052ff"/><stop offset=".62" stop-color="#0041ff"/><stop offset=".78" stop-color="#005aff"/><stop offset=".86" stop-color="#0082ff"/><stop offset=".906" stop-color="#00deff"/><stop offset=".917" stop-color="#00fff4"/><stop offset=".929" stop-color="#07f848"/><stop offset=".934" stop-color="#0cf41e"/><stop offset=".951" stop-color="#00fffa"/><stop offset=".969" stop-color="#0fe"/><stop offset=".997" stop-color="#00ffad"/></linearGradient><linearGradient id="ge67" x2="0" y2="1"><stop offset=".003" stop-color="#5600fc"/><stop offset=".1" stop-color="#000aff"/><stop offset=".14" stop-color="#0042ff"/><stop offset=".203" stop-color="#00b9ff"/><stop offset=".3" stop-color="#00cbff"/><stop offset=".397" stop-color="#00b7ff"/><stop offset=".477" stop-color="#0064ff"/><stop offset=".62" stop-color="#0051ff"/><stop offset=".797" stop-color="#0069ff"/><stop offset=".86" stop-color="#0087ff"/><stop offset=".906" stop-color="#00e3ff"/><stop offset=".911" stop-color="#00f3ff"/><stop offset=".917" stop-color="#00ffe6"/><stop offset=".929" stop-color="#08f73c"/><stop offset=".934" stop-color="#0ef213"/><stop offset=".951" stop-color="#00ffeb"/><stop offset=".957" stop-color="#00fffa"/><stop offset=".997" stop-color="#00ff9e"/></linearGradient><linearGradient id="ge68" x2="0" y2="1"><stop offset=".003" stop-color="#5400fd"/><stop offset=".089" stop-color="#0004ff"/><stop offset=".1" stop-color="#0030ff"/><stop offset=".169" stop-color="#00bcff"/><stop offset=".277" stop-color="#00cbff"/><stop offset=".426" stop-color="#00c0ff"/><stop offset=".523" stop-color="#0065ff"/><stop offset=".791" stop-color="#006bff"/><stop offset=".86" stop-color="#008aff"/><stop offset=".911" stop-color="#00f7ff"/><stop offset=".917" stop-color="#00ffdb"/><stop offset=".929" stop-color="#0af634"/><stop offset=".934" stop-color="#0ff10a"/><stop offset=".951" stop-color="#00ffe1"/><stop offset=".957" stop-color="#00ffef"/><stop offset=".997" stop-color="#00ff94"/></linearGradient><linearGradient id="ge69" x2="0" y2="1"><stop offset=".003" stop-color="#5300fe"/><stop offset=".089" stop-color="#0008ff"/><stop offset=".094" stop-color="#007bff"/><stop offset=".151" stop-color="#00caff"/><stop offset=".46" stop-color="#00c0ff"/><stop offset=".5" stop-color="#009bff"/><stop offset=".506" stop-color="#006fff"/><stop offset=".769" stop-color="#0067ff"/><stop offset=".86" stop-color="#008cff"/><stop offset=".911" stop-color="#00f9ff"/><stop offset=".917" stop-color="#00ffd6"/><stop offset=".929" stop-color="#0af630"/><stop offset=".934" stop-color="#0ff106"/><stop offset=".951" stop-color="#00ffdc"/><stop offset=".957" stop-color="#00ffea"/><stop offset=".997" stop-color="#00ff8e"/></linearGradient><linearGradient id="ge70" x2="0" y2="1"><stop offset=".003" stop-color="#5400fd"/><stop offset=".089" stop-color="#0004ff"/><stop offset=".1" stop-color="#0030ff"/><stop offset=".169" stop-color="#00bcff"/><stop offset=".277" stop-color="#00cbff"/><stop offset=".426" stop-color="#00c0ff"/><stop offset=".523" stop-color="#0065ff"/><stop offset=".791" stop-color="#006bff"/><stop offset=".86" stop-color="#008aff"/><stop offset=".911" stop-color="#00f7ff"/><stop offset=".917" stop-color="#00ffdb"/><stop offset=".929" stop-color="#0af634"/><stop offset=".934" stop-color="#0ff10a"/><stop offset=".951" stop-color="#00ffe1"/><stop offset=".957" stop-color="#00ffef"/><stop offset=".997" stop-color="#00ff94"/></linearGradient><linearGradient id="ge71" x2="0" y2="1"><stop offset=".003" stop-color="#5600fc"/><stop offset=".1" stop-color="#000aff"/><stop offset=".14" stop-color="#0042ff"/><stop offset=".203" stop-color="#00b9ff"/><stop offset=".3" stop-color="#00cbff"/><stop offset=".397" stop-color="#00b7ff"/><stop offset=".477" stop-color="#0064ff"/><stop offset=".62" stop-color="#0051ff"/><stop offset=".797" stop-color="#0069ff"/><stop offset=".86" stop-color="#0087ff"/><stop offset=".906" stop-color="#00e3ff"/><stop offset=".911" stop-color="#00f3ff"/><stop offset=".917" stop-color="#00ffe6"/><stop offset=".929" stop-color="#08f73c"/><stop offset=".934" stop-color="#0ef213"/><stop offset=".951" stop-color="#00ffeb"/><stop offset=".957" stop-color="#00fffa"/><stop offset=".997" stop-color="#00ff9e"/></linearGradient><linearGradient id="ge72" x2="0" y2="1"><stop offset=".003" stop-color="#5900fb"/><stop offset=".117" stop-color="#0006ff"/><stop offset=".169" stop-color="#0035ff"/><stop offset=".231" stop-color="#00a5ff"/><stop offset=".306" stop-color="#00c2ff"/><stop offset=".38" stop-color="#0096ff"/><stop offset=".449" stop-color="#0052ff"/><stop offset=".62" stop-color="#0041ff"/><stop offset=".78" stop-color="#005aff"/><stop offset=".86" stop-color="#0082ff"/><stop offset=".906" stop-color="#00deff"/><stop offset=".917" stop-color="#00fff4"/><stop offset=".929" stop-color="#07f848"/><stop offset=".934" stop-color="#0cf41e"/><stop offset=".951" stop-color="#00fffa"/><stop offset=".969" stop-color="#0fe"/><stop offset=".997" stop-color="#00ffad"/></linearGradient><linearGradient id="ge73" x2="0" y2="1"><stop offset=".003" stop-color="#5d00f9"/><stop offset=".14" stop-color="#0300ff"/><stop offset=".203" stop-color="#0024ff"/><stop offset=".254" stop-color="#0076ff"/><stop offset=".323" stop-color="#0080ff"/><stop offset=".414" stop-color="#0030ff"/><stop offset=".649" stop-color="#0031ff"/><stop offset=".786" stop-color="#0051ff"/><stop offset=".866" stop-color="#0085ff"/><stop offset=".911" stop-color="#00e6ff"/><stop offset=".917" stop-color="#00fcff"/><stop offset=".929" stop-color="#05fa56"/><stop offset=".934" stop-color="#0bf52c"/><stop offset=".951" stop-color="#00faff"/><stop offset=".974" stop-color="#00fff3"/><stop offset=".997" stop-color="#00ffbe"/></linearGradient><linearGradient id="ge74" x2="0" y2="1"><stop offset=".003" stop-color="#7000f0"/><stop offset=".134" stop-color="#2900ff"/><stop offset=".157" stop-color="#0400ff"/><stop offset=".191" stop-color="#0060ff"/><stop offset=".323" stop-color="#00e6ff"/><stop offset=".557" stop-color="#006eff"/><stop offset=".791" stop-color="#0027ff"/><stop offset=".831" stop-color="#0031ff"/><stop offset=".86" stop-color="#007aff"/><stop offset=".877" stop-color="#00e9ff"/><stop offset=".883" stop-color="#04fb5e"/><stop offset=".889" stop-color="#0ff10c"/><stop offset=".894" stop-color="#08f842"/><stop offset=".9" stop-color="#00ffb5"/><stop offset=".906" stop-color="#00fff3"/><stop offset=".911" stop-color="#00fff3"/><stop offset=".917" stop-color="#03fc65"/><stop offset=".923" stop-color="#2ff300"/><stop offset=".934" stop-color="#18f100"/><stop offset=".94" stop-color="#09f739"/><stop offset=".946" stop-color="#00ff8f"/><stop offset=".951" stop-color="#00ff9d"/><stop offset=".969" stop-color="#0df31a"/><stop offset=".974" stop-color="#5af800"/><stop offset=".98" stop-color="#a8ff00"/><stop offset=".997" stop-color="#d9ff00"/></linearGradient><linearGradient id="ge75" x2="0" y2="1"><stop offset=".003" stop-color="#7000f0"/><stop offset=".134" stop-color="#2900ff"/><stop offset=".157" stop-color="#0400ff"/><stop offset=".191" stop-color="#0060ff"/><stop offset=".323" stop-color="#00e6ff"/><stop offset=".557" stop-color="#006eff"/><stop offset=".791" stop-color="#0027ff"/><stop offset=".831" stop-color="#0031ff"/><stop offset=".86" stop-color="#007aff"/><stop offset=".877" stop-color="#00e9ff"/><stop offset=".883" stop-color="#04fb5e"/><stop offset=".889" stop-color="#0ff10c"/><stop offset=".894" stop-color="#08f842"/><stop offset=".9" stop-color="#00ffb5"/><stop offset=".906" stop-color="#00fff3"/><stop offset=".911" stop-color="#00fff3"/><stop offset=".917" stop-color="#03fc65"/><stop offset=".923" stop-color="#2ff300"/><stop offset=".934" stop-color="#18f100"/><stop offset=".94" stop-color="#09f739"/><stop offset=".946" stop-color="#00ff8f"/><stop offset=".951" stop-color="#00ff9d"/><stop offset=".969" stop-color="#0df31a"/><stop offset=".974" stop-color="#5af800"/><stop offset=".98" stop-color="#a8ff00"/><stop offset=".997" stop-color="#d9ff00"/></linearGradient><linearGradient id="ge76" x2="0" y2="1"><stop offset=".003" stop-color="#7000f0"/><stop offset=".134" stop-color="#2900ff"/><stop offset=".157" stop-color="#0400ff"/><stop offset=".191" stop-color="#0060ff"/><stop offset=".323" stop-color="#00e6ff"/><stop offset=".557" stop-color="#006eff"/><stop offset=".791" stop-color="#0027ff"/><stop offset=".831" stop-color="#0031ff"/><stop offset=".86" stop-color="#007aff"/><stop offset=".877" stop-color="#00e9ff"/><stop offset=".883" stop-color="#04fb5e"/><stop offset=".889" stop-color="#0ff10c"/><stop offset=".894" stop-color="#08f842"/><stop offset=".9" stop-color="#00ffb5"/><stop offset=".906" stop-color="#00fff3"/><stop offset=".911" stop-color="#00fff3"/><stop offset=".917" stop-color="#03fc65"/><stop offset=".923" stop-color="#2ff300"/><stop offset=".934" stop-color="#18f100"/><stop offset=".94" stop-color="#09f739"/><stop offset=".946" stop-color="#00ff8f"/><stop offset=".951" stop-color="#00ff9d"/><stop offset=".969" stop-color="#0df31a"/><stop offset=".974" stop-color="#5af800"/><stop offset=".98" stop-color="#a8ff00"/><stop offset=".997" stop-color="#d9ff00"/></linearGradient><linearGradient id="ge77" x2="0" y2="1"><stop offset=".003" stop-color="#7000f0"/><stop offset=".134" stop-color="#2900ff"/><stop offset=".157" stop-color="#0400ff"/><stop offset=".191" stop-color="#0060ff"/><stop offset=".323" stop-color="#00e6ff"/><stop offset=".557" stop-color="#006eff"/><stop offset=".791" stop-color="#0027ff"/><stop offset=".831" stop-color="#0031ff"/><stop offset=".86" stop-color="#007aff"/><stop offset=".877" stop-color="#00e9ff"/><stop offset=".883" stop-color="#04fb5e"/><stop offset=".889" stop-color="#0ff10c"/><stop offset=".894" stop-color="#08f842"/><stop offset=".9" stop-color="#00ffb5"/><stop offset=".906" stop-color="#00fff3"/><stop offset=".911" stop-color="#00fff3"/><stop offset=".917" stop-color="#03fc65"/><stop offset=".923" stop-color="#2ff300"/><stop offset=".934" stop-color="#18f100"/><stop offset=".94" stop-color="#09f739"/><stop offset=".946" stop-color="#00ff8f"/><stop offset=".951" stop-color="#00ff9d"/><stop offset=".969" stop-color="#0df31a"/><stop offset=".974" stop-color="#5af800"/><stop offset=".98" stop-color="#a8ff00"/><stop offset=".997" stop-color="#d9ff00"/></linearGradient><linearGradient id="ge78" x2="0" y2="1"><stop offset=".003" stop-color="#7000f0"/><stop offset=".134" stop-color="#2900ff"/><stop offset=".157" stop-color="#0400ff"/><stop offset=".191" stop-color="#0060ff"/><stop offset=".323" stop-color="#00e6ff"/><stop offset=".557" stop-color="#006eff"/><stop offset=".791" stop-color="#0027ff"/><stop offset=".831" stop-color="#0031ff"/><stop offset=".86" stop-color="#007aff"/><stop offset=".877" stop-color="#00e9ff"/><stop offset=".883" stop-color="#04fb5e"/><stop offset=".889" stop-color="#0ff10c"/><stop offset=".894" stop-color="#08f842"/><stop offset=".9" stop-color="#00ffb5"/><stop offset=".906" stop-color="#00fff3"/><stop offset=".911" stop-color="#00fff3"/><stop offset=".917" stop-color="#03fc65"/><stop offset=".923" stop-color="#2ff300"/><stop offset=".934" stop-color="#18f100"/><stop offset=".94" stop-color="#09f739"/><stop offset=".946" stop-color="#00ff8f"/><stop offset=".951" stop-color="#00ff9d"/><stop offset=".969" stop-color="#0df31a"/><stop offset=".974" stop-color="#5af800"/><stop offset=".98" stop-color="#a8ff00"/><stop offset=".997" stop-color="#d9ff00"/></linearGradient><linearGradient id="ge79" x2="0" y2="1"><stop offset=".003" stop-color="#7000f0"/><stop offset=".134" stop-color="#2900ff"/><stop offset=".157" stop-color="#0400ff"/><stop offset=".191" stop-color="#0060ff"/><stop offset=".323" stop-color="#00e6ff"/><stop offset=".557" stop-color="#006eff"/><stop offset=".791" stop-color="#0027ff"/><stop offset=".831" stop-color="#0031ff"/><stop offset=".86" stop-color="#007aff"/><stop offset=".877" stop-color="#00e9ff"/><stop offset=".883" stop-color="#04fb5e"/><stop offset=".889" stop-color="#0ff10c"/><stop offset=".894" stop-color="#08f842"/><stop offset=".9" stop-color="#00ffb5"/><stop offset=".906" stop-color="#00fff3"/><stop offset=".911" stop-color="#00fff3"/><stop offset=".917" stop-color="#03fc65"/><stop offset=".923" stop-color="#2ff300"/><stop offset=".934" stop-color="#18f100"/><stop offset=".94" stop-color="#09f739"/><stop offset=".946" stop-color="#00ff8f"/><stop offset=".951" stop-color="#00ff9d"/><stop offset=".969" stop-color="#0df31a"/><stop offset=".974" stop-color="#5af800"/><stop offset=".98" stop-color="#a8ff00"/><stop offset=".997" stop-color="#d9ff00"/></linearGradient><linearGradient id="ge80" x2="0" y2="1"><stop offset=".003" stop-color="#7000f0"/><stop offset=".134" stop-color="#2900ff"/><stop offset=".157" stop-color="#0400ff"/><stop offset=".191" stop-color="#0060ff"/><stop offset=".323" stop-color="#00e6ff"/><stop offset=".557" stop-color="#006eff"/><stop offset=".791" stop-color="#0027ff"/><stop offset=".831" stop-color="#0031ff"/><stop offset=".86" stop-color="#007aff"/><stop offset=".877" stop-color="#00e9ff"/><stop offset=".883" stop-color="#04fb5e"/><stop offset=".889" stop-color="#0ff10c"/><stop offset=".894" stop-color="#08f842"/><stop offset=".9" stop-color="#00ffb5"/><stop offset=".906" stop-color="#00fff3"/><stop offset=".911" stop-color="#00fff3"/><stop offset=".917" stop-color="#03fc65"/><stop offset=".923" stop-color="#2ff300"/><stop offset=".934" stop-color="#18f100"/><stop offset=".94" stop-color="#09f739"/><stop offset=".946" stop-color="#00ff8f"/><stop offset=".951" stop-color="#00ff9d"/><stop offset=".969" stop-color="#0df31a"/><stop offset=".974" stop-color="#5af800"/><stop offset=".98" stop-color="#a8ff00"/><stop offset=".997" stop-color="#d9ff00"/></linearGradient><linearGradient id="ge81" x2="0" y2="1"><stop offset=".003" stop-color="#7000f0"/><stop offset=".134" stop-color="#2900ff"/><stop offset=".157" stop-color="#0400ff"/><stop offset=".191" stop-color="#0060ff"/><stop offset=".323" stop-color="#00e6ff"/><stop offset=".557" stop-color="#006eff"/><stop offset=".791" stop-color="#0027ff"/><stop offset=".831" stop-color="#0031ff"/><stop offset=".86" stop-color="#007aff"/><stop offset=".877" stop-color="#00e9ff"/><stop offset=".883" stop-color="#04fb5e"/><stop offset=".889" stop-color="#0ff10c"/><stop offset=".894" stop-color="#08f842"/><stop offset=".9" stop-color="#00ffb5"/><stop offset=".906" stop-color="#00fff3"/><stop offset=".911" stop-color="#00fff3"/><stop offset=".917" stop-color="#03fc65"/><stop offset=".923" stop-color="#2ff300"/><stop offset=".934" stop-color="#18f100"/><stop offset=".94" stop-color="#09f739"/><stop offset=".946" stop-color="#00ff8f"/><stop offset=".951" stop-color="#00ff9d"/><stop offset=".969" stop-color="#0df31a"/><stop offset=".974" stop-color="#5af800"/><stop offset=".98" stop-color="#a8ff00"/><stop offset=".997" stop-color="#d9ff00"/></linearGradient><linearGradient id="ge82" x2="0" y2="1"><stop offset=".003" stop-color="#7000f0"/><stop offset=".134" stop-color="#2900ff"/><stop offset=".157" stop-color="#0400ff"/><stop offset=".191" stop-color="#0060ff"/><stop offset=".323" stop-color="#00e6ff"/><stop offset=".557" stop-color="#006eff"/><stop offset=".791" stop-color="#0027ff"/><stop offset=".831" stop-color="#0031ff"/><stop offset=".86" stop-color="#007aff"/><stop offset=".877" stop-color="#00e9ff"/><stop offset=".883" stop-color="#04fb5e"/><stop offset=".889" stop-color="#0ff10c"/><stop offset=".894" stop-color="#08f842"/><stop offset=".9" stop-color="#00ffb5"/><stop offset=".906" stop-color="#00fff3"/><stop offset=".911" stop-color="#00fff3"/><stop offset=".917" stop-color="#03fc65"/><stop offset=".923" stop-color="#2ff300"/><stop offset=".934" stop-color="#18f100"/><stop offset=".94" stop-color="#09f739"/><stop offset=".946" stop-color="#00ff8f"/><stop offset=".951" stop-color="#00ff9d"/><stop offset=".969" stop-color="#0df31a"/><stop offset=".974" stop-color="#5af800"/><stop offset=".98" stop-color="#a8ff00"/><stop offset=".997" stop-color="#d9ff00"/></linearGradient><linearGradient id="ge83" x2="0" y2="1"><stop offset=".003" stop-color="#7000f0"/><stop offset=".134" stop-color="#2900ff"/><stop offset=".157" stop-color="#0400ff"/><stop offset=".191" stop-color="#0060ff"/><stop offset=".323" stop-color="#00e6ff"/><stop offset=".557" stop-color="#006eff"/><stop offset=".791" stop-color="#0027ff"/><stop offset=".831" stop-color="#0031ff"/><stop offset=".86" stop-color="#007aff"/><stop offset=".877" stop-color="#00e9ff"/><stop offset=".883" stop-color="#04fb5e"/><stop offset=".889" stop-color="#0ff10c"/><stop offset=".894" stop-color="#08f842"/><stop offset=".9" stop-color="#00ffb5"/><stop offset=".906" stop-color="#00fff3"/><stop offset=".911" stop-color="#00fff3"/><stop offset=".917" stop-color="#03fc65"/><stop offset=".923" stop-color="#2ff300"/><stop offset=".934" stop-color="#18f100"/><stop offset=".94" stop-color="#09f739"/><stop offset=".946" stop-color="#00ff8f"/><stop offset=".951" stop-color="#00ff9d"/><stop offset=".969" stop-color="#0df31a"/><stop offset=".974" stop-color="#5af800"/><stop offset=".98" stop-color="#a8ff00"/><stop offset=".997" stop-color="#d9ff00"/></linearGradient><linearGradient id="ge84" x2="0" y2="1"><stop offset=".003" stop-color="#7000f0"/><stop offset=".134" stop-color="#2900ff"/><stop offset=".157" stop-color="#0400ff"/><stop offset=".191" stop-color="#0060ff"/><stop offset=".323" stop-color="#00e6ff"/><stop offset=".557" stop-color="#006eff"/><stop offset=".791" stop-color="#0027ff"/><stop offset=".831" stop-color="#0031ff"/><stop offset=".86" stop-color="#007aff"/><stop offset=".877" stop-color="#00e9ff"/><stop offset=".883" stop-color="#04fb5e"/><stop offset=".889" stop-color="#0ff10c"/><stop offset=".894" stop-color="#08f842"/><stop offset=".9" stop-color="#00ffb5"/><stop offset=".906" stop-color="#00fff3"/><stop offset=".911" stop-color="#00fff3"/><stop offset=".917" stop-color="#03fc65"/><stop offset=".923" stop-color="#2ff300"/><stop offset=".934" stop-color="#18f100"/><stop offset=".94" stop-color="#09f739"/><stop offset=".946" stop-color="#00ff8f"/><stop offset=".951" stop-color="#00ff9d"/><stop offset=".969" stop-color="#0df31a"/><stop offset=".974" stop-color="#5af800"/><stop offset=".98" stop-color="#a8ff00"/><stop offset=".997" stop-color="#d9ff00"/></linearGradient><linearGradient id="ge85" x2="0" y2="1"><stop offset=".003" stop-color="#7000f0"/><stop offset=".134" stop-color="#2900ff"/><stop offset=".157" stop-color="#0400ff"/><stop offset=".191" stop-color="#0060ff"/><stop offset=".323" stop-color="#00e6ff"/><stop offset=".557" stop-color="#006eff"/><stop offset=".791" stop-color="#0027ff"/><stop offset=".831" stop-color="#0031ff"/><stop offset=".86" stop-color="#007aff"/><stop offset=".877" stop-color="#00e9ff"/><stop offset=".883" stop-color="#04fb5e"/><stop offset=".889" stop-color="#0ff10c"/><stop offset=".894" stop-color="#08f842"/><stop offset=".9" stop-color="#00ffb5"/><stop offset=".906" stop-color="#00fff3"/><stop offset=".911" stop-color="#00fff3"/><stop offset=".917" stop-color="#03fc65"/><stop offset=".923" stop-color="#2ff300"/><stop offset=".934" stop-color="#18f100"/><stop offset=".94" stop-color="#09f739"/><stop offset=".946" stop-color="#00ff8f"/><stop offset=".951" stop-color="#00ff9d"/><stop offset=".969" stop-color="#0df31a"/><stop offset=".974" stop-color="#5af800"/><stop offset=".98" stop-color="#a8ff00"/><stop offset=".997" stop-color="#d9ff00"/></linearGradient><linearGradient id="ge86" x2="0" y2="1"><stop offset=".003" stop-color="#7000f0"/><stop offset=".134" stop-color="#2900ff"/><stop offset=".157" stop-color="#0400ff"/><stop offset=".191" stop-color="#0060ff"/><stop offset=".323" stop-color="#00e6ff"/><stop offset=".557" stop-color="#006eff"/><stop offset=".791" stop-color="#0027ff"/><stop offset=".831" stop-color="#0031ff"/><stop offset=".86" stop-color="#007aff"/><stop offset=".877" stop-color="#00e9ff"/><stop offset=".883" stop-color="#04fb5e"/><stop offset=".889" stop-color="#0ff10c"/><stop offset=".894" stop-color="#08f842"/><stop offset=".9" stop-color="#00ffb5"/><stop offset=".906" stop-color="#00fff3"/><stop offset=".911" stop-color="#00fff3"/><stop offset=".917" stop-color="#03fc65"/><stop offset=".923" stop-color="#2ff300"/><stop offset=".934" stop-color="#18f100"/><stop offset=".94" stop-color="#09f739"/><stop offset=".946" stop-color="#00ff8f"/><stop offset=".951" stop-color="#00ff9d"/><stop offset=".969" stop-color="#0df31a"/><stop offset=".974" stop-color="#5af800"/><stop offset=".98" stop-color="#a8ff00"/><stop offset=".997" stop-color="#d9ff00"/></linearGradient><linearGradient id="ge87" x2="0" y2="1"><stop offset=".003" stop-color="#7000f0"/><stop offset=".134" stop-color="#2900ff"/><stop offset=".157" stop-color="#0400ff"/><stop offset=".191" stop-color="#0060ff"/><stop offset=".323" stop-color="#00e6ff"/><stop offset=".557" stop-color="#006eff"/><stop offset=".791" stop-color="#0027ff"/><stop offset=".831" stop-color="#0031ff"/><stop offset=".86" stop-color="#007aff"/><stop offset=".877" stop-color="#00e9ff"/><stop offset=".883" stop-color="#04fb5e"/><stop offset=".889" stop-color="#0ff10c"/><stop offset=".894" stop-color="#08f842"/><stop offset=".9" stop-color="#00ffb5"/><stop offset=".906" stop-color="#00fff3"/><stop offset=".911" stop-color="#00fff3"/><stop offset=".917" stop-color="#03fc65"/><stop offset=".923" stop-color="#2ff300"/><stop offset=".934" stop-color="#18f100"/><stop offset=".94" stop-color="#09f739"/><stop offset=".946" stop-color="#00ff8f"/><stop offset=".951" stop-color="#00ff9d"/><stop offset=".969" stop-color="#0df31a"/><stop offset=".974" stop-color="#5af800"/><stop offset=".98" stop-color="#a8ff00"/><stop offset=".997" stop-color="#d9ff00"/></linearGradient><linearGradient id="ge88" x2="0" y2="1"><stop offset=".003" stop-color="#7000f0"/><stop offset=".134" stop-color="#2900ff"/><stop offset=".157" stop-color="#0400ff"/><stop offset=".191" stop-color="#0060ff"/><stop offset=".323" stop-color="#00e6ff"/><stop offset=".557" stop-color="#006eff"/><stop offset=".791" stop-color="#0027ff"/><stop offset=".831" stop-color="#0031ff"/><stop offset=".86" stop-color="#007aff"/><stop offset=".877" stop-color="#00e9ff"/><stop offset=".883" stop-color="#04fb5e"/><stop offset=".889" stop-color="#0ff10c"/><stop offset=".894" stop-color="#08f842"/><stop offset=".9" stop-color="#00ffb5"/><stop offset=".906" stop-color="#00fff3"/><stop offset=".911" stop-color="#00fff3"/><stop offset=".917" stop-color="#03fc65"/><stop offset=".923" stop-color="#2ff300"/><stop offset=".934" stop-color="#18f100"/><stop offset=".94" stop-color="#09f739"/><stop offset=".946" stop-color="#00ff8f"/><stop offset=".951" stop-color="#00ff9d"/><stop offset=".969" stop-color="#0df31a"/><stop offset=".974" stop-color="#5af800"/><stop offset=".98" stop-color="#a8ff00"/><stop offset=".997" stop-color="#d9ff00"/></linearGradient><linearGradient id="ge89" x2="0" y2="1"><stop offset=".003" stop-color="#7000f0"/><stop offset=".134" stop-color="#2900ff"/><stop offset=".157" stop-color="#0400ff"/><stop offset=".191" stop-color="#0060ff"/><stop offset=".323" stop-color="#00e6ff"/><stop offset=".557" stop-color="#006eff"/><stop offset=".791" stop-color="#0027ff"/><stop offset=".831" stop-color="#0031ff"/><stop offset=".86" stop-color="#007aff"/><stop offset=".877" stop-color="#00e9ff"/><stop offset=".883" stop-color="#04fb5e"/><stop offset=".889" stop-color="#0ff10c"/><stop offset=".894" stop-color="#08f842"/><stop offset=".9" stop-color="#00ffb5"/><stop offset=".906" stop-color="#00fff3"/><stop offset=".911" stop-color="#00fff3"/><stop offset=".917" stop-color="#03fc65"/><stop offset=".923" stop-color="#2ff300"/><stop offset=".934" stop-color="#18f100"/><stop offset=".94" stop-color="#09f739"/><stop offset=".946" stop-color="#00ff8f"/><stop offset=".951" stop-color="#00ff9d"/><stop offset=".969" stop-color="#0df31a"/><stop offset=".974" stop-color="#5af800"/><stop offset=".98" stop-color="#a8ff00"/><stop offset=".997" stop-color="#d9ff00"/></linearGradient><linearGradient id="ge90" x2="0" y2="1"><stop offset=".003" stop-color="#7000f0"/><stop offset=".134" stop-color="#2900ff"/><stop offset=".157" stop-color="#0400ff"/><stop offset=".191" stop-color="#0060ff"/><stop offset=".323" stop-color="#00e6ff"/><stop offset=".557" stop-color="#006eff"/><stop offset=".791" stop-color="#0027ff"/><stop offset=".831" stop-color="#0031ff"/><stop offset=".86" stop-color="#007aff"/><stop offset=".877" stop-color="#00e9ff"/><stop offset=".883" stop-color="#04fb5e"/><stop offset=".889" stop-color="#0ff10c"/><stop offset=".894" stop-color="#08f842"/><stop offset=".9" stop-color="#00ffb5"/><stop offset=".906" stop-color="#00fff3"/><stop offset=".911" stop-color="#00fff3"/><stop offset=".917" stop-color="#03fc65"/><stop offset=".923" stop-color="#2ff300"/><stop offset=".934" stop-color="#18f100"/><stop offset=".94" stop-color="#09f739"/><stop offset=".946" stop-color="#00ff8f"/><stop offset=".951" stop-color="#00ff9d"/><stop offset=".969" stop-color="#0df31a"/><stop offset=".974" stop-color="#5af800"/><stop offset=".98" stop-color="#a8ff00"/><stop offset=".997" stop-color="#d9ff00"/></linearGradient><linearGradient id="ge91" x2="0" y2="1"><stop offset=".003" stop-color="#7000f0"/><stop offset=".134" stop-color="#2900ff"/><stop offset=".157" stop-color="#0400ff"/><stop offset=".191" stop-color="#0060ff"/><stop offset=".323" stop-color="#00e6ff"/><stop offset=".557" stop-color="#006eff"/><stop offset=".791" stop-color="#0027ff"/><stop offset=".831" stop-color="#0031ff"/><stop offset=".86" stop-color="#007aff"/><stop offset=".877" stop-color="#00e9ff"/><stop offset=".883" stop-color="#04fb5e"/><stop offset=".889" stop-color="#0ff10c"/><stop offset=".894" stop-color="#08f842"/><stop offset=".9" stop-color="#00ffb5"/><stop offset=".906" stop-color="#00fff3"/><stop offset=".911" stop-color="#00fff3"/><stop offset=".917" stop-color="#03fc65"/><stop offset=".923" stop-color="#2ff300"/><stop offset=".934" stop-color="#18f100"/><stop offset=".94" stop-color="#09f739"/><stop offset=".946" stop-color="#00ff8f"/><stop offset=".951" stop-color="#00ff9d"/><stop offset=".969" stop-color="#0df31a"/><stop offset=".974" stop-color="#5af800"/><stop offset=".98" stop-color="#a8ff00"/><stop offset=".997" stop-color="#d9ff00"/></linearGradient><linearGradient id="ge92" x2="0" y2="1"><stop offset=".003" stop-color="#7000f0"/><stop offset=".134" stop-color="#2900ff"/><stop offset=".157" stop-color="#0400ff"/><stop offset=".191" stop-color="#0060ff"/><stop offset=".323" stop-color="#00e6ff"/><stop offset=".557" stop-color="#006eff"/><stop offset=".791" stop-color="#0027ff"/><stop offset=".831" stop-color="#0031ff"/><stop offset=".86" stop-color="#007aff"/><stop offset=".877" stop-color="#00e9ff"/><stop offset=".883" stop-color="#04fb5e"/><stop offset=".889" stop-color="#0ff10c"/><stop offset=".894" stop-color="#08f842"/><stop offset=".9" stop-color="#00ffb5"/><stop offset=".906" stop-color="#00fff3"/><stop offset=".911" stop-color="#00fff3"/><stop offset=".917" stop-color="#03fc65"/><stop offset=".923" stop-color="#2ff300"/><stop offset=".934" stop-color="#18f100"/><stop offset=".94" stop-color="#09f739"/><stop offset=".946" stop-color="#00ff8f"/><stop offset=".951" stop-color="#00ff9d"/><stop offset=".969" stop-color="#0df31a"/><stop offset=".974" stop-color="#5af800"/><stop offset=".98" stop-color="#a8ff00"/><stop offset=".997" stop-color="#d9ff00"/></linearGradient></defs><rect x="60.9" y="446" width="2.58" height="175" fill="url(#ge0)"/><rect x="62.48" y="446" width="2.58" height="175" fill="url(#ge1)"/><rect x="64.07" y="446" width="2.58" height="175" fill="url(#ge2)"/><rect x="65.65" y="446" width="2.58" height="175" fill="url(#ge3)"/><rect x="67.24" y="446" width="2.58" height="175" fill="url(#ge4)"/><rect x="68.82" y="446" width="2.58" height="175" fill="url(#ge5)"/><rect x="70.41" y="446" width="2.58" height="175" fill="url(#ge6)"/><rect x="71.99" y="446" width="2.58" height="175" fill="url(#ge7)"/><rect x="73.57" y="446" width="2.58" height="175" fill="url(#ge8)"/><rect x="75.16" y="446" width="2.58" height="175" fill="url(#ge9)"/><rect x="76.74" y="446" width="2.58" height="175" fill="url(#ge10)"/><rect x="78.33" y="446" width="2.58" height="175" fill="url(#ge11)"/><rect x="79.91" y="446" width="2.58" height="175" fill="url(#ge12)"/><rect x="81.49" y="446" width="2.58" height="175" fill="url(#ge13)"/><rect x="83.08" y="446" width="2.58" height="175" fill="url(#ge14)"/><rect x="84.66" y="446" width="2.58" height="175" fill="url(#ge15)"/><rect x="86.25" y="446" width="2.58" height="175" fill="url(#ge16)"/><rect x="87.83" y="446" width="2.58" height="175" fill="url(#ge17)"/><rect x="89.42" y="446" width="2.58" height="175" fill="url(#ge18)"/><rect x="91" y="446" width="5.83" height="175" fill="url(#ge19)"/><rect x="95.83" y="446" width="5.83" height="175" fill="url(#ge20)"/><rect x="100.66" y="446" width="5.83" height="175" fill="url(#ge21)"/><rect x="105.49" y="446" width="5.83" height="175" fill="url(#ge22)"/><rect x="110.31" y="446" width="5.83" height="175" fill="url(#ge23)"/><rect x="115.14" y="446" width="5.83" height="175" fill="url(#ge24)"/><rect x="119.97" y="446" width="5.83" height="175" fill="url(#ge25)"/><rect x="124.8" y="446" width="2.6" height="175" fill="url(#ge26)"/><rect x="126.4" y="446" width="2.6" height="175" fill="url(#ge27)"/><rect x="128" y="446" width="2.6" height="175" fill="url(#ge28)"/><rect x="129.6" y="446" width="2.6" height="175" fill="url(#ge29)"/><rect x="131.2" y="446" width="2.6" height="175" fill="url(#ge30)"/><rect x="132.8" y="446" width="2.6" height="175" fill="url(#ge31)"/><rect x="134.4" y="446" width="2.6" height="175" fill="url(#ge32)"/><rect x="136" y="446" width="2.6" height="175" fill="url(#ge33)"/><rect x="137.6" y="446" width="2.6" height="175" fill="url(#ge34)"/><rect x="139.2" y="446" width="2.6" height="175" fill="url(#ge35)"/><rect x="140.8" y="446" width="2.6" height="175" fill="url(#ge36)"/><rect x="142.4" y="446" width="2.6" height="175" fill="url(#ge37)"/><rect x="144" y="446" width="6.38" height="175" fill="url(#ge38)"/><rect x="149.38" y="446" width="6.38" height="175" fill="url(#ge39)"/><rect x="154.75" y="446" width="6.38" height="175" fill="url(#ge40)"/><rect x="160.12" y="446" width="6.38" height="175" fill="url(#ge41)"/><rect x="165.5" y="446" width="2.61" height="175" fill="url(#ge42)"/><rect x="167.11" y="446" width="2.61" height="175" fill="url(#ge43)"/><rect x="168.73" y="446" width="2.61" height="175" fill="url(#ge44)"/><rect x="170.34" y="446" width="2.61" height="175" fill="url(#ge45)"/><rect x="171.96" y="446" width="2.61" height="175" fill="url(#ge46)"/><rect x="173.57" y="446" width="2.61" height="175" fill="url(#ge47)"/><rect x="175.19" y="446" width="2.61" height="175" fill="url(#ge48)"/><rect x="176.8" y="446" width="5.4" height="175" fill="url(#ge49)"/><rect x="181.2" y="446" width="5.4" height="175" fill="url(#ge50)"/><rect x="185.6" y="446" width="5.4" height="175" fill="url(#ge51)"/><rect x="190" y="446" width="2.48" height="175" fill="url(#ge52)"/><rect x="191.48" y="446" width="2.48" height="175" fill="url(#ge53)"/><rect x="192.96" y="446" width="2.48" height="175" fill="url(#ge54)"/><rect x="194.44" y="446" width="2.48" height="175" fill="url(#ge55)"/><rect x="195.92" y="446" width="2.48" height="175" fill="url(#ge56)"/><rect x="197.4" y="446" width="5.3" height="175" fill="url(#ge57)"/><rect x="201.7" y="446" width="5.3" height="175" fill="url(#ge58)"/><rect x="206" y="446" width="2.8" height="175" fill="url(#ge59)"/><rect x="207.8" y="446" width="2.8" height="175" fill="url(#ge60)"/><rect x="209.6" y="446" width="5.6" height="175" fill="url(#ge61)"/><rect x="214.2" y="446" width="2.7" height="175" fill="url(#ge62)"/><rect x="215.9" y="446" width="2.7" height="175" fill="url(#ge63)"/><rect x="217.6" y="446" width="5.7" height="175" fill="url(#ge64)"/><rect x="222.3" y="446" width="2.59" height="175" fill="url(#ge65)"/><rect x="223.89" y="446" width="2.59" height="175" fill="url(#ge66)"/><rect x="225.48" y="446" width="2.59" height="175" fill="url(#ge67)"/><rect x="227.07" y="446" width="2.59" height="175" fill="url(#ge68)"/><rect x="228.66" y="446" width="2.59" height="175" fill="url(#ge69)"/><rect x="230.24" y="446" width="2.59" height="175" fill="url(#ge70)"/><rect x="231.83" y="446" width="2.59" height="175" fill="url(#ge71)"/><rect x="233.42" y="446" width="2.59" height="175" fill="url(#ge72)"/><rect x="235.01" y="446" width="2.59" height="175" fill="url(#ge73)"/><rect x="236.6" y="446" width="3.03" height="175" fill="url(#ge74)"/><rect x="238.63" y="446" width="3.03" height="175" fill="url(#ge75)"/><rect x="240.66" y="446" width="3.03" height="175" fill="url(#ge76)"/><rect x="242.69" y="446" width="3.03" height="175" fill="url(#ge77)"/><rect x="244.73" y="446" width="3.03" height="175" fill="url(#ge78)"/><rect x="246.76" y="446" width="3.03" height="175" fill="url(#ge79)"/><rect x="248.79" y="446" width="3.03" height="175" fill="url(#ge80)"/><rect x="250.82" y="446" width="3.03" height="175" fill="url(#ge81)"/><rect x="252.85" y="446" width="3.03" height="175" fill="url(#ge82)"/><rect x="254.88" y="446" width="3.03" height="175" fill="url(#ge83)"/><rect x="256.92" y="446" width="3.03" height="175" fill="url(#ge84)"/><rect x="258.95" y="446" width="3.03" height="175" fill="url(#ge85)"/><rect x="260.98" y="446" width="3.03" height="175" fill="url(#ge86)"/><rect x="263.01" y="446" width="3.03" height="175" fill="url(#ge87)"/><rect x="265.04" y="446" width="3.03" height="175" fill="url(#ge88)"/><rect x="267.07" y="446" width="3.03" height="175" fill="url(#ge89)"/><rect x="269.11" y="446" width="3.03" height="175" fill="url(#ge90)"/><rect x="271.14" y="446" width="3.03" height="175" fill="url(#ge91)"/><rect x="273.17" y="446" width="1.83" height="175" fill="url(#ge92)"/>
<line x1="91.0" y1="448.04" x2="124.8" y2="448.04" stroke="#ffeb00" stroke-width="1.5" stroke-dasharray="3 2.4"/><rect x="60.9" y="451.70" width="30.1" height="1.5" fill="#4af600"/><rect x="124.8" y="451.70" width="19.2" height="1.5" fill="#2ff300"/><line x1="91.0" y1="452.45" x2="124.8" y2="452.45" stroke="#ff7300" stroke-width="1.5" stroke-dasharray="3 2.4"/><line x1="144.0" y1="452.45" x2="165.5" y2="452.45" stroke="#fff200" stroke-width="1.5" stroke-dasharray="3 2.4"/><line x1="176.8" y1="452.45" x2="190.0" y2="452.45" stroke="#ffd300" stroke-width="1.5" stroke-dasharray="3 2.4"/><rect x="60.9" y="472.84" width="30.1" height="1.5" fill="#15f100"/><line x1="91.0" y1="473.59" x2="124.8" y2="473.59" stroke="#ffdb00" stroke-width="1.5" stroke-dasharray="3 2.4"/><line x1="144.0" y1="473.59" x2="165.5" y2="473.59" stroke="#fdff00" stroke-width="1.5" stroke-dasharray="3 2.4"/><rect x="165.5" y="484.30" width="11.3" height="1.5" fill="#15f000"/><rect x="60.9" y="493.55" width="30.1" height="1.5" fill="#4af600"/><rect x="124.8" y="493.55" width="19.2" height="1.5" fill="#2ff300"/><line x1="91.0" y1="494.30" x2="124.8" y2="494.30" stroke="#ff3900" stroke-width="1.5" stroke-dasharray="3 2.4"/><line x1="144.0" y1="494.30" x2="165.5" y2="494.30" stroke="#fff200" stroke-width="1.5" stroke-dasharray="3 2.4"/><line x1="91.0" y1="505.75" x2="124.8" y2="505.75" stroke="#ffdb00" stroke-width="1.5" stroke-dasharray="3 2.4"/><line x1="176.8" y1="505.75" x2="190.0" y2="505.75" stroke="#ff7300" stroke-width="1.5" stroke-dasharray="3 2.4"/><rect x="60.9" y="515.13" width="30.1" height="1.5" fill="#2ff300"/><line x1="91.0" y1="515.88" x2="124.8" y2="515.88" stroke="#ffdb00" stroke-width="1.5" stroke-dasharray="3 2.4"/><line x1="144.0" y1="518.96" x2="165.5" y2="518.96" stroke="#ff7300" stroke-width="1.5" stroke-dasharray="3 2.4"/><line x1="91.0" y1="529.54" x2="124.8" y2="529.54" stroke="#ff7300" stroke-width="1.5" stroke-dasharray="3 2.4"/><rect x="124.8" y="537.15" width="19.2" height="1.5" fill="#15f100"/><line x1="91.0" y1="537.90" x2="124.8" y2="537.90" stroke="#ff7300" stroke-width="1.5" stroke-dasharray="8 3"/><rect x="124.8" y="553.45" width="19.2" height="1.5" fill="#15f100"/><rect x="165.5" y="553.45" width="11.3" height="1.5" fill="#0fb"/><line x1="91.0" y1="554.20" x2="124.8" y2="554.20" stroke="#ff8400" stroke-width="1.5" stroke-dasharray="8 3"/><line x1="144.0" y1="554.20" x2="165.5" y2="554.20" stroke="#ff7300" stroke-width="1.5" stroke-dasharray="8 3"/><line x1="91.0" y1="557.29" x2="124.8" y2="557.29" stroke="#ff8400" stroke-width="1.5" stroke-dasharray="8 3"/><rect x="60.9" y="563.59" width="30.1" height="1.5" fill="#ff8400"/><rect x="124.8" y="563.59" width="19.2" height="1.5" fill="#15f100"/><line x1="91.0" y1="564.34" x2="124.8" y2="564.34" stroke="#f00" stroke-width="1.5" stroke-dasharray="8 3"/><rect x="60.9" y="578.12" width="30.1" height="1.5" fill="#dbff00"/><rect x="124.8" y="578.12" width="19.2" height="1.5" fill="#15f100"/><rect x="165.5" y="578.12" width="11.3" height="1.5" fill="#00fff4"/><line x1="91.0" y1="578.87" x2="124.8" y2="578.87" stroke="#f00" stroke-width="1.5" stroke-dasharray="8 3"/><rect x="124.8" y="586.93" width="19.2" height="1.5" fill="#0bf425"/><rect x="165.5" y="586.93" width="11.3" height="1.5" fill="#00fff4"/><line x1="91.0" y1="587.68" x2="124.8" y2="587.68" stroke="#ff9d00" stroke-width="1.5" stroke-dasharray="8 3"/><line x1="144.0" y1="587.68" x2="165.5" y2="587.68" stroke="#ff3900" stroke-width="1.5" stroke-dasharray="8 3"/><rect x="124.8" y="597.94" width="19.2" height="1.5" fill="#0bf425"/><line x1="91.0" y1="598.69" x2="124.8" y2="598.69" stroke="#f20" stroke-width="1.5" stroke-dasharray="8 3"/>
<ellipse cx="76" cy="564.34" rx="15.5" ry="3.2" fill="#e8ff30" opacity="0.55"/>
<ellipse cx="76" cy="564.34" rx="14.5" ry="1.5" fill="#ff4a00"/>
<rect x="60.2" y="445.6" width="215.00" height="176.00" fill="none" stroke="#000" stroke-width="1.3"/>
<line x1="53.80" y1="621.60" x2="60.20" y2="621.60" stroke="#000" stroke-width="1.1"/>
<text x="49.60" y="625.50" font-size="12.5" text-anchor="end" fill="#000" font-family='"Liberation Sans", sans-serif' >0</text>
<line x1="56.80" y1="599.58" x2="60.20" y2="599.58" stroke="#000" stroke-width="1.1"/>
<line x1="53.80" y1="577.55" x2="60.20" y2="577.55" stroke="#000" stroke-width="1.1"/>
<text x="49.60" y="581.45" font-size="12.5" text-anchor="end" fill="#000" font-family='"Liberation Sans", sans-serif' >100</text>
<line x1="56.80" y1="555.52" x2="60.20" y2="555.52" stroke="#000" stroke-width="1.1"/>
<line x1="53.80" y1="533.50" x2="60.20" y2="533.50" stroke="#000" stroke-width="1.1"/>
<text x="49.60" y="537.40" font-size="12.5" text-anchor="end" fill="#000" font-family='"Liberation Sans", sans-serif' >200</text>
<line x1="56.80" y1="511.48" x2="60.20" y2="511.48" stroke="#000" stroke-width="1.1"/>
<line x1="53.80" y1="489.45" x2="60.20" y2="489.45" stroke="#000" stroke-width="1.1"/>
<text x="49.60" y="493.35" font-size="12.5" text-anchor="end" fill="#000" font-family='"Liberation Sans", sans-serif' >300</text>
<line x1="56.80" y1="467.43" x2="60.20" y2="467.43" stroke="#000" stroke-width="1.1"/>
<line x1="53.80" y1="445.40" x2="60.20" y2="445.40" stroke="#000" stroke-width="1.1"/>
<text x="49.60" y="449.30" font-size="12.5" text-anchor="end" fill="#000" font-family='"Liberation Sans", sans-serif' >400</text>
<line x1="60.30" y1="621.60" x2="60.30" y2="628.10" stroke="#000" stroke-width="1.1"/>
<text x="60.30" y="641.90" font-size="12.5" text-anchor="middle" fill="#000" font-family='"Liberation Sans", sans-serif' >0</text>
<line x1="75.71" y1="621.60" x2="75.71" y2="625.40" stroke="#000" stroke-width="1.1"/>
<line x1="91.12" y1="621.60" x2="91.12" y2="628.10" stroke="#000" stroke-width="1.1"/>
<text x="91.12" y="641.90" font-size="12.5" text-anchor="middle" fill="#000" font-family='"Liberation Sans", sans-serif' >20</text>
<line x1="106.53" y1="621.60" x2="106.53" y2="625.40" stroke="#000" stroke-width="1.1"/>
<line x1="121.94" y1="621.60" x2="121.94" y2="628.10" stroke="#000" stroke-width="1.1"/>
<text x="121.94" y="641.90" font-size="12.5" text-anchor="middle" fill="#000" font-family='"Liberation Sans", sans-serif' >40</text>
<line x1="137.35" y1="621.60" x2="137.35" y2="625.40" stroke="#000" stroke-width="1.1"/>
<line x1="152.76" y1="621.60" x2="152.76" y2="628.10" stroke="#000" stroke-width="1.1"/>
<text x="152.76" y="641.90" font-size="12.5" text-anchor="middle" fill="#000" font-family='"Liberation Sans", sans-serif' >60</text>
<line x1="168.17" y1="621.60" x2="168.17" y2="625.40" stroke="#000" stroke-width="1.1"/>
<line x1="183.58" y1="621.60" x2="183.58" y2="628.10" stroke="#000" stroke-width="1.1"/>
<text x="183.58" y="641.90" font-size="12.5" text-anchor="middle" fill="#000" font-family='"Liberation Sans", sans-serif' >80</text>
<line x1="198.99" y1="621.60" x2="198.99" y2="625.40" stroke="#000" stroke-width="1.1"/>
<line x1="214.40" y1="621.60" x2="214.40" y2="628.10" stroke="#000" stroke-width="1.1"/>
<text x="214.40" y="641.90" font-size="12.5" text-anchor="middle" fill="#000" font-family='"Liberation Sans", sans-serif' >100</text>
<line x1="229.81" y1="621.60" x2="229.81" y2="625.40" stroke="#000" stroke-width="1.1"/>
<line x1="245.22" y1="621.60" x2="245.22" y2="628.10" stroke="#000" stroke-width="1.1"/>
<text x="245.22" y="641.90" font-size="12.5" text-anchor="middle" fill="#000" font-family='"Liberation Sans", sans-serif' >120</text>
<line x1="260.63" y1="621.60" x2="260.63" y2="625.40" stroke="#000" stroke-width="1.1"/>
<text transform="translate(16.7,540.30) rotate(-90)" font-size="14.4" text-anchor="middle" font-family='"Liberation Sans", sans-serif'>Frequency (GHz)</text>
<text x="119.2" y="659.90" font-size="15" font-family='"Liberation Sans", sans-serif'>Position <tspan font-family='"Liberation Serif", serif' font-style="italic">z</tspan> (nm)</text>
<rect x="297.3" y="113.6" width="44.30" height="176.20" fill="none" stroke="#000" stroke-width="1.3"/>
<line x1="291.00" y1="289.80" x2="297.30" y2="289.80" stroke="#000" stroke-width="1.1"/>
<line x1="335.60" y1="289.80" x2="341.60" y2="289.80" stroke="#000" stroke-width="1.1"/>
<line x1="293.70" y1="267.78" x2="297.30" y2="267.78" stroke="#000" stroke-width="1.1"/>
<line x1="338.20" y1="267.78" x2="341.60" y2="267.78" stroke="#000" stroke-width="1.1"/>
<line x1="291.00" y1="245.75" x2="297.30" y2="245.75" stroke="#000" stroke-width="1.1"/>
<line x1="335.60" y1="245.75" x2="341.60" y2="245.75" stroke="#000" stroke-width="1.1"/>
<line x1="293.70" y1="223.73" x2="297.30" y2="223.73" stroke="#000" stroke-width="1.1"/>
<line x1="338.20" y1="223.73" x2="341.60" y2="223.73" stroke="#000" stroke-width="1.1"/>
<line x1="291.00" y1="201.70" x2="297.30" y2="201.70" stroke="#000" stroke-width="1.1"/>
<line x1="335.60" y1="201.70" x2="341.60" y2="201.70" stroke="#000" stroke-width="1.1"/>
<line x1="293.70" y1="179.68" x2="297.30" y2="179.68" stroke="#000" stroke-width="1.1"/>
<line x1="338.20" y1="179.68" x2="341.60" y2="179.68" stroke="#000" stroke-width="1.1"/>
<line x1="291.00" y1="157.65" x2="297.30" y2="157.65" stroke="#000" stroke-width="1.1"/>
<line x1="335.60" y1="157.65" x2="341.60" y2="157.65" stroke="#000" stroke-width="1.1"/>
<line x1="293.70" y1="135.62" x2="297.30" y2="135.62" stroke="#000" stroke-width="1.1"/>
<line x1="338.20" y1="135.62" x2="341.60" y2="135.62" stroke="#000" stroke-width="1.1"/>
<line x1="291.00" y1="113.60" x2="297.30" y2="113.60" stroke="#000" stroke-width="1.1"/>
<line x1="335.60" y1="113.60" x2="341.60" y2="113.60" stroke="#000" stroke-width="1.1"/>
<line x1="319.45" y1="113.60" x2="319.45" y2="117.40" stroke="#000" stroke-width="1.1"/>
<line x1="297.30" y1="289.80" x2="297.30" y2="296.30" stroke="#000" stroke-width="1.1"/>
<line x1="319.45" y1="289.80" x2="319.45" y2="293.60" stroke="#000" stroke-width="1.1"/>
<line x1="341.60" y1="289.80" x2="341.60" y2="296.30" stroke="#000" stroke-width="1.1"/>
<text x="297.30" y="310.10" font-size="12.5" text-anchor="middle" fill="#000" font-family='"Liberation Sans", sans-serif' >0</text>
<text x="328.6" y="310.10" font-size="12.5" font-family='"Liberation Serif", serif' font-style="italic">k/k</text>
<text x="342.4" y="314.30" font-size="7" font-family='"Liberation Serif", serif' font-style="italic">max</text>
<text x="265.20" y="327.50" font-size="15" text-anchor="start" fill="#000" font-family='"Liberation Sans", sans-serif' >Wavenumber</text>
<polyline points="297.30,137.50 299.51,137.47 301.73,137.39 303.94,137.25 306.16,137.07 308.38,136.84 310.59,136.57 312.81,136.27 315.02,135.95 317.24,135.60 319.45,135.25 321.67,134.90 323.88,134.55 326.10,134.23 328.31,133.93 330.53,133.66 332.74,133.43 334.96,133.25 337.17,133.11 339.38,133.03 341.60,133.00" fill="none" stroke="#000" stroke-width="1.1" stroke-linejoin="round"/>
<polyline points="297.30,150.50 299.51,150.53 301.73,150.62 303.94,150.76 306.16,150.96 308.38,151.20 310.59,151.49 312.81,151.81 315.02,152.16 317.24,152.52 319.45,152.90 321.67,153.28 323.88,153.64 326.10,153.99 328.31,154.31 330.53,154.60 332.74,154.84 334.96,155.04 337.17,155.18 339.38,155.27 341.60,155.30" fill="none" stroke="#000" stroke-width="1.1" stroke-linejoin="round"/>
<polyline points="297.30,190.00 299.51,189.98 301.73,189.94 303.94,189.86 306.16,189.75 308.38,189.62 310.59,189.46 312.81,189.29 315.02,189.10 317.24,188.90 319.45,188.70 321.67,188.50 323.88,188.30 326.10,188.11 328.31,187.94 330.53,187.78 332.74,187.65 334.96,187.54 337.17,187.46 339.38,187.42 341.60,187.40" fill="none" stroke="#000" stroke-width="1.1" stroke-linejoin="round"/>
<polyline points="297.30,237.20 299.51,237.22 301.73,237.26 303.94,237.34 306.16,237.45 308.38,237.58 310.59,237.74 312.81,237.91 315.02,238.10 317.24,238.30 319.45,238.50 321.67,238.70 323.88,238.90 326.10,239.09 328.31,239.26 330.53,239.42 332.74,239.55 334.96,239.66 337.17,239.74 339.38,239.78 341.60,239.80" fill="none" stroke="#000" stroke-width="1.1" stroke-linejoin="round"/>
<polyline points="297.30,289.80 299.51,288.65 301.73,287.80 303.94,287.05 306.16,286.36 308.38,285.72 310.59,285.12 312.81,284.56 315.02,284.05 317.24,283.57 319.45,283.13 321.67,282.73 323.88,282.37 326.10,282.05 328.31,281.78 330.53,281.54 332.74,281.35 334.96,281.20 337.17,281.09 339.38,281.02 341.60,281.00" fill="none" stroke="#000" stroke-width="1.1" stroke-linejoin="round"/>
<line x1="265.20" y1="150.80" x2="290.00" y2="150.80" stroke="#000" stroke-width="1.3"/>
<path d="M259.20,150.80 L267.70,147.20 L266.20,150.80 L267.70,154.40 Z" fill="#000"/>
<line x1="197.00" y1="564.60" x2="222.70" y2="564.60" stroke="#000" stroke-width="1.3"/>
<path d="M191.00,564.60 L199.50,561.00 L198.00,564.60 L199.50,568.20 Z" fill="#000"/>
<defs><linearGradient id="cbar" x2="0" y2="1"><stop offset="0.0000" stop-color="#500000"/><stop offset="0.1089" stop-color="#a00000"/><stop offset="0.1933" stop-color="#ff0000"/><stop offset="0.3389" stop-color="#ff0000"/><stop offset="0.3778" stop-color="#ff5000"/><stop offset="0.4189" stop-color="#ff9000"/><stop offset="0.4756" stop-color="#ffd000"/><stop offset="0.5089" stop-color="#ffff00"/><stop offset="0.5600" stop-color="#d8ff00"/><stop offset="0.6189" stop-color="#a0ff00"/><stop offset="0.6800" stop-color="#10f000"/><stop offset="0.7111" stop-color="#00ff80"/><stop offset="0.7356" stop-color="#00ffff"/><stop offset="0.7822" stop-color="#00a0ff"/><stop offset="0.8178" stop-color="#0060ff"/><stop offset="0.8533" stop-color="#0000ff"/><stop offset="0.8944" stop-color="#5000ff"/><stop offset="0.9244" stop-color="#7000f0"/><stop offset="1.0000" stop-color="#600090"/></linearGradient></defs>
<rect x="283.20" y="446.20" width="18.70" height="176.80" fill="url(#cbar)" />
<text x="306.00" y="448.90" font-size="7.7" text-anchor="start" fill="#111" font-family='"Liberation Sans", sans-serif' >1E+00</text>
<text x="306.00" y="468.54" font-size="7.7" text-anchor="start" fill="#111" font-family='"Liberation Sans", sans-serif' >1E-01</text>
<text x="306.00" y="488.19" font-size="7.7" text-anchor="start" fill="#111" font-family='"Liberation Sans", sans-serif' >1E-02</text>
<text x="306.00" y="507.83" font-size="7.7" text-anchor="start" fill="#111" font-family='"Liberation Sans", sans-serif' >1E-03</text>
<text x="306.00" y="527.48" font-size="7.7" text-anchor="start" fill="#111" font-family='"Liberation Sans", sans-serif' >1E-04</text>
<text x="306.00" y="547.12" font-size="7.7" text-anchor="start" fill="#111" font-family='"Liberation Sans", sans-serif' >1E-05</text>
<text x="306.00" y="566.77" font-size="7.7" text-anchor="start" fill="#111" font-family='"Liberation Sans", sans-serif' >1E-06</text>
<text x="306.00" y="586.41" font-size="7.7" text-anchor="start" fill="#111" font-family='"Liberation Sans", sans-serif' >1E-07</text>
<text x="306.00" y="606.06" font-size="7.7" text-anchor="start" fill="#111" font-family='"Liberation Sans", sans-serif' >1E-08</text>
<text x="306.00" y="625.70" font-size="7.7" text-anchor="start" fill="#111" font-family='"Liberation Sans", sans-serif' >1E-09</text>
<text transform="translate(336.4,477.2) rotate(90)" font-size="15" font-family='"Liberation Sans", sans-serif'>FFT amplitude &#949;</text>
<path d="M347.9,580.6 C346.9,581.2 346.9,581.9 347.5,582.4 S348.1,583.6 347.1,584.2" fill="none" stroke="#000" stroke-width="0.85"/>
<text x="1.50" y="16.80" font-size="20.5" text-anchor="start" fill="#000" font-family='"Liberation Sans", sans-serif' >a)</text>
<text x="1.50" y="111.50" font-size="20.5" text-anchor="start" fill="#000" font-family='"Liberation Sans", sans-serif' >b)</text>
<text x="274.50" y="111.30" font-size="20.5" text-anchor="start" fill="#000" font-family='"Liberation Sans", sans-serif' >c)</text>
<text x="1.50" y="346.80" font-size="20.5" text-anchor="start" fill="#000" font-family='"Liberation Sans", sans-serif' >d)</text>
<text x="1.50" y="442.60" font-size="20.5" text-anchor="start" fill="#000" font-family='"Liberation Sans", sans-serif' >e)</text>
</svg>
</body></html>
